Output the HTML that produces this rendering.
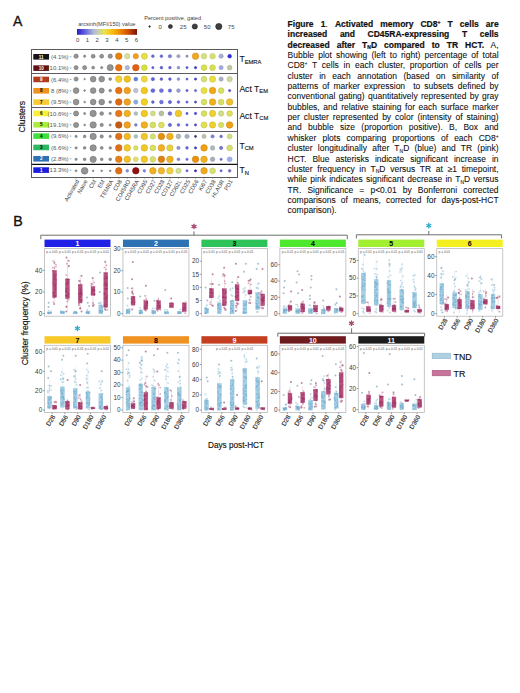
<!DOCTYPE html>
<html><head><meta charset="utf-8"><style>
html,body{margin:0;padding:0;background:#fff}
body{width:520px;height:693px;position:relative;overflow:hidden;font-family:"Liberation Sans", sans-serif}
.cap{position:absolute;left:287.6px;top:18.9px;width:211px;font-size:8.5px;line-height:10.36px;color:#111;-webkit-text-stroke:0.08px #111}
.cap .l{height:10.36px;white-space:nowrap;text-align:justify;text-align-last:justify}
.cap .l.last{text-align:left;text-align-last:left}
.cap b{-webkit-text-stroke:0.2px #111}
.cap sup{font-size:5px;vertical-align:0;position:relative;top:-3px}
.cap sub{font-size:5px;vertical-align:0;position:relative;top:1.5px}
</style></head><body>
<svg width="520" height="693" viewBox="0 0 520 693" style="position:absolute;left:0;top:0" font-family='"Liberation Sans", sans-serif'><rect x="31.5" y="49.5" width="206" height="128" fill="none" stroke="#5a5a5a" stroke-width="1"/><line x1="31.5" x2="237.5" y1="73.5" y2="73.5" stroke="#5e5a64" stroke-width="1"/><line x1="31.5" x2="237.5" y1="107.5" y2="107.5" stroke="#5e5a64" stroke-width="1"/><line x1="31.5" x2="237.5" y1="131.5" y2="131.5" stroke="#5e5a64" stroke-width="1"/><line x1="31.5" x2="237.5" y1="164.4" y2="164.4" stroke="#111" stroke-width="1.3"/><rect x="33.3" y="54.00" width="15.7" height="5.6" fill="#151515"/><text x="41.2" y="58.50" font-size="4.6" font-weight="bold" fill="#fff" text-anchor="middle">11</text><text x="68.6" y="58.90" font-size="6" fill="#555" text-anchor="end">(4.1%)</text><line x1="69.8" x2="71.3" y1="56.80" y2="56.80" stroke="#777" stroke-width="0.7"/><circle cx="76.10" cy="56.20" r="2.15" fill="#949494" stroke="#727272" stroke-width="0.6"/><circle cx="84.63" cy="56.20" r="1.15" fill="#949494" stroke="#727272" stroke-width="0.6"/><circle cx="93.16" cy="56.20" r="1.95" fill="#949494" stroke="#727272" stroke-width="0.6"/><circle cx="101.69" cy="56.20" r="1.95" fill="#949494" stroke="#727272" stroke-width="0.6"/><circle cx="110.22" cy="56.20" r="2.15" fill="#949494" stroke="#727272" stroke-width="0.6"/><circle cx="118.75" cy="56.20" r="3.27" fill="#e8820a" stroke="#c76f08" stroke-width="0.55"/><circle cx="127.28" cy="56.20" r="2.65" fill="#d8e0a0" stroke="#b9c089" stroke-width="0.55"/><circle cx="135.81" cy="56.20" r="2.65" fill="#f0a020" stroke="#ce891b" stroke-width="0.55"/><circle cx="144.34" cy="56.20" r="3.05" fill="#e8e040" stroke="#c7c037" stroke-width="0.55"/><circle cx="152.87" cy="56.20" r="1.35" fill="#6a6ae0" stroke="#5b5bc0" stroke-width="0.55"/><circle cx="161.40" cy="56.20" r="1.35" fill="#6a6ae0" stroke="#5b5bc0" stroke-width="0.55"/><circle cx="169.93" cy="56.20" r="1.65" fill="#8080e0" stroke="#6e6ec0" stroke-width="0.55"/><circle cx="178.46" cy="56.20" r="1.65" fill="#a0a8d0" stroke="#8990b2" stroke-width="0.55"/><circle cx="186.99" cy="56.20" r="1.15" fill="#9090c0" stroke="#7b7ba5" stroke-width="0.55"/><circle cx="195.52" cy="56.20" r="3.27" fill="#f0a820" stroke="#ce901b" stroke-width="0.55"/><circle cx="204.05" cy="56.20" r="2.75" fill="#d8e080" stroke="#b9c06e" stroke-width="0.55"/><circle cx="212.58" cy="56.20" r="2.75" fill="#d8e070" stroke="#b9c060" stroke-width="0.55"/><circle cx="221.11" cy="56.20" r="2.15" fill="#a8b0d0" stroke="#9097b2" stroke-width="0.55"/><circle cx="229.64" cy="56.20" r="1.85" fill="#3030e0" stroke="#2929c0" stroke-width="0.55"/><rect x="33.3" y="65.33" width="15.7" height="5.6" fill="#5e1414"/><text x="41.2" y="69.83" font-size="4.6" font-weight="bold" fill="#fff" text-anchor="middle">10</text><text x="68.6" y="70.23" font-size="6" fill="#555" text-anchor="end">(10.1%)</text><line x1="69.8" x2="71.3" y1="68.13" y2="68.13" stroke="#777" stroke-width="0.7"/><circle cx="76.10" cy="67.66" r="2.05" fill="#949494" stroke="#727272" stroke-width="0.6"/><circle cx="84.63" cy="67.66" r="2.05" fill="#949494" stroke="#727272" stroke-width="0.6"/><circle cx="93.16" cy="67.66" r="1.45" fill="#949494" stroke="#727272" stroke-width="0.6"/><circle cx="101.69" cy="67.66" r="1.15" fill="#949494" stroke="#727272" stroke-width="0.6"/><circle cx="110.22" cy="67.66" r="3.05" fill="#949494" stroke="#727272" stroke-width="0.6"/><circle cx="118.75" cy="67.66" r="3.27" fill="#e87010" stroke="#c7600d" stroke-width="0.55"/><circle cx="127.28" cy="67.66" r="2.25" fill="#b0b8d0" stroke="#979eb2" stroke-width="0.55"/><circle cx="135.81" cy="67.66" r="3.27" fill="#e06010" stroke="#c0520d" stroke-width="0.55"/><circle cx="144.34" cy="67.66" r="2.85" fill="#d8e040" stroke="#b9c037" stroke-width="0.55"/><circle cx="152.87" cy="67.66" r="1.15" fill="#6060e0" stroke="#5252c0" stroke-width="0.55"/><circle cx="161.40" cy="67.66" r="1.35" fill="#6060e0" stroke="#5252c0" stroke-width="0.55"/><circle cx="169.93" cy="67.66" r="1.35" fill="#6868e0" stroke="#5959c0" stroke-width="0.55"/><circle cx="178.46" cy="67.66" r="1.35" fill="#9098d0" stroke="#7b82b2" stroke-width="0.55"/><circle cx="186.99" cy="67.66" r="1.15" fill="#6060e0" stroke="#5252c0" stroke-width="0.55"/><circle cx="195.52" cy="67.66" r="1.15" fill="#3030e0" stroke="#2929c0" stroke-width="0.55"/><circle cx="204.05" cy="67.66" r="2.85" fill="#d8e050" stroke="#b9c044" stroke-width="0.55"/><circle cx="212.58" cy="67.66" r="2.85" fill="#d8e050" stroke="#b9c044" stroke-width="0.55"/><circle cx="221.11" cy="67.66" r="2.05" fill="#a0a8e0" stroke="#8990c0" stroke-width="0.55"/><circle cx="229.64" cy="67.66" r="2.35" fill="#c0c8a0" stroke="#a5ac89" stroke-width="0.55"/><rect x="33.3" y="76.66" width="15.7" height="5.6" fill="#b23c22"/><text x="41.2" y="81.16" font-size="4.6" font-weight="bold" fill="#fff" text-anchor="middle">9</text><text x="68.6" y="81.56" font-size="6" fill="#555" text-anchor="end">(6.4%)</text><line x1="69.8" x2="71.3" y1="79.46" y2="79.46" stroke="#777" stroke-width="0.7"/><circle cx="76.10" cy="79.12" r="2.05" fill="#949494" stroke="#727272" stroke-width="0.6"/><circle cx="84.63" cy="79.12" r="0.75" fill="#949494" stroke="#727272" stroke-width="0.6"/><circle cx="93.16" cy="79.12" r="2.85" fill="#949494" stroke="#727272" stroke-width="0.6"/><circle cx="101.69" cy="79.12" r="2.85" fill="#949494" stroke="#727272" stroke-width="0.6"/><circle cx="110.22" cy="79.12" r="1.35" fill="#949494" stroke="#727272" stroke-width="0.6"/><circle cx="118.75" cy="79.12" r="3.27" fill="#f0d030" stroke="#ceb229" stroke-width="0.55"/><circle cx="127.28" cy="79.12" r="3.27" fill="#f0c020" stroke="#cea51b" stroke-width="0.55"/><circle cx="135.81" cy="79.12" r="1.95" fill="#6080e0" stroke="#526ec0" stroke-width="0.55"/><circle cx="144.34" cy="79.12" r="3.05" fill="#f0d840" stroke="#ceb937" stroke-width="0.55"/><circle cx="152.87" cy="79.12" r="1.65" fill="#6060e0" stroke="#5252c0" stroke-width="0.55"/><circle cx="161.40" cy="79.12" r="1.35" fill="#6060e0" stroke="#5252c0" stroke-width="0.55"/><circle cx="169.93" cy="79.12" r="1.35" fill="#6060e0" stroke="#5252c0" stroke-width="0.55"/><circle cx="178.46" cy="79.12" r="1.35" fill="#9098d0" stroke="#7b82b2" stroke-width="0.55"/><circle cx="186.99" cy="79.12" r="1.05" fill="#6060e0" stroke="#5252c0" stroke-width="0.55"/><circle cx="195.52" cy="79.12" r="1.15" fill="#4040d0" stroke="#3737b2" stroke-width="0.55"/><circle cx="204.05" cy="79.12" r="2.85" fill="#d8e070" stroke="#b9c060" stroke-width="0.55"/><circle cx="212.58" cy="79.12" r="3.15" fill="#e8e040" stroke="#c7c037" stroke-width="0.55"/><circle cx="221.11" cy="79.12" r="2.15" fill="#a8b0c8" stroke="#9097ac" stroke-width="0.55"/><circle cx="229.64" cy="79.12" r="2.65" fill="#d0d8a0" stroke="#b2b989" stroke-width="0.55"/><rect x="33.3" y="87.99" width="15.7" height="5.6" fill="#f0921e"/><text x="41.2" y="92.49" font-size="4.6" font-weight="bold" fill="#000" text-anchor="middle">8</text><text x="68.6" y="92.89" font-size="6" fill="#555" text-anchor="end">8 (8%)</text><line x1="69.8" x2="71.3" y1="90.79" y2="90.79" stroke="#777" stroke-width="0.7"/><circle cx="76.10" cy="90.58" r="2.85" fill="#949494" stroke="#727272" stroke-width="0.6"/><circle cx="84.63" cy="90.58" r="0.85" fill="#949494" stroke="#727272" stroke-width="0.6"/><circle cx="93.16" cy="90.58" r="2.85" fill="#949494" stroke="#727272" stroke-width="0.6"/><circle cx="101.69" cy="90.58" r="2.55" fill="#949494" stroke="#727272" stroke-width="0.6"/><circle cx="110.22" cy="90.58" r="1.35" fill="#949494" stroke="#727272" stroke-width="0.6"/><circle cx="118.75" cy="90.58" r="3.27" fill="#e87010" stroke="#c7600d" stroke-width="0.55"/><circle cx="127.28" cy="90.58" r="3.27" fill="#f0a020" stroke="#ce891b" stroke-width="0.55"/><circle cx="135.81" cy="90.58" r="2.25" fill="#c0c0d8" stroke="#a5a5b9" stroke-width="0.55"/><circle cx="144.34" cy="90.58" r="3.27" fill="#f0c820" stroke="#ceac1b" stroke-width="0.55"/><circle cx="152.87" cy="90.58" r="1.95" fill="#6868e0" stroke="#5959c0" stroke-width="0.55"/><circle cx="161.40" cy="90.58" r="1.95" fill="#7070e0" stroke="#6060c0" stroke-width="0.55"/><circle cx="169.93" cy="90.58" r="1.65" fill="#6868e0" stroke="#5959c0" stroke-width="0.55"/><circle cx="178.46" cy="90.58" r="1.85" fill="#98a0d8" stroke="#8289b9" stroke-width="0.55"/><circle cx="186.99" cy="90.58" r="1.15" fill="#6060e0" stroke="#5252c0" stroke-width="0.55"/><circle cx="195.52" cy="90.58" r="1.15" fill="#6060e0" stroke="#5252c0" stroke-width="0.55"/><circle cx="204.05" cy="90.58" r="3.05" fill="#e8e040" stroke="#c7c037" stroke-width="0.55"/><circle cx="212.58" cy="90.58" r="3.27" fill="#f0a818" stroke="#ce9014" stroke-width="0.55"/><circle cx="221.11" cy="90.58" r="2.85" fill="#d8e060" stroke="#b9c052" stroke-width="0.55"/><circle cx="229.64" cy="90.58" r="1.15" fill="#5050d0" stroke="#4444b2" stroke-width="0.55"/><rect x="33.3" y="99.32" width="15.7" height="5.6" fill="#f8cc38"/><text x="41.2" y="103.82" font-size="4.6" font-weight="bold" fill="#000" text-anchor="middle">7</text><text x="68.6" y="104.22" font-size="6" fill="#555" text-anchor="end">(9.5%)</text><line x1="69.8" x2="71.3" y1="102.12" y2="102.12" stroke="#777" stroke-width="0.7"/><circle cx="76.10" cy="102.04" r="2.85" fill="#949494" stroke="#727272" stroke-width="0.6"/><circle cx="84.63" cy="102.04" r="0.85" fill="#949494" stroke="#727272" stroke-width="0.6"/><circle cx="93.16" cy="102.04" r="2.85" fill="#949494" stroke="#727272" stroke-width="0.6"/><circle cx="101.69" cy="102.04" r="2.85" fill="#949494" stroke="#727272" stroke-width="0.6"/><circle cx="110.22" cy="102.04" r="1.35" fill="#949494" stroke="#727272" stroke-width="0.6"/><circle cx="118.75" cy="102.04" r="3.27" fill="#e06810" stroke="#c0590d" stroke-width="0.55"/><circle cx="127.28" cy="102.04" r="3.27" fill="#f0a020" stroke="#ce891b" stroke-width="0.55"/><circle cx="135.81" cy="102.04" r="2.15" fill="#90a8e0" stroke="#7b90c0" stroke-width="0.55"/><circle cx="144.34" cy="102.04" r="3.27" fill="#f0d020" stroke="#ceb21b" stroke-width="0.55"/><circle cx="152.87" cy="102.04" r="1.35" fill="#6060e0" stroke="#5252c0" stroke-width="0.55"/><circle cx="161.40" cy="102.04" r="1.85" fill="#7070e0" stroke="#6060c0" stroke-width="0.55"/><circle cx="169.93" cy="102.04" r="1.65" fill="#6868e0" stroke="#5959c0" stroke-width="0.55"/><circle cx="178.46" cy="102.04" r="1.35" fill="#6868e0" stroke="#5959c0" stroke-width="0.55"/><circle cx="186.99" cy="102.04" r="1.15" fill="#6060e0" stroke="#5252c0" stroke-width="0.55"/><circle cx="195.52" cy="102.04" r="1.15" fill="#5050d0" stroke="#4444b2" stroke-width="0.55"/><circle cx="204.05" cy="102.04" r="2.85" fill="#d8e060" stroke="#b9c052" stroke-width="0.55"/><circle cx="212.58" cy="102.04" r="3.27" fill="#f0b020" stroke="#ce971b" stroke-width="0.55"/><circle cx="221.11" cy="102.04" r="2.85" fill="#d8e060" stroke="#b9c052" stroke-width="0.55"/><circle cx="229.64" cy="102.04" r="3.27" fill="#f0c030" stroke="#cea529" stroke-width="0.55"/><rect x="33.3" y="110.65" width="15.7" height="5.6" fill="#f6f03a"/><text x="41.2" y="115.15" font-size="4.6" font-weight="bold" fill="#000" text-anchor="middle">6</text><text x="68.6" y="115.55" font-size="6" fill="#555" text-anchor="end">(10.6%)</text><line x1="69.8" x2="71.3" y1="113.45" y2="113.45" stroke="#777" stroke-width="0.7"/><circle cx="76.10" cy="113.50" r="2.55" fill="#949494" stroke="#727272" stroke-width="0.6"/><circle cx="84.63" cy="113.50" r="1.05" fill="#949494" stroke="#727272" stroke-width="0.6"/><circle cx="93.16" cy="113.50" r="3.15" fill="#949494" stroke="#727272" stroke-width="0.6"/><circle cx="101.69" cy="113.50" r="1.85" fill="#949494" stroke="#727272" stroke-width="0.6"/><circle cx="110.22" cy="113.50" r="1.15" fill="#949494" stroke="#727272" stroke-width="0.6"/><circle cx="118.75" cy="113.50" r="3.27" fill="#e87818" stroke="#c76714" stroke-width="0.55"/><circle cx="127.28" cy="113.50" r="3.27" fill="#f0b020" stroke="#ce971b" stroke-width="0.55"/><circle cx="135.81" cy="113.50" r="1.85" fill="#b0c0c0" stroke="#97a5a5" stroke-width="0.55"/><circle cx="144.34" cy="113.50" r="3.27" fill="#f0c820" stroke="#ceac1b" stroke-width="0.55"/><circle cx="152.87" cy="113.50" r="2.45" fill="#d0e080" stroke="#b2c06e" stroke-width="0.55"/><circle cx="161.40" cy="113.50" r="2.45" fill="#b8c0a0" stroke="#9ea589" stroke-width="0.55"/><circle cx="169.93" cy="113.50" r="1.85" fill="#7070e0" stroke="#6060c0" stroke-width="0.55"/><circle cx="178.46" cy="113.50" r="3.27" fill="#f0c828" stroke="#ceac22" stroke-width="0.55"/><circle cx="186.99" cy="113.50" r="1.15" fill="#6060e0" stroke="#5252c0" stroke-width="0.55"/><circle cx="195.52" cy="113.50" r="1.15" fill="#4040d0" stroke="#3737b2" stroke-width="0.55"/><circle cx="204.05" cy="113.50" r="2.85" fill="#d8e060" stroke="#b9c052" stroke-width="0.55"/><circle cx="212.58" cy="113.50" r="3.15" fill="#f0d030" stroke="#ceb229" stroke-width="0.55"/><circle cx="221.11" cy="113.50" r="2.65" fill="#d0e080" stroke="#b2c06e" stroke-width="0.55"/><circle cx="229.64" cy="113.50" r="2.85" fill="#e0e060" stroke="#c0c052" stroke-width="0.55"/><rect x="33.3" y="121.98" width="15.7" height="5.6" fill="#a8ee3a"/><text x="41.2" y="126.48" font-size="4.6" font-weight="bold" fill="#000" text-anchor="middle">5</text><text x="68.6" y="126.88" font-size="6" fill="#555" text-anchor="end">(19.1%)</text><line x1="69.8" x2="71.3" y1="124.78" y2="124.78" stroke="#777" stroke-width="0.7"/><circle cx="76.10" cy="124.96" r="2.55" fill="#949494" stroke="#727272" stroke-width="0.6"/><circle cx="84.63" cy="124.96" r="0.85" fill="#949494" stroke="#727272" stroke-width="0.6"/><circle cx="93.16" cy="124.96" r="3.15" fill="#949494" stroke="#727272" stroke-width="0.6"/><circle cx="101.69" cy="124.96" r="1.65" fill="#949494" stroke="#727272" stroke-width="0.6"/><circle cx="110.22" cy="124.96" r="1.05" fill="#949494" stroke="#727272" stroke-width="0.6"/><circle cx="118.75" cy="124.96" r="3.27" fill="#c85a10" stroke="#ac4d0d" stroke-width="0.55"/><circle cx="127.28" cy="124.96" r="3.27" fill="#f0a020" stroke="#ce891b" stroke-width="0.55"/><circle cx="135.81" cy="124.96" r="1.35" fill="#8080e0" stroke="#6e6ec0" stroke-width="0.55"/><circle cx="144.34" cy="124.96" r="3.27" fill="#f0b020" stroke="#ce971b" stroke-width="0.55"/><circle cx="152.87" cy="124.96" r="2.85" fill="#d8e060" stroke="#b9c052" stroke-width="0.55"/><circle cx="161.40" cy="124.96" r="2.85" fill="#e0e060" stroke="#c0c052" stroke-width="0.55"/><circle cx="169.93" cy="124.96" r="1.65" fill="#6868e0" stroke="#5959c0" stroke-width="0.55"/><circle cx="178.46" cy="124.96" r="1.35" fill="#6868e0" stroke="#5959c0" stroke-width="0.55"/><circle cx="186.99" cy="124.96" r="1.15" fill="#6060e0" stroke="#5252c0" stroke-width="0.55"/><circle cx="195.52" cy="124.96" r="1.15" fill="#5050d0" stroke="#4444b2" stroke-width="0.55"/><circle cx="204.05" cy="124.96" r="3.05" fill="#e0e050" stroke="#c0c044" stroke-width="0.55"/><circle cx="212.58" cy="124.96" r="3.15" fill="#f0d030" stroke="#ceb229" stroke-width="0.55"/><circle cx="221.11" cy="124.96" r="2.65" fill="#d8e060" stroke="#b9c052" stroke-width="0.55"/><circle cx="229.64" cy="124.96" r="3.27" fill="#f0a010" stroke="#ce890d" stroke-width="0.55"/><rect x="33.3" y="133.31" width="15.7" height="5.6" fill="#3ee03a"/><text x="41.2" y="137.81" font-size="4.6" font-weight="bold" fill="#000" text-anchor="middle">4</text><text x="68.6" y="138.21" font-size="6" fill="#555" text-anchor="end">(9.6%)</text><line x1="69.8" x2="71.3" y1="136.11" y2="136.11" stroke="#777" stroke-width="0.7"/><circle cx="76.10" cy="136.42" r="1.15" fill="#949494" stroke="#727272" stroke-width="0.6"/><circle cx="84.63" cy="136.42" r="1.35" fill="#949494" stroke="#727272" stroke-width="0.6"/><circle cx="93.16" cy="136.42" r="3.15" fill="#949494" stroke="#727272" stroke-width="0.6"/><circle cx="101.69" cy="136.42" r="1.65" fill="#949494" stroke="#727272" stroke-width="0.6"/><circle cx="110.22" cy="136.42" r="1.15" fill="#949494" stroke="#727272" stroke-width="0.6"/><circle cx="118.75" cy="136.42" r="3.27" fill="#e07018" stroke="#c06014" stroke-width="0.55"/><circle cx="127.28" cy="136.42" r="3.27" fill="#f0b828" stroke="#ce9e22" stroke-width="0.55"/><circle cx="135.81" cy="136.42" r="1.85" fill="#b0c0c0" stroke="#97a5a5" stroke-width="0.55"/><circle cx="144.34" cy="136.42" r="3.27" fill="#f0c828" stroke="#ceac22" stroke-width="0.55"/><circle cx="152.87" cy="136.42" r="2.65" fill="#d8e070" stroke="#b9c060" stroke-width="0.55"/><circle cx="161.40" cy="136.42" r="3.27" fill="#e89010" stroke="#c77b0d" stroke-width="0.55"/><circle cx="169.93" cy="136.42" r="3.27" fill="#f0b020" stroke="#ce971b" stroke-width="0.55"/><circle cx="178.46" cy="136.42" r="2.35" fill="#b0b8b8" stroke="#979e9e" stroke-width="0.55"/><circle cx="186.99" cy="136.42" r="2.15" fill="#a8b0c8" stroke="#9097ac" stroke-width="0.55"/><circle cx="195.52" cy="136.42" r="1.05" fill="#303080" stroke="#29296e" stroke-width="0.55"/><circle cx="204.05" cy="136.42" r="2.05" fill="#c0c0b0" stroke="#a5a597" stroke-width="0.55"/><circle cx="212.58" cy="136.42" r="1.65" fill="#8080e0" stroke="#6e6ec0" stroke-width="0.55"/><circle cx="221.11" cy="136.42" r="1.35" fill="#7070e0" stroke="#6060c0" stroke-width="0.55"/><circle cx="229.64" cy="136.42" r="2.45" fill="#d0e080" stroke="#b2c06e" stroke-width="0.55"/><rect x="33.3" y="144.64" width="15.7" height="5.6" fill="#2eb85e"/><text x="41.2" y="149.14" font-size="4.6" font-weight="bold" fill="#000" text-anchor="middle">3</text><text x="68.6" y="149.54" font-size="6" fill="#555" text-anchor="end">(6.6%)</text><line x1="69.8" x2="71.3" y1="147.44" y2="147.44" stroke="#777" stroke-width="0.7"/><circle cx="76.10" cy="147.88" r="1.15" fill="#949494" stroke="#727272" stroke-width="0.6"/><circle cx="84.63" cy="147.88" r="1.35" fill="#949494" stroke="#727272" stroke-width="0.6"/><circle cx="93.16" cy="147.88" r="3.15" fill="#949494" stroke="#727272" stroke-width="0.6"/><circle cx="101.69" cy="147.88" r="1.45" fill="#949494" stroke="#727272" stroke-width="0.6"/><circle cx="110.22" cy="147.88" r="1.25" fill="#949494" stroke="#727272" stroke-width="0.6"/><circle cx="118.75" cy="147.88" r="3.27" fill="#e07018" stroke="#c06014" stroke-width="0.55"/><circle cx="127.28" cy="147.88" r="3.27" fill="#f0c828" stroke="#ceac22" stroke-width="0.55"/><circle cx="135.81" cy="147.88" r="2.25" fill="#d8e060" stroke="#b9c052" stroke-width="0.55"/><circle cx="144.34" cy="147.88" r="3.27" fill="#f0c828" stroke="#ceac22" stroke-width="0.55"/><circle cx="152.87" cy="147.88" r="2.85" fill="#d8e060" stroke="#b9c052" stroke-width="0.55"/><circle cx="161.40" cy="147.88" r="3.27" fill="#f0b020" stroke="#ce971b" stroke-width="0.55"/><circle cx="169.93" cy="147.88" r="3.15" fill="#e8d040" stroke="#c7b237" stroke-width="0.55"/><circle cx="178.46" cy="147.88" r="1.65" fill="#9090e0" stroke="#7b7bc0" stroke-width="0.55"/><circle cx="186.99" cy="147.88" r="1.35" fill="#6868e0" stroke="#5959c0" stroke-width="0.55"/><circle cx="195.52" cy="147.88" r="1.15" fill="#4040d0" stroke="#3737b2" stroke-width="0.55"/><circle cx="204.05" cy="147.88" r="3.27" fill="#f0a010" stroke="#ce890d" stroke-width="0.55"/><circle cx="212.58" cy="147.88" r="2.25" fill="#b0b8c0" stroke="#979ea5" stroke-width="0.55"/><circle cx="221.11" cy="147.88" r="1.65" fill="#7070e0" stroke="#6060c0" stroke-width="0.55"/><circle cx="229.64" cy="147.88" r="2.85" fill="#d8e070" stroke="#b9c060" stroke-width="0.55"/><rect x="33.3" y="155.97" width="15.7" height="5.6" fill="#2e72b4"/><text x="41.2" y="160.47" font-size="4.6" font-weight="bold" fill="#fff" text-anchor="middle">2</text><text x="68.6" y="160.87" font-size="6" fill="#555" text-anchor="end">(2.8%)</text><line x1="69.8" x2="71.3" y1="158.77" y2="158.77" stroke="#777" stroke-width="0.7"/><circle cx="76.10" cy="159.34" r="1.15" fill="#949494" stroke="#727272" stroke-width="0.6"/><circle cx="84.63" cy="159.34" r="1.35" fill="#949494" stroke="#727272" stroke-width="0.6"/><circle cx="93.16" cy="159.34" r="3.15" fill="#949494" stroke="#727272" stroke-width="0.6"/><circle cx="101.69" cy="159.34" r="1.35" fill="#949494" stroke="#727272" stroke-width="0.6"/><circle cx="110.22" cy="159.34" r="1.35" fill="#949494" stroke="#727272" stroke-width="0.6"/><circle cx="118.75" cy="159.34" r="3.27" fill="#e88018" stroke="#c76e14" stroke-width="0.55"/><circle cx="127.28" cy="159.34" r="3.27" fill="#f0c028" stroke="#cea522" stroke-width="0.55"/><circle cx="135.81" cy="159.34" r="2.45" fill="#e0e070" stroke="#c0c060" stroke-width="0.55"/><circle cx="144.34" cy="159.34" r="3.27" fill="#f0c828" stroke="#ceac22" stroke-width="0.55"/><circle cx="152.87" cy="159.34" r="2.85" fill="#d8e070" stroke="#b9c060" stroke-width="0.55"/><circle cx="161.40" cy="159.34" r="3.27" fill="#e08010" stroke="#c06e0d" stroke-width="0.55"/><circle cx="169.93" cy="159.34" r="3.27" fill="#f0b020" stroke="#ce971b" stroke-width="0.55"/><circle cx="178.46" cy="159.34" r="1.45" fill="#8888e0" stroke="#7474c0" stroke-width="0.55"/><circle cx="186.99" cy="159.34" r="1.15" fill="#6868e0" stroke="#5959c0" stroke-width="0.55"/><circle cx="195.52" cy="159.34" r="3.27" fill="#e89010" stroke="#c77b0d" stroke-width="0.55"/><circle cx="204.05" cy="159.34" r="3.27" fill="#f0b020" stroke="#ce971b" stroke-width="0.55"/><circle cx="212.58" cy="159.34" r="2.25" fill="#a8b0c0" stroke="#9097a5" stroke-width="0.55"/><circle cx="221.11" cy="159.34" r="1.15" fill="#6868e0" stroke="#5959c0" stroke-width="0.55"/><circle cx="229.64" cy="159.34" r="2.45" fill="#a0b0f0" stroke="#8997ce" stroke-width="0.55"/><rect x="33.3" y="167.30" width="15.7" height="5.6" fill="#1c1ce0"/><text x="41.2" y="171.80" font-size="4.6" font-weight="bold" fill="#fff" text-anchor="middle">1</text><text x="68.6" y="172.20" font-size="6" fill="#555" text-anchor="end">(13.3%)</text><line x1="69.8" x2="71.3" y1="170.10" y2="170.10" stroke="#777" stroke-width="0.7"/><circle cx="76.10" cy="170.80" r="0.95" fill="#949494" stroke="#727272" stroke-width="0.6"/><circle cx="84.63" cy="170.80" r="3.35" fill="#949494" stroke="#727272" stroke-width="0.6"/><circle cx="93.16" cy="170.80" r="0.85" fill="#949494" stroke="#727272" stroke-width="0.6"/><circle cx="101.69" cy="170.80" r="0.85" fill="#949494" stroke="#727272" stroke-width="0.6"/><circle cx="110.22" cy="170.80" r="0.85" fill="#949494" stroke="#727272" stroke-width="0.6"/><circle cx="118.75" cy="170.80" r="3.27" fill="#e07018" stroke="#c06014" stroke-width="0.55"/><circle cx="127.28" cy="170.80" r="1.35" fill="#8888e0" stroke="#7474c0" stroke-width="0.55"/><circle cx="135.81" cy="170.80" r="3.27" fill="#901010" stroke="#7b0d0d" stroke-width="0.55"/><circle cx="144.34" cy="170.80" r="1.35" fill="#8888e0" stroke="#7474c0" stroke-width="0.55"/><circle cx="152.87" cy="170.80" r="3.27" fill="#f0b020" stroke="#ce971b" stroke-width="0.55"/><circle cx="161.40" cy="170.80" r="3.27" fill="#f0b830" stroke="#ce9e29" stroke-width="0.55"/><circle cx="169.93" cy="170.80" r="3.27" fill="#f0d040" stroke="#ceb237" stroke-width="0.55"/><circle cx="178.46" cy="170.80" r="2.65" fill="#d0e090" stroke="#b2c07b" stroke-width="0.55"/><circle cx="186.99" cy="170.80" r="1.15" fill="#6868e0" stroke="#5959c0" stroke-width="0.55"/><circle cx="195.52" cy="170.80" r="1.15" fill="#3030d0" stroke="#2929b2" stroke-width="0.55"/><circle cx="204.05" cy="170.80" r="3.27" fill="#f0a820" stroke="#ce901b" stroke-width="0.55"/><circle cx="212.58" cy="170.80" r="2.85" fill="#d8e070" stroke="#b9c060" stroke-width="0.55"/><circle cx="221.11" cy="170.80" r="1.15" fill="#6868e0" stroke="#5959c0" stroke-width="0.55"/><circle cx="229.64" cy="170.80" r="1.35" fill="#7070d0" stroke="#6060b2" stroke-width="0.55"/><line x1="76.10" x2="76.10" y1="177" y2="178.6" stroke="#555" stroke-width="0.6"/><text transform="translate(79.40,181.3) rotate(-60)" font-size="5.8" fill="#333" text-anchor="end">Activated</text><line x1="84.63" x2="84.63" y1="177" y2="178.6" stroke="#555" stroke-width="0.6"/><text transform="translate(87.93,181.3) rotate(-60)" font-size="5.8" fill="#333" text-anchor="end">Naive</text><line x1="93.16" x2="93.16" y1="177" y2="178.6" stroke="#555" stroke-width="0.6"/><text transform="translate(96.46,181.3) rotate(-60)" font-size="5.8" fill="#333" text-anchor="end">CM</text><line x1="101.69" x2="101.69" y1="177" y2="178.6" stroke="#555" stroke-width="0.6"/><text transform="translate(104.99,181.3) rotate(-60)" font-size="5.8" fill="#333" text-anchor="end">EM</text><line x1="110.22" x2="110.22" y1="177" y2="178.6" stroke="#555" stroke-width="0.6"/><text transform="translate(113.52,181.3) rotate(-60)" font-size="5.8" fill="#333" text-anchor="end">TEMRA</text><line x1="118.75" x2="118.75" y1="177" y2="178.6" stroke="#555" stroke-width="0.6"/><text transform="translate(122.05,181.3) rotate(-60)" font-size="5.8" fill="#333" text-anchor="end">CD8</text><line x1="127.28" x2="127.28" y1="177" y2="178.6" stroke="#555" stroke-width="0.6"/><text transform="translate(130.58,181.3) rotate(-60)" font-size="5.8" fill="#333" text-anchor="end">CD45RO</text><line x1="135.81" x2="135.81" y1="177" y2="178.6" stroke="#555" stroke-width="0.6"/><text transform="translate(139.11,181.3) rotate(-60)" font-size="5.8" fill="#333" text-anchor="end">CD45RA</text><line x1="144.34" x2="144.34" y1="177" y2="178.6" stroke="#555" stroke-width="0.6"/><text transform="translate(147.64,181.3) rotate(-60)" font-size="5.8" fill="#333" text-anchor="end">CD95</text><line x1="152.87" x2="152.87" y1="177" y2="178.6" stroke="#555" stroke-width="0.6"/><text transform="translate(156.17,181.3) rotate(-60)" font-size="5.8" fill="#333" text-anchor="end">CD27</text><line x1="161.40" x2="161.40" y1="177" y2="178.6" stroke="#555" stroke-width="0.6"/><text transform="translate(164.70,181.3) rotate(-60)" font-size="5.8" fill="#333" text-anchor="end">CD28</text><line x1="169.93" x2="169.93" y1="177" y2="178.6" stroke="#555" stroke-width="0.6"/><text transform="translate(173.23,181.3) rotate(-60)" font-size="5.8" fill="#333" text-anchor="end">CD127</text><line x1="178.46" x2="178.46" y1="177" y2="178.6" stroke="#555" stroke-width="0.6"/><text transform="translate(181.76,181.3) rotate(-60)" font-size="5.8" fill="#333" text-anchor="end">CD62L</text><line x1="186.99" x2="186.99" y1="177" y2="178.6" stroke="#555" stroke-width="0.6"/><text transform="translate(190.29,181.3) rotate(-60)" font-size="5.8" fill="#333" text-anchor="end">CD25</text><line x1="195.52" x2="195.52" y1="177" y2="178.6" stroke="#555" stroke-width="0.6"/><text transform="translate(198.82,181.3) rotate(-60)" font-size="5.8" fill="#333" text-anchor="end">CD56</text><line x1="204.05" x2="204.05" y1="177" y2="178.6" stroke="#555" stroke-width="0.6"/><text transform="translate(207.35,181.3) rotate(-60)" font-size="5.8" fill="#333" text-anchor="end">Ki67</text><line x1="212.58" x2="212.58" y1="177" y2="178.6" stroke="#555" stroke-width="0.6"/><text transform="translate(215.88,181.3) rotate(-60)" font-size="5.8" fill="#333" text-anchor="end">CD38</text><line x1="221.11" x2="221.11" y1="177" y2="178.6" stroke="#555" stroke-width="0.6"/><text transform="translate(224.41,181.3) rotate(-60)" font-size="5.8" fill="#333" text-anchor="end">HLADR</text><line x1="229.64" x2="229.64" y1="177" y2="178.6" stroke="#555" stroke-width="0.6"/><text transform="translate(232.94,181.3) rotate(-60)" font-size="5.8" fill="#333" text-anchor="end">PD1</text><text x="239.4" y="62.3" font-size="8.6" fill="#111" stroke="#111" stroke-width="0.12">T<tspan font-size="5.8" dy="1.8">EMRA</tspan></text><text x="239.4" y="91.6" font-size="8.6" fill="#111" stroke="#111" stroke-width="0.12">Act T<tspan font-size="5.8" dy="1.8">EM</tspan></text><text x="239.4" y="118.6" font-size="8.6" fill="#111" stroke="#111" stroke-width="0.12">Act T<tspan font-size="5.8" dy="1.8">CM</tspan></text><text x="239.4" y="148.5" font-size="8.6" fill="#111" stroke="#111" stroke-width="0.12">T<tspan font-size="5.8" dy="1.8">CM</tspan></text><text x="239.4" y="173" font-size="8.6" fill="#111" stroke="#111" stroke-width="0.12">T<tspan font-size="5.8" dy="1.8">N</tspan></text><text transform="translate(24.9,116.7) rotate(-90)" font-size="8.6" fill="#111" stroke="#111" stroke-width="0.15" text-anchor="middle">Clusters</text><text x="13.0" y="25.6" font-size="14" fill="#111" stroke="#111" stroke-width="0.3">A</text><defs><linearGradient id="cb" x1="0" x2="1" y1="0" y2="0"><stop offset="0" stop-color="#2c1cc4"/><stop offset="0.12" stop-color="#5a5ae0"/><stop offset="0.28" stop-color="#b0bcd4"/><stop offset="0.36" stop-color="#c8d0a8"/><stop offset="0.46" stop-color="#ece24a"/><stop offset="0.58" stop-color="#f8c010"/><stop offset="0.70" stop-color="#f09000"/><stop offset="0.85" stop-color="#d05000"/><stop offset="1" stop-color="#7a1008"/></linearGradient></defs><rect x="77" y="29" width="60" height="5.8" fill="url(#cb)"/><text x="106.8" y="26.2" font-size="5.6" fill="#444" text-anchor="middle">arcsinh(MFI/150) value</text><text x="77.60" y="42.2" font-size="6" fill="#444" text-anchor="middle">0</text><text x="87.40" y="42.2" font-size="6" fill="#444" text-anchor="middle">1</text><text x="97.20" y="42.2" font-size="6" fill="#444" text-anchor="middle">2</text><text x="107.00" y="42.2" font-size="6" fill="#444" text-anchor="middle">3</text><text x="116.80" y="42.2" font-size="6" fill="#444" text-anchor="middle">4</text><text x="126.60" y="42.2" font-size="6" fill="#444" text-anchor="middle">5</text><text x="136.40" y="42.2" font-size="6" fill="#444" text-anchor="middle">6</text><text x="144.2" y="19.6" font-size="5.6" fill="#444">Percent positive, gated</text><circle cx="149.6" cy="26.5" r="0.8" fill="#404040" stroke="#1a1a1a" stroke-width="0.6"/><text x="160.2" y="28.6" font-size="6" fill="#444" text-anchor="middle">0</text><circle cx="170.4" cy="26.5" r="2.0" fill="#404040" stroke="#1a1a1a" stroke-width="0.6"/><text x="183.2" y="28.6" font-size="6" fill="#444" text-anchor="middle">25</text><circle cx="194.8" cy="26.5" r="2.6" fill="#404040" stroke="#1a1a1a" stroke-width="0.6"/><text x="207.2" y="28.6" font-size="6" fill="#444" text-anchor="middle">50</text><circle cx="218.8" cy="26.5" r="3.1" fill="#404040" stroke="#1a1a1a" stroke-width="0.6"/><text x="231.2" y="28.6" font-size="6" fill="#444" text-anchor="middle">75</text><text x="13.3" y="225.9" font-size="14.2" fill="#111" stroke="#111" stroke-width="0.35">B</text><rect x="44.5" y="239.6" width="66.0" height="7.4" fill="#2020e6"/><text x="77.50" y="246.40" font-size="7" font-weight="bold" fill="#fff" text-anchor="middle">1</text><rect x="44.5" y="248.6" width="66.0" height="67.60" fill="#fff" stroke="#b8b8b8" stroke-width="0.8"/><line x1="42.9" x2="44.5" y1="313.60" y2="313.60" stroke="#555" stroke-width="0.6"/><text x="42.20" y="315.80" font-size="6.4" fill="#3a3a3a" text-anchor="end">0</text><line x1="42.9" x2="44.5" y1="292.00" y2="292.00" stroke="#555" stroke-width="0.6"/><text x="42.20" y="294.20" font-size="6.4" fill="#3a3a3a" text-anchor="end">20</text><line x1="42.9" x2="44.5" y1="270.40" y2="270.40" stroke="#555" stroke-width="0.6"/><text x="42.20" y="272.60" font-size="6.4" fill="#3a3a3a" text-anchor="end">40</text><line x1="49.60" x2="49.60" y1="310.36" y2="313.60" stroke="#94c4dc" stroke-width="0.45" opacity="0.4"/><rect x="47.65" y="311.98" width="3.9" height="1.62" fill="#a6d0e4" stroke="#94c4dc" stroke-width="0.4"/><line x1="47.65" x2="51.55" y1="313.06" y2="313.06" stroke="#94c4dc" stroke-width="0.5"/><circle cx="48.3" cy="313.1" r="0.8" fill="#6eaace" opacity="0.5"/><circle cx="48.1" cy="312.5" r="0.8" fill="#6eaace" opacity="0.5"/><circle cx="49.1" cy="312.7" r="0.8" fill="#6eaace" opacity="0.5"/><circle cx="49.6" cy="313.5" r="0.8" fill="#6eaace" opacity="0.5"/><circle cx="49.4" cy="313.5" r="0.8" fill="#6eaace" opacity="0.5"/><circle cx="48.1" cy="313.5" r="0.8" fill="#6eaace" opacity="0.5"/><circle cx="50.8" cy="312.9" r="0.8" fill="#6eaace" opacity="0.5"/><circle cx="48.6" cy="313.4" r="0.8" fill="#6eaace" opacity="0.5"/><circle cx="51.2" cy="312.6" r="0.8" fill="#6eaace" opacity="0.5"/><circle cx="51.3" cy="311.3" r="0.85" fill="#88b8d2" opacity="0.55"/><circle cx="48.8" cy="310.6" r="0.85" fill="#88b8d2" opacity="0.55"/><circle cx="48.6" cy="302.8" r="1.0" fill="#8aa8bc" opacity="0.75"/><circle cx="48.5" cy="307.1" r="1.0" fill="#8aa8bc" opacity="0.75"/><line x1="54.60" x2="54.60" y1="259.60" y2="302.80" stroke="#a84070" stroke-width="0.45" opacity="0.4"/><rect x="52.65" y="270.40" width="3.9" height="27.00" fill="#bb5280" stroke="#a84070" stroke-width="0.4"/><line x1="52.65" x2="56.55" y1="284.44" y2="284.44" stroke="#a84070" stroke-width="0.5"/><circle cx="55.7" cy="289.1" r="0.8" fill="#983060" opacity="0.5"/><circle cx="54.9" cy="292.5" r="0.8" fill="#983060" opacity="0.5"/><circle cx="54.1" cy="280.1" r="0.8" fill="#983060" opacity="0.5"/><circle cx="53.0" cy="282.6" r="0.8" fill="#983060" opacity="0.5"/><circle cx="53.5" cy="295.8" r="0.8" fill="#983060" opacity="0.5"/><circle cx="54.3" cy="279.0" r="0.8" fill="#983060" opacity="0.5"/><circle cx="54.9" cy="288.9" r="0.8" fill="#983060" opacity="0.5"/><circle cx="53.9" cy="285.2" r="0.8" fill="#983060" opacity="0.5"/><circle cx="55.3" cy="276.0" r="0.8" fill="#983060" opacity="0.5"/><circle cx="54.9" cy="290.8" r="0.8" fill="#983060" opacity="0.5"/><circle cx="56.0" cy="283.2" r="0.8" fill="#983060" opacity="0.5"/><circle cx="53.8" cy="277.7" r="0.8" fill="#983060" opacity="0.5"/><circle cx="53.2" cy="270.9" r="0.8" fill="#983060" opacity="0.5"/><circle cx="55.5" cy="286.1" r="0.8" fill="#983060" opacity="0.5"/><circle cx="54.6" cy="293.3" r="0.8" fill="#983060" opacity="0.5"/><circle cx="55.2" cy="296.3" r="0.8" fill="#983060" opacity="0.5"/><circle cx="54.9" cy="276.8" r="0.8" fill="#983060" opacity="0.5"/><circle cx="53.9" cy="273.8" r="0.8" fill="#983060" opacity="0.5"/><circle cx="54.9" cy="278.6" r="0.8" fill="#983060" opacity="0.5"/><circle cx="54.4" cy="281.7" r="0.8" fill="#983060" opacity="0.5"/><circle cx="56.2" cy="274.7" r="0.8" fill="#983060" opacity="0.5"/><circle cx="55.2" cy="284.6" r="0.8" fill="#983060" opacity="0.5"/><circle cx="55.3" cy="295.8" r="0.8" fill="#983060" opacity="0.5"/><circle cx="56.4" cy="279.9" r="0.8" fill="#983060" opacity="0.5"/><circle cx="53.8" cy="275.2" r="0.8" fill="#983060" opacity="0.5"/><circle cx="55.2" cy="287.0" r="0.8" fill="#983060" opacity="0.5"/><circle cx="54.5" cy="296.8" r="0.8" fill="#983060" opacity="0.5"/><circle cx="53.2" cy="292.9" r="0.8" fill="#983060" opacity="0.5"/><circle cx="55.6" cy="295.8" r="0.8" fill="#983060" opacity="0.5"/><circle cx="53.7" cy="293.9" r="0.8" fill="#983060" opacity="0.5"/><circle cx="53.1" cy="261.0" r="0.85" fill="#b0607f" opacity="0.55"/><circle cx="56.0" cy="264.5" r="0.85" fill="#b0607f" opacity="0.55"/><circle cx="53.8" cy="298.1" r="0.85" fill="#b0607f" opacity="0.55"/><circle cx="56.0" cy="266.5" r="0.85" fill="#b0607f" opacity="0.55"/><circle cx="53.4" cy="302.0" r="0.85" fill="#b0607f" opacity="0.55"/><circle cx="54.5" cy="267.9" r="0.85" fill="#b0607f" opacity="0.55"/><circle cx="52.8" cy="267.6" r="0.85" fill="#b0607f" opacity="0.55"/><circle cx="54.4" cy="262.8" r="1.0" fill="#a06282" opacity="0.75"/><circle cx="54.2" cy="303.9" r="1.0" fill="#a06282" opacity="0.75"/><line x1="62.40" x2="62.40" y1="310.36" y2="313.60" stroke="#94c4dc" stroke-width="0.45" opacity="0.4"/><rect x="60.45" y="311.44" width="3.9" height="2.16" fill="#a6d0e4" stroke="#94c4dc" stroke-width="0.4"/><line x1="60.45" x2="64.35" y1="313.06" y2="313.06" stroke="#94c4dc" stroke-width="0.5"/><circle cx="64.0" cy="312.4" r="0.8" fill="#6eaace" opacity="0.5"/><circle cx="62.5" cy="312.1" r="0.8" fill="#6eaace" opacity="0.5"/><circle cx="63.0" cy="312.3" r="0.8" fill="#6eaace" opacity="0.5"/><circle cx="63.8" cy="313.5" r="0.8" fill="#6eaace" opacity="0.5"/><circle cx="63.7" cy="311.9" r="0.8" fill="#6eaace" opacity="0.5"/><circle cx="62.0" cy="311.9" r="0.8" fill="#6eaace" opacity="0.5"/><circle cx="61.0" cy="312.7" r="0.8" fill="#6eaace" opacity="0.5"/><circle cx="60.8" cy="312.2" r="0.8" fill="#6eaace" opacity="0.5"/><circle cx="61.4" cy="313.5" r="0.8" fill="#6eaace" opacity="0.5"/><circle cx="60.8" cy="311.1" r="0.85" fill="#88b8d2" opacity="0.55"/><circle cx="61.0" cy="311.3" r="0.85" fill="#88b8d2" opacity="0.55"/><line x1="67.40" x2="67.40" y1="259.60" y2="310.36" stroke="#a84070" stroke-width="0.45" opacity="0.4"/><rect x="65.45" y="279.04" width="3.9" height="19.44" fill="#bb5280" stroke="#a84070" stroke-width="0.4"/><line x1="65.45" x2="69.35" y1="289.84" y2="289.84" stroke="#a84070" stroke-width="0.5"/><circle cx="65.7" cy="291.4" r="0.8" fill="#983060" opacity="0.5"/><circle cx="67.8" cy="281.5" r="0.8" fill="#983060" opacity="0.5"/><circle cx="66.5" cy="295.6" r="0.8" fill="#983060" opacity="0.5"/><circle cx="66.9" cy="291.7" r="0.8" fill="#983060" opacity="0.5"/><circle cx="68.7" cy="296.1" r="0.8" fill="#983060" opacity="0.5"/><circle cx="67.3" cy="279.2" r="0.8" fill="#983060" opacity="0.5"/><circle cx="65.9" cy="289.1" r="0.8" fill="#983060" opacity="0.5"/><circle cx="66.8" cy="296.5" r="0.8" fill="#983060" opacity="0.5"/><circle cx="68.6" cy="293.3" r="0.8" fill="#983060" opacity="0.5"/><circle cx="65.7" cy="295.3" r="0.8" fill="#983060" opacity="0.5"/><circle cx="67.5" cy="280.0" r="0.8" fill="#983060" opacity="0.5"/><circle cx="67.6" cy="295.6" r="0.8" fill="#983060" opacity="0.5"/><circle cx="67.5" cy="298.0" r="0.8" fill="#983060" opacity="0.5"/><circle cx="68.7" cy="279.5" r="0.8" fill="#983060" opacity="0.5"/><circle cx="66.5" cy="284.9" r="0.8" fill="#983060" opacity="0.5"/><circle cx="66.2" cy="291.4" r="0.8" fill="#983060" opacity="0.5"/><circle cx="67.5" cy="283.5" r="0.8" fill="#983060" opacity="0.5"/><circle cx="66.8" cy="283.3" r="0.8" fill="#983060" opacity="0.5"/><circle cx="68.5" cy="294.1" r="0.8" fill="#983060" opacity="0.5"/><circle cx="68.7" cy="279.3" r="0.8" fill="#983060" opacity="0.5"/><circle cx="68.5" cy="282.8" r="0.8" fill="#983060" opacity="0.5"/><circle cx="66.4" cy="284.1" r="0.8" fill="#983060" opacity="0.5"/><circle cx="66.9" cy="288.4" r="0.8" fill="#983060" opacity="0.5"/><circle cx="66.6" cy="278.5" r="0.85" fill="#b0607f" opacity="0.55"/><circle cx="69.0" cy="265.6" r="0.85" fill="#b0607f" opacity="0.55"/><circle cx="69.2" cy="260.8" r="0.85" fill="#b0607f" opacity="0.55"/><circle cx="66.4" cy="306.0" r="0.85" fill="#b0607f" opacity="0.55"/><circle cx="66.3" cy="275.2" r="0.85" fill="#b0607f" opacity="0.55"/><circle cx="68.6" cy="299.7" r="0.85" fill="#b0607f" opacity="0.55"/><circle cx="68.5" cy="266.3" r="0.85" fill="#b0607f" opacity="0.55"/><circle cx="68.9" cy="266.2" r="0.85" fill="#b0607f" opacity="0.55"/><circle cx="67.3" cy="301.4" r="0.85" fill="#b0607f" opacity="0.55"/><circle cx="66.8" cy="263.7" r="0.85" fill="#b0607f" opacity="0.55"/><circle cx="67.0" cy="298.8" r="0.85" fill="#b0607f" opacity="0.55"/><circle cx="68.2" cy="260.6" r="0.85" fill="#b0607f" opacity="0.55"/><circle cx="66.5" cy="257.4" r="1.0" fill="#a06282" opacity="0.75"/><circle cx="66.4" cy="307.1" r="1.0" fill="#a06282" opacity="0.75"/><circle cx="66.4" cy="311.4" r="1.0" fill="#a06282" opacity="0.75"/><line x1="75.20" x2="75.20" y1="310.36" y2="313.60" stroke="#94c4dc" stroke-width="0.45" opacity="0.4"/><rect x="73.25" y="311.98" width="3.9" height="1.62" fill="#a6d0e4" stroke="#94c4dc" stroke-width="0.4"/><line x1="73.25" x2="77.15" y1="313.06" y2="313.06" stroke="#94c4dc" stroke-width="0.5"/><circle cx="76.3" cy="312.1" r="0.8" fill="#6eaace" opacity="0.5"/><circle cx="76.4" cy="313.4" r="0.8" fill="#6eaace" opacity="0.5"/><circle cx="75.8" cy="312.0" r="0.8" fill="#6eaace" opacity="0.5"/><circle cx="75.4" cy="313.0" r="0.8" fill="#6eaace" opacity="0.5"/><circle cx="73.5" cy="313.4" r="0.8" fill="#6eaace" opacity="0.5"/><circle cx="75.7" cy="312.0" r="0.8" fill="#6eaace" opacity="0.5"/><circle cx="76.8" cy="312.7" r="0.8" fill="#6eaace" opacity="0.5"/><circle cx="76.5" cy="312.9" r="0.8" fill="#6eaace" opacity="0.5"/><circle cx="74.2" cy="312.3" r="0.8" fill="#6eaace" opacity="0.5"/><circle cx="74.3" cy="311.5" r="0.85" fill="#88b8d2" opacity="0.55"/><circle cx="74.9" cy="311.6" r="0.85" fill="#88b8d2" opacity="0.55"/><line x1="80.20" x2="80.20" y1="275.80" y2="310.36" stroke="#a84070" stroke-width="0.45" opacity="0.4"/><rect x="78.25" y="284.44" width="3.9" height="18.36" fill="#bb5280" stroke="#a84070" stroke-width="0.4"/><line x1="78.25" x2="82.15" y1="294.16" y2="294.16" stroke="#a84070" stroke-width="0.5"/><circle cx="81.7" cy="300.4" r="0.8" fill="#983060" opacity="0.5"/><circle cx="80.0" cy="296.3" r="0.8" fill="#983060" opacity="0.5"/><circle cx="81.7" cy="292.1" r="0.8" fill="#983060" opacity="0.5"/><circle cx="81.7" cy="295.1" r="0.8" fill="#983060" opacity="0.5"/><circle cx="80.3" cy="293.6" r="0.8" fill="#983060" opacity="0.5"/><circle cx="78.5" cy="293.2" r="0.8" fill="#983060" opacity="0.5"/><circle cx="79.1" cy="294.7" r="0.8" fill="#983060" opacity="0.5"/><circle cx="81.3" cy="302.7" r="0.8" fill="#983060" opacity="0.5"/><circle cx="80.1" cy="299.6" r="0.8" fill="#983060" opacity="0.5"/><circle cx="80.4" cy="289.5" r="0.8" fill="#983060" opacity="0.5"/><circle cx="80.3" cy="296.8" r="0.8" fill="#983060" opacity="0.5"/><circle cx="81.2" cy="292.6" r="0.8" fill="#983060" opacity="0.5"/><circle cx="80.4" cy="300.9" r="0.8" fill="#983060" opacity="0.5"/><circle cx="79.4" cy="298.2" r="0.8" fill="#983060" opacity="0.5"/><circle cx="80.2" cy="288.6" r="0.8" fill="#983060" opacity="0.5"/><circle cx="81.1" cy="292.5" r="0.8" fill="#983060" opacity="0.5"/><circle cx="80.0" cy="286.0" r="0.8" fill="#983060" opacity="0.5"/><circle cx="80.2" cy="291.6" r="0.8" fill="#983060" opacity="0.5"/><circle cx="80.9" cy="293.4" r="0.8" fill="#983060" opacity="0.5"/><circle cx="80.3" cy="294.5" r="0.8" fill="#983060" opacity="0.5"/><circle cx="81.8" cy="294.0" r="0.8" fill="#983060" opacity="0.5"/><circle cx="81.6" cy="290.0" r="0.8" fill="#983060" opacity="0.5"/><circle cx="80.4" cy="308.4" r="0.85" fill="#b0607f" opacity="0.55"/><circle cx="78.9" cy="304.0" r="0.85" fill="#b0607f" opacity="0.55"/><circle cx="78.7" cy="280.6" r="0.85" fill="#b0607f" opacity="0.55"/><circle cx="80.8" cy="283.8" r="0.85" fill="#b0607f" opacity="0.55"/><circle cx="79.0" cy="303.6" r="0.85" fill="#b0607f" opacity="0.55"/><circle cx="78.9" cy="305.4" r="0.85" fill="#b0607f" opacity="0.55"/><circle cx="79.2" cy="303.0" r="0.85" fill="#b0607f" opacity="0.55"/><circle cx="81.5" cy="275.8" r="1.0" fill="#a06282" opacity="0.75"/><circle cx="79.9" cy="281.2" r="1.0" fill="#a06282" opacity="0.75"/><circle cx="80.2" cy="308.2" r="1.0" fill="#a06282" opacity="0.75"/><circle cx="81.6" cy="311.4" r="1.0" fill="#a06282" opacity="0.75"/><line x1="88.00" x2="88.00" y1="309.28" y2="313.60" stroke="#94c4dc" stroke-width="0.45" opacity="0.4"/><rect x="86.05" y="311.44" width="3.9" height="2.16" fill="#a6d0e4" stroke="#94c4dc" stroke-width="0.4"/><line x1="86.05" x2="89.95" y1="313.06" y2="313.06" stroke="#94c4dc" stroke-width="0.5"/><circle cx="86.8" cy="311.8" r="0.8" fill="#6eaace" opacity="0.5"/><circle cx="88.1" cy="312.7" r="0.8" fill="#6eaace" opacity="0.5"/><circle cx="86.9" cy="312.9" r="0.8" fill="#6eaace" opacity="0.5"/><circle cx="88.8" cy="312.9" r="0.8" fill="#6eaace" opacity="0.5"/><circle cx="88.2" cy="313.6" r="0.8" fill="#6eaace" opacity="0.5"/><circle cx="86.3" cy="312.6" r="0.8" fill="#6eaace" opacity="0.5"/><circle cx="88.4" cy="312.9" r="0.8" fill="#6eaace" opacity="0.5"/><circle cx="86.4" cy="312.5" r="0.8" fill="#6eaace" opacity="0.5"/><circle cx="89.0" cy="311.5" r="0.8" fill="#6eaace" opacity="0.5"/><circle cx="87.2" cy="311.2" r="0.85" fill="#88b8d2" opacity="0.55"/><circle cx="87.2" cy="309.8" r="0.85" fill="#88b8d2" opacity="0.55"/><circle cx="87.0" cy="297.4" r="1.0" fill="#8aa8bc" opacity="0.75"/><circle cx="87.8" cy="302.8" r="1.0" fill="#8aa8bc" opacity="0.75"/><circle cx="89.2" cy="306.0" r="1.0" fill="#8aa8bc" opacity="0.75"/><line x1="93.00" x2="93.00" y1="277.96" y2="306.04" stroke="#a84070" stroke-width="0.45" opacity="0.4"/><rect x="91.05" y="286.60" width="3.9" height="8.64" fill="#bb5280" stroke="#a84070" stroke-width="0.4"/><line x1="91.05" x2="94.95" y1="290.92" y2="290.92" stroke="#a84070" stroke-width="0.5"/><circle cx="92.1" cy="288.2" r="0.8" fill="#983060" opacity="0.5"/><circle cx="94.5" cy="293.9" r="0.8" fill="#983060" opacity="0.5"/><circle cx="93.7" cy="290.3" r="0.8" fill="#983060" opacity="0.5"/><circle cx="91.4" cy="294.5" r="0.8" fill="#983060" opacity="0.5"/><circle cx="92.7" cy="289.3" r="0.8" fill="#983060" opacity="0.5"/><circle cx="94.6" cy="294.6" r="0.8" fill="#983060" opacity="0.5"/><circle cx="94.1" cy="289.8" r="0.8" fill="#983060" opacity="0.5"/><circle cx="94.3" cy="294.5" r="0.8" fill="#983060" opacity="0.5"/><circle cx="94.3" cy="294.7" r="0.8" fill="#983060" opacity="0.5"/><circle cx="92.4" cy="291.3" r="0.8" fill="#983060" opacity="0.5"/><circle cx="94.5" cy="290.5" r="0.8" fill="#983060" opacity="0.5"/><circle cx="91.7" cy="292.9" r="0.8" fill="#983060" opacity="0.5"/><circle cx="92.1" cy="290.7" r="0.8" fill="#983060" opacity="0.5"/><circle cx="91.4" cy="285.2" r="0.85" fill="#b0607f" opacity="0.55"/><circle cx="92.3" cy="283.9" r="0.85" fill="#b0607f" opacity="0.55"/><circle cx="93.0" cy="302.9" r="0.85" fill="#b0607f" opacity="0.55"/><circle cx="91.3" cy="283.6" r="0.85" fill="#b0607f" opacity="0.55"/><circle cx="93.8" cy="286.5" r="0.85" fill="#b0607f" opacity="0.55"/><circle cx="92.9" cy="304.0" r="0.85" fill="#b0607f" opacity="0.55"/><circle cx="94.1" cy="304.9" r="0.85" fill="#b0607f" opacity="0.55"/><circle cx="94.2" cy="282.3" r="0.85" fill="#b0607f" opacity="0.55"/><circle cx="92.7" cy="278.0" r="1.0" fill="#a06282" opacity="0.75"/><circle cx="93.0" cy="306.0" r="1.0" fill="#a06282" opacity="0.75"/><line x1="100.80" x2="100.80" y1="300.64" y2="313.60" stroke="#94c4dc" stroke-width="0.45" opacity="0.4"/><rect x="98.85" y="304.96" width="3.9" height="8.64" fill="#a6d0e4" stroke="#94c4dc" stroke-width="0.4"/><line x1="98.85" x2="102.75" y1="310.36" y2="310.36" stroke="#94c4dc" stroke-width="0.5"/><circle cx="102.5" cy="307.7" r="0.8" fill="#6eaace" opacity="0.5"/><circle cx="102.0" cy="310.6" r="0.8" fill="#6eaace" opacity="0.5"/><circle cx="101.3" cy="307.5" r="0.8" fill="#6eaace" opacity="0.5"/><circle cx="100.3" cy="310.1" r="0.8" fill="#6eaace" opacity="0.5"/><circle cx="99.5" cy="313.1" r="0.8" fill="#6eaace" opacity="0.5"/><circle cx="101.7" cy="313.0" r="0.8" fill="#6eaace" opacity="0.5"/><circle cx="99.6" cy="311.4" r="0.8" fill="#6eaace" opacity="0.5"/><circle cx="102.0" cy="312.9" r="0.8" fill="#6eaace" opacity="0.5"/><circle cx="101.4" cy="306.1" r="0.8" fill="#6eaace" opacity="0.5"/><circle cx="99.9" cy="311.2" r="0.8" fill="#6eaace" opacity="0.5"/><circle cx="100.7" cy="311.1" r="0.8" fill="#6eaace" opacity="0.5"/><circle cx="100.6" cy="312.2" r="0.8" fill="#6eaace" opacity="0.5"/><circle cx="102.5" cy="311.3" r="0.8" fill="#6eaace" opacity="0.5"/><circle cx="101.0" cy="305.2" r="0.8" fill="#6eaace" opacity="0.5"/><circle cx="102.5" cy="311.5" r="0.8" fill="#6eaace" opacity="0.5"/><circle cx="99.0" cy="303.4" r="0.85" fill="#88b8d2" opacity="0.55"/><circle cx="100.8" cy="302.9" r="0.85" fill="#88b8d2" opacity="0.55"/><circle cx="99.0" cy="302.8" r="0.85" fill="#88b8d2" opacity="0.55"/><circle cx="100.1" cy="272.6" r="1.0" fill="#8aa8bc" opacity="0.75"/><circle cx="99.7" cy="292.0" r="1.0" fill="#8aa8bc" opacity="0.75"/><line x1="105.80" x2="105.80" y1="261.76" y2="310.36" stroke="#a84070" stroke-width="0.45" opacity="0.4"/><rect x="103.85" y="272.56" width="3.9" height="34.56" fill="#bb5280" stroke="#a84070" stroke-width="0.4"/><line x1="103.85" x2="107.75" y1="288.76" y2="288.76" stroke="#a84070" stroke-width="0.5"/><circle cx="104.2" cy="293.3" r="0.8" fill="#983060" opacity="0.5"/><circle cx="105.1" cy="306.3" r="0.8" fill="#983060" opacity="0.5"/><circle cx="106.1" cy="299.1" r="0.8" fill="#983060" opacity="0.5"/><circle cx="106.7" cy="288.8" r="0.8" fill="#983060" opacity="0.5"/><circle cx="106.6" cy="284.4" r="0.8" fill="#983060" opacity="0.5"/><circle cx="105.4" cy="276.7" r="0.8" fill="#983060" opacity="0.5"/><circle cx="107.5" cy="295.8" r="0.8" fill="#983060" opacity="0.5"/><circle cx="106.6" cy="302.0" r="0.8" fill="#983060" opacity="0.5"/><circle cx="104.2" cy="284.9" r="0.8" fill="#983060" opacity="0.5"/><circle cx="107.2" cy="278.3" r="0.8" fill="#983060" opacity="0.5"/><circle cx="106.6" cy="285.4" r="0.8" fill="#983060" opacity="0.5"/><circle cx="104.5" cy="279.0" r="0.8" fill="#983060" opacity="0.5"/><circle cx="105.8" cy="289.0" r="0.8" fill="#983060" opacity="0.5"/><circle cx="106.9" cy="278.3" r="0.8" fill="#983060" opacity="0.5"/><circle cx="106.1" cy="278.6" r="0.8" fill="#983060" opacity="0.5"/><circle cx="106.5" cy="276.3" r="0.8" fill="#983060" opacity="0.5"/><circle cx="104.8" cy="283.2" r="0.8" fill="#983060" opacity="0.5"/><circle cx="104.5" cy="306.0" r="0.8" fill="#983060" opacity="0.5"/><circle cx="104.4" cy="294.7" r="0.8" fill="#983060" opacity="0.5"/><circle cx="106.0" cy="278.2" r="0.8" fill="#983060" opacity="0.5"/><circle cx="106.3" cy="285.4" r="0.8" fill="#983060" opacity="0.5"/><circle cx="105.8" cy="283.6" r="0.8" fill="#983060" opacity="0.5"/><circle cx="106.9" cy="307.0" r="0.8" fill="#983060" opacity="0.5"/><circle cx="105.8" cy="281.3" r="0.8" fill="#983060" opacity="0.5"/><circle cx="106.4" cy="288.6" r="0.8" fill="#983060" opacity="0.5"/><circle cx="106.7" cy="304.8" r="0.8" fill="#983060" opacity="0.5"/><circle cx="104.3" cy="298.4" r="0.8" fill="#983060" opacity="0.5"/><circle cx="106.6" cy="297.9" r="0.8" fill="#983060" opacity="0.5"/><circle cx="106.7" cy="300.0" r="0.8" fill="#983060" opacity="0.5"/><circle cx="105.8" cy="273.4" r="0.8" fill="#983060" opacity="0.5"/><circle cx="105.7" cy="293.9" r="0.8" fill="#983060" opacity="0.5"/><circle cx="106.8" cy="283.5" r="0.8" fill="#983060" opacity="0.5"/><circle cx="106.3" cy="285.8" r="0.8" fill="#983060" opacity="0.5"/><circle cx="104.5" cy="304.4" r="0.8" fill="#983060" opacity="0.5"/><circle cx="106.7" cy="298.3" r="0.8" fill="#983060" opacity="0.5"/><circle cx="106.0" cy="296.6" r="0.8" fill="#983060" opacity="0.5"/><circle cx="104.2" cy="306.7" r="0.8" fill="#983060" opacity="0.5"/><circle cx="106.5" cy="265.3" r="0.85" fill="#b0607f" opacity="0.55"/><circle cx="105.9" cy="269.4" r="0.85" fill="#b0607f" opacity="0.55"/><circle cx="104.4" cy="267.5" r="0.85" fill="#b0607f" opacity="0.55"/><circle cx="107.5" cy="309.7" r="0.85" fill="#b0607f" opacity="0.55"/><circle cx="105.7" cy="310.3" r="0.85" fill="#b0607f" opacity="0.55"/><circle cx="105.6" cy="307.2" r="0.85" fill="#b0607f" opacity="0.55"/><circle cx="105.2" cy="261.8" r="1.0" fill="#a06282" opacity="0.75"/><circle cx="105.0" cy="309.3" r="1.0" fill="#a06282" opacity="0.75"/><text x="52.10" y="253.30" font-size="3.2" fill="#555" text-anchor="middle">p = 0.01</text><text x="64.90" y="253.30" font-size="3.2" fill="#555" text-anchor="middle">p = 0.01</text><text x="77.70" y="253.30" font-size="3.2" fill="#555" text-anchor="middle">p = 0.01</text><text x="90.50" y="253.30" font-size="3.2" fill="#555" text-anchor="middle">p = 0.01</text><text x="103.30" y="253.30" font-size="3.2" fill="#555" text-anchor="middle">p = 0.01</text><rect x="122.95" y="239.6" width="66.0" height="7.4" fill="#2e72b4"/><text x="155.95" y="246.40" font-size="7" font-weight="bold" fill="#fff" text-anchor="middle">2</text><rect x="122.95" y="248.6" width="66.0" height="67.60" fill="#fff" stroke="#b8b8b8" stroke-width="0.8"/><line x1="121.35000000000001" x2="122.95" y1="313.70" y2="313.70" stroke="#555" stroke-width="0.6"/><text x="120.65" y="315.90" font-size="6.4" fill="#3a3a3a" text-anchor="end">0</text><line x1="121.35000000000001" x2="122.95" y1="292.20" y2="292.20" stroke="#555" stroke-width="0.6"/><text x="120.65" y="294.40" font-size="6.4" fill="#3a3a3a" text-anchor="end">10</text><line x1="121.35000000000001" x2="122.95" y1="270.70" y2="270.70" stroke="#555" stroke-width="0.6"/><text x="120.65" y="272.90" font-size="6.4" fill="#3a3a3a" text-anchor="end">20</text><line x1="121.35000000000001" x2="122.95" y1="249.20" y2="249.20" stroke="#555" stroke-width="0.6"/><text x="120.65" y="251.40" font-size="6.4" fill="#3a3a3a" text-anchor="end">30</text><line x1="128.05" x2="128.05" y1="305.10" y2="313.70" stroke="#94c4dc" stroke-width="0.45" opacity="0.4"/><rect x="126.10" y="309.40" width="3.9" height="4.30" fill="#a6d0e4" stroke="#94c4dc" stroke-width="0.4"/><line x1="126.10" x2="130.00" y1="312.62" y2="312.62" stroke="#94c4dc" stroke-width="0.5"/><circle cx="127.0" cy="309.6" r="0.8" fill="#6eaace" opacity="0.5"/><circle cx="126.8" cy="311.2" r="0.8" fill="#6eaace" opacity="0.5"/><circle cx="129.7" cy="311.4" r="0.8" fill="#6eaace" opacity="0.5"/><circle cx="129.2" cy="313.1" r="0.8" fill="#6eaace" opacity="0.5"/><circle cx="129.4" cy="311.5" r="0.8" fill="#6eaace" opacity="0.5"/><circle cx="127.1" cy="310.7" r="0.8" fill="#6eaace" opacity="0.5"/><circle cx="128.0" cy="309.8" r="0.8" fill="#6eaace" opacity="0.5"/><circle cx="126.3" cy="313.6" r="0.8" fill="#6eaace" opacity="0.5"/><circle cx="127.9" cy="311.6" r="0.8" fill="#6eaace" opacity="0.5"/><circle cx="126.8" cy="312.4" r="0.8" fill="#6eaace" opacity="0.5"/><circle cx="127.4" cy="312.2" r="0.8" fill="#6eaace" opacity="0.5"/><circle cx="129.0" cy="309.4" r="0.85" fill="#88b8d2" opacity="0.55"/><circle cx="129.6" cy="308.9" r="0.85" fill="#88b8d2" opacity="0.55"/><circle cx="127.3" cy="305.5" r="0.85" fill="#88b8d2" opacity="0.55"/><circle cx="127.7" cy="287.9" r="1.0" fill="#8aa8bc" opacity="0.75"/><circle cx="127.8" cy="298.6" r="1.0" fill="#8aa8bc" opacity="0.75"/><line x1="133.05" x2="133.05" y1="287.90" y2="307.25" stroke="#a84070" stroke-width="0.45" opacity="0.4"/><rect x="131.10" y="296.50" width="3.9" height="8.60" fill="#bb5280" stroke="#a84070" stroke-width="0.4"/><line x1="131.10" x2="135.00" y1="300.80" y2="300.80" stroke="#a84070" stroke-width="0.5"/><circle cx="133.4" cy="296.5" r="0.8" fill="#983060" opacity="0.5"/><circle cx="132.8" cy="302.0" r="0.8" fill="#983060" opacity="0.5"/><circle cx="131.4" cy="302.7" r="0.8" fill="#983060" opacity="0.5"/><circle cx="134.3" cy="304.2" r="0.8" fill="#983060" opacity="0.5"/><circle cx="134.6" cy="302.6" r="0.8" fill="#983060" opacity="0.5"/><circle cx="132.2" cy="303.0" r="0.8" fill="#983060" opacity="0.5"/><circle cx="131.9" cy="300.7" r="0.8" fill="#983060" opacity="0.5"/><circle cx="134.7" cy="301.9" r="0.8" fill="#983060" opacity="0.5"/><circle cx="134.2" cy="297.5" r="0.8" fill="#983060" opacity="0.5"/><circle cx="134.5" cy="299.7" r="0.8" fill="#983060" opacity="0.5"/><circle cx="133.2" cy="297.0" r="0.8" fill="#983060" opacity="0.5"/><circle cx="131.4" cy="298.9" r="0.8" fill="#983060" opacity="0.5"/><circle cx="132.9" cy="298.8" r="0.8" fill="#983060" opacity="0.5"/><circle cx="132.3" cy="291.0" r="0.85" fill="#b0607f" opacity="0.55"/><circle cx="131.7" cy="288.5" r="0.85" fill="#b0607f" opacity="0.55"/><circle cx="132.3" cy="293.5" r="0.85" fill="#b0607f" opacity="0.55"/><circle cx="132.2" cy="288.1" r="0.85" fill="#b0607f" opacity="0.55"/><circle cx="133.3" cy="293.9" r="0.85" fill="#b0607f" opacity="0.55"/><circle cx="132.8" cy="262.1" r="1.0" fill="#a06282" opacity="0.75"/><circle cx="132.1" cy="279.3" r="1.0" fill="#a06282" opacity="0.75"/><circle cx="132.1" cy="292.2" r="1.0" fill="#a06282" opacity="0.75"/><circle cx="132.2" cy="309.4" r="1.0" fill="#a06282" opacity="0.75"/><line x1="140.85" x2="140.85" y1="307.25" y2="313.70" stroke="#94c4dc" stroke-width="0.45" opacity="0.4"/><rect x="138.90" y="310.47" width="3.9" height="3.23" fill="#a6d0e4" stroke="#94c4dc" stroke-width="0.4"/><line x1="138.90" x2="142.80" y1="312.62" y2="312.62" stroke="#94c4dc" stroke-width="0.5"/><circle cx="140.8" cy="310.8" r="0.8" fill="#6eaace" opacity="0.5"/><circle cx="142.3" cy="313.0" r="0.8" fill="#6eaace" opacity="0.5"/><circle cx="140.7" cy="310.5" r="0.8" fill="#6eaace" opacity="0.5"/><circle cx="139.7" cy="313.2" r="0.8" fill="#6eaace" opacity="0.5"/><circle cx="140.3" cy="313.4" r="0.8" fill="#6eaace" opacity="0.5"/><circle cx="139.9" cy="313.4" r="0.8" fill="#6eaace" opacity="0.5"/><circle cx="141.1" cy="312.9" r="0.8" fill="#6eaace" opacity="0.5"/><circle cx="141.7" cy="310.8" r="0.8" fill="#6eaace" opacity="0.5"/><circle cx="140.5" cy="312.4" r="0.8" fill="#6eaace" opacity="0.5"/><circle cx="140.4" cy="312.0" r="0.8" fill="#6eaace" opacity="0.5"/><circle cx="140.0" cy="310.3" r="0.85" fill="#88b8d2" opacity="0.55"/><circle cx="140.9" cy="310.1" r="0.85" fill="#88b8d2" opacity="0.55"/><circle cx="139.8" cy="307.7" r="0.85" fill="#88b8d2" opacity="0.55"/><circle cx="140.2" cy="296.5" r="1.0" fill="#8aa8bc" opacity="0.75"/><line x1="145.85" x2="145.85" y1="294.35" y2="311.55" stroke="#a84070" stroke-width="0.45" opacity="0.4"/><rect x="143.90" y="300.80" width="3.9" height="8.60" fill="#bb5280" stroke="#a84070" stroke-width="0.4"/><line x1="143.90" x2="147.80" y1="305.10" y2="305.10" stroke="#a84070" stroke-width="0.5"/><circle cx="145.5" cy="307.3" r="0.8" fill="#983060" opacity="0.5"/><circle cx="147.5" cy="305.6" r="0.8" fill="#983060" opacity="0.5"/><circle cx="147.2" cy="302.1" r="0.8" fill="#983060" opacity="0.5"/><circle cx="144.2" cy="309.2" r="0.8" fill="#983060" opacity="0.5"/><circle cx="147.3" cy="303.3" r="0.8" fill="#983060" opacity="0.5"/><circle cx="146.2" cy="305.3" r="0.8" fill="#983060" opacity="0.5"/><circle cx="145.5" cy="309.4" r="0.8" fill="#983060" opacity="0.5"/><circle cx="147.0" cy="301.4" r="0.8" fill="#983060" opacity="0.5"/><circle cx="147.6" cy="302.0" r="0.8" fill="#983060" opacity="0.5"/><circle cx="144.4" cy="307.3" r="0.8" fill="#983060" opacity="0.5"/><circle cx="145.9" cy="308.1" r="0.8" fill="#983060" opacity="0.5"/><circle cx="147.4" cy="303.5" r="0.8" fill="#983060" opacity="0.5"/><circle cx="146.4" cy="303.2" r="0.8" fill="#983060" opacity="0.5"/><circle cx="146.0" cy="310.6" r="0.85" fill="#b0607f" opacity="0.55"/><circle cx="144.9" cy="295.8" r="0.85" fill="#b0607f" opacity="0.55"/><circle cx="145.1" cy="310.2" r="0.85" fill="#b0607f" opacity="0.55"/><circle cx="146.3" cy="299.2" r="0.85" fill="#b0607f" opacity="0.55"/><circle cx="144.3" cy="300.1" r="0.85" fill="#b0607f" opacity="0.55"/><circle cx="145.9" cy="285.8" r="1.0" fill="#a06282" opacity="0.75"/><line x1="153.65" x2="153.65" y1="307.25" y2="313.70" stroke="#94c4dc" stroke-width="0.45" opacity="0.4"/><rect x="151.70" y="310.47" width="3.9" height="3.23" fill="#a6d0e4" stroke="#94c4dc" stroke-width="0.4"/><line x1="151.70" x2="155.60" y1="312.62" y2="312.62" stroke="#94c4dc" stroke-width="0.5"/><circle cx="153.2" cy="311.8" r="0.8" fill="#6eaace" opacity="0.5"/><circle cx="154.0" cy="313.0" r="0.8" fill="#6eaace" opacity="0.5"/><circle cx="152.9" cy="313.7" r="0.8" fill="#6eaace" opacity="0.5"/><circle cx="155.3" cy="312.2" r="0.8" fill="#6eaace" opacity="0.5"/><circle cx="155.0" cy="311.6" r="0.8" fill="#6eaace" opacity="0.5"/><circle cx="152.7" cy="312.2" r="0.8" fill="#6eaace" opacity="0.5"/><circle cx="155.3" cy="312.9" r="0.8" fill="#6eaace" opacity="0.5"/><circle cx="153.0" cy="311.4" r="0.8" fill="#6eaace" opacity="0.5"/><circle cx="153.6" cy="313.6" r="0.8" fill="#6eaace" opacity="0.5"/><circle cx="153.4" cy="311.5" r="0.8" fill="#6eaace" opacity="0.5"/><circle cx="155.2" cy="308.3" r="0.85" fill="#88b8d2" opacity="0.55"/><circle cx="153.1" cy="310.4" r="0.85" fill="#88b8d2" opacity="0.55"/><circle cx="152.6" cy="308.3" r="0.85" fill="#88b8d2" opacity="0.55"/><circle cx="154.5" cy="300.8" r="1.0" fill="#8aa8bc" opacity="0.75"/><line x1="158.65" x2="158.65" y1="296.50" y2="311.55" stroke="#a84070" stroke-width="0.45" opacity="0.4"/><rect x="156.70" y="300.80" width="3.9" height="8.60" fill="#bb5280" stroke="#a84070" stroke-width="0.4"/><line x1="156.70" x2="160.60" y1="305.10" y2="305.10" stroke="#a84070" stroke-width="0.5"/><circle cx="158.7" cy="303.0" r="0.8" fill="#983060" opacity="0.5"/><circle cx="160.3" cy="307.6" r="0.8" fill="#983060" opacity="0.5"/><circle cx="159.8" cy="306.7" r="0.8" fill="#983060" opacity="0.5"/><circle cx="157.6" cy="307.4" r="0.8" fill="#983060" opacity="0.5"/><circle cx="157.9" cy="302.9" r="0.8" fill="#983060" opacity="0.5"/><circle cx="158.6" cy="301.2" r="0.8" fill="#983060" opacity="0.5"/><circle cx="157.7" cy="307.8" r="0.8" fill="#983060" opacity="0.5"/><circle cx="159.2" cy="305.8" r="0.8" fill="#983060" opacity="0.5"/><circle cx="157.4" cy="301.2" r="0.8" fill="#983060" opacity="0.5"/><circle cx="157.6" cy="306.0" r="0.8" fill="#983060" opacity="0.5"/><circle cx="157.4" cy="301.0" r="0.8" fill="#983060" opacity="0.5"/><circle cx="157.1" cy="309.0" r="0.8" fill="#983060" opacity="0.5"/><circle cx="160.1" cy="306.0" r="0.8" fill="#983060" opacity="0.5"/><circle cx="160.4" cy="310.0" r="0.85" fill="#b0607f" opacity="0.55"/><circle cx="157.5" cy="310.8" r="0.85" fill="#b0607f" opacity="0.55"/><circle cx="157.0" cy="309.9" r="0.85" fill="#b0607f" opacity="0.55"/><circle cx="158.2" cy="299.2" r="0.85" fill="#b0607f" opacity="0.55"/><line x1="166.45" x2="166.45" y1="309.40" y2="313.70" stroke="#94c4dc" stroke-width="0.45" opacity="0.4"/><rect x="164.50" y="311.55" width="3.9" height="2.15" fill="#a6d0e4" stroke="#94c4dc" stroke-width="0.4"/><line x1="164.50" x2="168.40" y1="313.06" y2="313.06" stroke="#94c4dc" stroke-width="0.5"/><circle cx="165.3" cy="313.0" r="0.8" fill="#6eaace" opacity="0.5"/><circle cx="165.7" cy="313.7" r="0.8" fill="#6eaace" opacity="0.5"/><circle cx="168.1" cy="312.9" r="0.8" fill="#6eaace" opacity="0.5"/><circle cx="168.1" cy="313.4" r="0.8" fill="#6eaace" opacity="0.5"/><circle cx="165.9" cy="313.3" r="0.8" fill="#6eaace" opacity="0.5"/><circle cx="167.6" cy="311.9" r="0.8" fill="#6eaace" opacity="0.5"/><circle cx="164.8" cy="312.8" r="0.8" fill="#6eaace" opacity="0.5"/><circle cx="166.0" cy="312.7" r="0.8" fill="#6eaace" opacity="0.5"/><circle cx="165.3" cy="311.7" r="0.8" fill="#6eaace" opacity="0.5"/><circle cx="164.8" cy="309.6" r="0.85" fill="#88b8d2" opacity="0.55"/><circle cx="167.4" cy="309.8" r="0.85" fill="#88b8d2" opacity="0.55"/><circle cx="165.2" cy="290.1" r="1.0" fill="#8aa8bc" opacity="0.75"/><line x1="171.45" x2="171.45" y1="302.95" y2="307.25" stroke="#a84070" stroke-width="0.45" opacity="0.4"/><rect x="169.50" y="302.95" width="3.9" height="4.30" fill="#bb5280" stroke="#a84070" stroke-width="0.4"/><line x1="169.50" x2="173.40" y1="305.10" y2="305.10" stroke="#a84070" stroke-width="0.5"/><circle cx="169.9" cy="307.1" r="0.8" fill="#983060" opacity="0.5"/><circle cx="170.6" cy="303.3" r="0.8" fill="#983060" opacity="0.5"/><circle cx="172.9" cy="304.0" r="0.8" fill="#983060" opacity="0.5"/><circle cx="170.6" cy="305.8" r="0.8" fill="#983060" opacity="0.5"/><circle cx="171.9" cy="303.1" r="0.8" fill="#983060" opacity="0.5"/><circle cx="172.2" cy="306.1" r="0.8" fill="#983060" opacity="0.5"/><circle cx="170.6" cy="305.9" r="0.8" fill="#983060" opacity="0.5"/><circle cx="172.4" cy="307.2" r="0.8" fill="#983060" opacity="0.5"/><circle cx="171.9" cy="303.3" r="0.8" fill="#983060" opacity="0.5"/><circle cx="170.5" cy="307.2" r="0.85" fill="#b0607f" opacity="0.55"/><circle cx="173.1" cy="307.2" r="0.85" fill="#b0607f" opacity="0.55"/><circle cx="171.1" cy="298.6" r="1.0" fill="#a06282" opacity="0.75"/><line x1="179.25" x2="179.25" y1="309.40" y2="313.70" stroke="#94c4dc" stroke-width="0.45" opacity="0.4"/><rect x="177.30" y="311.55" width="3.9" height="2.15" fill="#a6d0e4" stroke="#94c4dc" stroke-width="0.4"/><line x1="177.30" x2="181.20" y1="313.06" y2="313.06" stroke="#94c4dc" stroke-width="0.5"/><circle cx="179.0" cy="313.2" r="0.8" fill="#6eaace" opacity="0.5"/><circle cx="180.8" cy="312.6" r="0.8" fill="#6eaace" opacity="0.5"/><circle cx="180.3" cy="313.3" r="0.8" fill="#6eaace" opacity="0.5"/><circle cx="180.4" cy="312.1" r="0.8" fill="#6eaace" opacity="0.5"/><circle cx="179.6" cy="312.0" r="0.8" fill="#6eaace" opacity="0.5"/><circle cx="178.6" cy="313.0" r="0.8" fill="#6eaace" opacity="0.5"/><circle cx="180.3" cy="312.9" r="0.8" fill="#6eaace" opacity="0.5"/><circle cx="178.2" cy="313.5" r="0.8" fill="#6eaace" opacity="0.5"/><circle cx="178.3" cy="312.1" r="0.8" fill="#6eaace" opacity="0.5"/><circle cx="179.4" cy="311.5" r="0.85" fill="#88b8d2" opacity="0.55"/><circle cx="180.6" cy="309.4" r="0.85" fill="#88b8d2" opacity="0.55"/><line x1="184.25" x2="184.25" y1="300.80" y2="313.70" stroke="#a84070" stroke-width="0.45" opacity="0.4"/><rect x="182.30" y="302.95" width="3.9" height="8.60" fill="#bb5280" stroke="#a84070" stroke-width="0.4"/><line x1="182.30" x2="186.20" y1="307.25" y2="307.25" stroke="#a84070" stroke-width="0.5"/><circle cx="183.4" cy="303.1" r="0.8" fill="#983060" opacity="0.5"/><circle cx="182.8" cy="310.8" r="0.8" fill="#983060" opacity="0.5"/><circle cx="185.0" cy="307.3" r="0.8" fill="#983060" opacity="0.5"/><circle cx="183.3" cy="307.7" r="0.8" fill="#983060" opacity="0.5"/><circle cx="184.7" cy="308.0" r="0.8" fill="#983060" opacity="0.5"/><circle cx="185.1" cy="305.8" r="0.8" fill="#983060" opacity="0.5"/><circle cx="184.8" cy="304.3" r="0.8" fill="#983060" opacity="0.5"/><circle cx="185.5" cy="310.5" r="0.8" fill="#983060" opacity="0.5"/><circle cx="184.5" cy="309.0" r="0.8" fill="#983060" opacity="0.5"/><circle cx="185.1" cy="308.3" r="0.8" fill="#983060" opacity="0.5"/><circle cx="183.3" cy="309.8" r="0.8" fill="#983060" opacity="0.5"/><circle cx="183.0" cy="309.4" r="0.8" fill="#983060" opacity="0.5"/><circle cx="184.5" cy="303.9" r="0.8" fill="#983060" opacity="0.5"/><circle cx="186.0" cy="302.1" r="0.85" fill="#b0607f" opacity="0.55"/><circle cx="185.4" cy="313.2" r="0.85" fill="#b0607f" opacity="0.55"/><circle cx="182.8" cy="311.6" r="0.85" fill="#b0607f" opacity="0.55"/><text x="130.55" y="253.30" font-size="3.2" fill="#555" text-anchor="middle">p = 0.01</text><text x="143.35" y="253.30" font-size="3.2" fill="#555" text-anchor="middle">p = 0.01</text><text x="156.15" y="253.30" font-size="3.2" fill="#555" text-anchor="middle">p = 0.01</text><text x="168.95" y="253.30" font-size="3.2" fill="#555" text-anchor="middle">p = 0.01</text><text x="181.75" y="253.30" font-size="3.2" fill="#555" text-anchor="middle">p = 0.01</text><rect x="201.4" y="239.6" width="66.0" height="7.4" fill="#2ec25a"/><text x="234.40" y="246.40" font-size="7" font-weight="bold" fill="#000" text-anchor="middle">3</text><rect x="201.4" y="248.6" width="66.0" height="67.60" fill="#fff" stroke="#b8b8b8" stroke-width="0.8"/><line x1="199.8" x2="201.4" y1="313.60" y2="313.60" stroke="#555" stroke-width="0.6"/><text x="199.10" y="315.80" font-size="6.4" fill="#3a3a3a" text-anchor="end">0</text><line x1="199.8" x2="201.4" y1="300.50" y2="300.50" stroke="#555" stroke-width="0.6"/><text x="199.10" y="302.70" font-size="6.4" fill="#3a3a3a" text-anchor="end">5</text><line x1="199.8" x2="201.4" y1="287.40" y2="287.40" stroke="#555" stroke-width="0.6"/><text x="199.10" y="289.60" font-size="6.4" fill="#3a3a3a" text-anchor="end">10</text><line x1="199.8" x2="201.4" y1="274.30" y2="274.30" stroke="#555" stroke-width="0.6"/><text x="199.10" y="276.50" font-size="6.4" fill="#3a3a3a" text-anchor="end">15</text><line x1="199.8" x2="201.4" y1="261.20" y2="261.20" stroke="#555" stroke-width="0.6"/><text x="199.10" y="263.40" font-size="6.4" fill="#3a3a3a" text-anchor="end">20</text><line x1="206.50" x2="206.50" y1="303.12" y2="313.60" stroke="#94c4dc" stroke-width="0.45" opacity="0.4"/><rect x="204.55" y="308.36" width="3.9" height="5.24" fill="#a6d0e4" stroke="#94c4dc" stroke-width="0.4"/><line x1="204.55" x2="208.45" y1="310.98" y2="310.98" stroke="#94c4dc" stroke-width="0.5"/><circle cx="207.6" cy="311.1" r="0.8" fill="#6eaace" opacity="0.5"/><circle cx="208.0" cy="309.2" r="0.8" fill="#6eaace" opacity="0.5"/><circle cx="205.8" cy="313.4" r="0.8" fill="#6eaace" opacity="0.5"/><circle cx="205.4" cy="313.0" r="0.8" fill="#6eaace" opacity="0.5"/><circle cx="206.8" cy="308.5" r="0.8" fill="#6eaace" opacity="0.5"/><circle cx="206.0" cy="308.7" r="0.8" fill="#6eaace" opacity="0.5"/><circle cx="206.3" cy="309.1" r="0.8" fill="#6eaace" opacity="0.5"/><circle cx="207.5" cy="312.2" r="0.8" fill="#6eaace" opacity="0.5"/><circle cx="205.1" cy="308.6" r="0.8" fill="#6eaace" opacity="0.5"/><circle cx="206.9" cy="310.5" r="0.8" fill="#6eaace" opacity="0.5"/><circle cx="206.0" cy="312.5" r="0.8" fill="#6eaace" opacity="0.5"/><circle cx="205.4" cy="312.9" r="0.8" fill="#6eaace" opacity="0.5"/><circle cx="207.0" cy="305.2" r="0.85" fill="#88b8d2" opacity="0.55"/><circle cx="205.9" cy="308.3" r="0.85" fill="#88b8d2" opacity="0.55"/><circle cx="205.8" cy="307.4" r="0.85" fill="#88b8d2" opacity="0.55"/><circle cx="205.7" cy="287.4" r="1.0" fill="#8aa8bc" opacity="0.75"/><circle cx="207.3" cy="300.5" r="1.0" fill="#8aa8bc" opacity="0.75"/><line x1="211.50" x2="211.50" y1="279.54" y2="305.74" stroke="#a84070" stroke-width="0.45" opacity="0.4"/><rect x="209.55" y="288.71" width="3.9" height="9.17" fill="#bb5280" stroke="#a84070" stroke-width="0.4"/><line x1="209.55" x2="213.45" y1="292.64" y2="292.64" stroke="#a84070" stroke-width="0.5"/><circle cx="209.9" cy="292.9" r="0.8" fill="#983060" opacity="0.5"/><circle cx="211.1" cy="297.0" r="0.8" fill="#983060" opacity="0.5"/><circle cx="212.0" cy="292.8" r="0.8" fill="#983060" opacity="0.5"/><circle cx="210.3" cy="297.0" r="0.8" fill="#983060" opacity="0.5"/><circle cx="211.2" cy="291.5" r="0.8" fill="#983060" opacity="0.5"/><circle cx="210.8" cy="295.3" r="0.8" fill="#983060" opacity="0.5"/><circle cx="210.8" cy="289.1" r="0.8" fill="#983060" opacity="0.5"/><circle cx="211.0" cy="292.7" r="0.8" fill="#983060" opacity="0.5"/><circle cx="212.8" cy="294.1" r="0.8" fill="#983060" opacity="0.5"/><circle cx="211.0" cy="288.7" r="0.8" fill="#983060" opacity="0.5"/><circle cx="212.3" cy="296.1" r="0.8" fill="#983060" opacity="0.5"/><circle cx="209.7" cy="296.0" r="0.8" fill="#983060" opacity="0.5"/><circle cx="211.2" cy="289.6" r="0.8" fill="#983060" opacity="0.5"/><circle cx="211.2" cy="290.4" r="0.8" fill="#983060" opacity="0.5"/><circle cx="210.3" cy="302.1" r="0.85" fill="#b0607f" opacity="0.55"/><circle cx="212.0" cy="283.7" r="0.85" fill="#b0607f" opacity="0.55"/><circle cx="211.9" cy="305.0" r="0.85" fill="#b0607f" opacity="0.55"/><circle cx="210.2" cy="284.1" r="0.85" fill="#b0607f" opacity="0.55"/><circle cx="213.0" cy="283.9" r="0.85" fill="#b0607f" opacity="0.55"/><circle cx="212.6" cy="284.2" r="0.85" fill="#b0607f" opacity="0.55"/><circle cx="210.2" cy="304.2" r="0.85" fill="#b0607f" opacity="0.55"/><circle cx="212.7" cy="274.3" r="1.0" fill="#a06282" opacity="0.75"/><circle cx="212.8" cy="305.7" r="1.0" fill="#a06282" opacity="0.75"/><line x1="219.30" x2="219.30" y1="292.64" y2="313.60" stroke="#94c4dc" stroke-width="0.45" opacity="0.4"/><rect x="217.35" y="303.12" width="3.9" height="10.48" fill="#a6d0e4" stroke="#94c4dc" stroke-width="0.4"/><line x1="217.35" x2="221.25" y1="309.67" y2="309.67" stroke="#94c4dc" stroke-width="0.5"/><circle cx="217.7" cy="308.5" r="0.8" fill="#6eaace" opacity="0.5"/><circle cx="218.9" cy="303.9" r="0.8" fill="#6eaace" opacity="0.5"/><circle cx="219.7" cy="304.1" r="0.8" fill="#6eaace" opacity="0.5"/><circle cx="218.1" cy="305.0" r="0.8" fill="#6eaace" opacity="0.5"/><circle cx="218.3" cy="305.4" r="0.8" fill="#6eaace" opacity="0.5"/><circle cx="220.5" cy="309.4" r="0.8" fill="#6eaace" opacity="0.5"/><circle cx="218.2" cy="304.9" r="0.8" fill="#6eaace" opacity="0.5"/><circle cx="218.9" cy="311.3" r="0.8" fill="#6eaace" opacity="0.5"/><circle cx="218.9" cy="308.2" r="0.8" fill="#6eaace" opacity="0.5"/><circle cx="218.4" cy="312.3" r="0.8" fill="#6eaace" opacity="0.5"/><circle cx="220.7" cy="306.0" r="0.8" fill="#6eaace" opacity="0.5"/><circle cx="219.5" cy="313.2" r="0.8" fill="#6eaace" opacity="0.5"/><circle cx="217.6" cy="305.7" r="0.8" fill="#6eaace" opacity="0.5"/><circle cx="217.9" cy="304.8" r="0.8" fill="#6eaace" opacity="0.5"/><circle cx="219.5" cy="307.3" r="0.8" fill="#6eaace" opacity="0.5"/><circle cx="218.6" cy="307.0" r="0.8" fill="#6eaace" opacity="0.5"/><circle cx="219.6" cy="309.2" r="0.8" fill="#6eaace" opacity="0.5"/><circle cx="219.1" cy="296.2" r="0.85" fill="#88b8d2" opacity="0.55"/><circle cx="219.7" cy="302.9" r="0.85" fill="#88b8d2" opacity="0.55"/><circle cx="220.2" cy="300.7" r="0.85" fill="#88b8d2" opacity="0.55"/><circle cx="218.1" cy="298.3" r="0.85" fill="#88b8d2" opacity="0.55"/><circle cx="218.0" cy="302.0" r="0.85" fill="#88b8d2" opacity="0.55"/><circle cx="219.1" cy="284.8" r="1.0" fill="#8aa8bc" opacity="0.75"/><line x1="224.30" x2="224.30" y1="274.30" y2="310.98" stroke="#a84070" stroke-width="0.45" opacity="0.4"/><rect x="222.35" y="288.71" width="3.9" height="17.03" fill="#bb5280" stroke="#a84070" stroke-width="0.4"/><line x1="222.35" x2="226.25" y1="297.88" y2="297.88" stroke="#a84070" stroke-width="0.5"/><circle cx="224.1" cy="304.2" r="0.8" fill="#983060" opacity="0.5"/><circle cx="222.6" cy="297.1" r="0.8" fill="#983060" opacity="0.5"/><circle cx="222.8" cy="294.9" r="0.8" fill="#983060" opacity="0.5"/><circle cx="225.3" cy="293.2" r="0.8" fill="#983060" opacity="0.5"/><circle cx="222.7" cy="297.0" r="0.8" fill="#983060" opacity="0.5"/><circle cx="223.9" cy="297.2" r="0.8" fill="#983060" opacity="0.5"/><circle cx="223.0" cy="289.5" r="0.8" fill="#983060" opacity="0.5"/><circle cx="226.1" cy="291.1" r="0.8" fill="#983060" opacity="0.5"/><circle cx="225.4" cy="293.3" r="0.8" fill="#983060" opacity="0.5"/><circle cx="226.0" cy="302.4" r="0.8" fill="#983060" opacity="0.5"/><circle cx="225.9" cy="297.4" r="0.8" fill="#983060" opacity="0.5"/><circle cx="223.1" cy="290.1" r="0.8" fill="#983060" opacity="0.5"/><circle cx="225.9" cy="292.3" r="0.8" fill="#983060" opacity="0.5"/><circle cx="223.8" cy="304.6" r="0.8" fill="#983060" opacity="0.5"/><circle cx="223.1" cy="292.9" r="0.8" fill="#983060" opacity="0.5"/><circle cx="223.5" cy="290.5" r="0.8" fill="#983060" opacity="0.5"/><circle cx="223.0" cy="291.8" r="0.8" fill="#983060" opacity="0.5"/><circle cx="225.8" cy="297.2" r="0.8" fill="#983060" opacity="0.5"/><circle cx="223.4" cy="302.2" r="0.8" fill="#983060" opacity="0.5"/><circle cx="223.6" cy="297.1" r="0.8" fill="#983060" opacity="0.5"/><circle cx="223.2" cy="305.1" r="0.8" fill="#983060" opacity="0.5"/><circle cx="224.9" cy="275.2" r="0.85" fill="#b0607f" opacity="0.55"/><circle cx="225.3" cy="310.1" r="0.85" fill="#b0607f" opacity="0.55"/><circle cx="224.8" cy="281.1" r="0.85" fill="#b0607f" opacity="0.55"/><circle cx="224.5" cy="276.1" r="0.85" fill="#b0607f" opacity="0.55"/><circle cx="222.9" cy="276.0" r="0.85" fill="#b0607f" opacity="0.55"/><circle cx="223.9" cy="307.7" r="0.85" fill="#b0607f" opacity="0.55"/><circle cx="226.1" cy="309.6" r="0.85" fill="#b0607f" opacity="0.55"/><circle cx="225.3" cy="283.5" r="0.85" fill="#b0607f" opacity="0.55"/><circle cx="224.1" cy="267.8" r="1.0" fill="#a06282" opacity="0.75"/><circle cx="223.4" cy="274.3" r="1.0" fill="#a06282" opacity="0.75"/><circle cx="225.0" cy="308.4" r="1.0" fill="#a06282" opacity="0.75"/><line x1="232.10" x2="232.10" y1="287.40" y2="313.60" stroke="#94c4dc" stroke-width="0.45" opacity="0.4"/><rect x="230.15" y="300.50" width="3.9" height="13.10" fill="#a6d0e4" stroke="#94c4dc" stroke-width="0.4"/><line x1="230.15" x2="234.05" y1="308.36" y2="308.36" stroke="#94c4dc" stroke-width="0.5"/><circle cx="233.3" cy="313.0" r="0.8" fill="#6eaace" opacity="0.5"/><circle cx="232.6" cy="310.3" r="0.8" fill="#6eaace" opacity="0.5"/><circle cx="232.4" cy="300.7" r="0.8" fill="#6eaace" opacity="0.5"/><circle cx="231.4" cy="304.9" r="0.8" fill="#6eaace" opacity="0.5"/><circle cx="230.4" cy="313.6" r="0.8" fill="#6eaace" opacity="0.5"/><circle cx="232.5" cy="311.6" r="0.8" fill="#6eaace" opacity="0.5"/><circle cx="232.1" cy="307.9" r="0.8" fill="#6eaace" opacity="0.5"/><circle cx="230.8" cy="301.9" r="0.8" fill="#6eaace" opacity="0.5"/><circle cx="232.7" cy="310.6" r="0.8" fill="#6eaace" opacity="0.5"/><circle cx="230.3" cy="313.3" r="0.8" fill="#6eaace" opacity="0.5"/><circle cx="230.7" cy="308.9" r="0.8" fill="#6eaace" opacity="0.5"/><circle cx="231.1" cy="308.9" r="0.8" fill="#6eaace" opacity="0.5"/><circle cx="232.4" cy="306.0" r="0.8" fill="#6eaace" opacity="0.5"/><circle cx="232.5" cy="310.9" r="0.8" fill="#6eaace" opacity="0.5"/><circle cx="230.8" cy="307.4" r="0.8" fill="#6eaace" opacity="0.5"/><circle cx="231.2" cy="301.3" r="0.8" fill="#6eaace" opacity="0.5"/><circle cx="230.6" cy="311.6" r="0.8" fill="#6eaace" opacity="0.5"/><circle cx="233.4" cy="305.2" r="0.8" fill="#6eaace" opacity="0.5"/><circle cx="231.7" cy="303.4" r="0.8" fill="#6eaace" opacity="0.5"/><circle cx="232.6" cy="300.3" r="0.85" fill="#88b8d2" opacity="0.55"/><circle cx="232.6" cy="295.9" r="0.85" fill="#88b8d2" opacity="0.55"/><circle cx="232.9" cy="288.2" r="0.85" fill="#88b8d2" opacity="0.55"/><circle cx="230.5" cy="288.7" r="0.85" fill="#88b8d2" opacity="0.55"/><circle cx="231.2" cy="295.2" r="0.85" fill="#88b8d2" opacity="0.55"/><circle cx="230.3" cy="290.3" r="0.85" fill="#88b8d2" opacity="0.55"/><circle cx="232.2" cy="282.2" r="1.0" fill="#8aa8bc" opacity="0.75"/><line x1="237.10" x2="237.10" y1="276.92" y2="310.98" stroke="#a84070" stroke-width="0.45" opacity="0.4"/><rect x="235.15" y="284.78" width="3.9" height="15.72" fill="#bb5280" stroke="#a84070" stroke-width="0.4"/><line x1="235.15" x2="239.05" y1="292.64" y2="292.64" stroke="#a84070" stroke-width="0.5"/><circle cx="235.8" cy="285.7" r="0.8" fill="#983060" opacity="0.5"/><circle cx="237.5" cy="297.4" r="0.8" fill="#983060" opacity="0.5"/><circle cx="237.6" cy="292.5" r="0.8" fill="#983060" opacity="0.5"/><circle cx="235.9" cy="287.7" r="0.8" fill="#983060" opacity="0.5"/><circle cx="236.4" cy="295.6" r="0.8" fill="#983060" opacity="0.5"/><circle cx="238.5" cy="299.7" r="0.8" fill="#983060" opacity="0.5"/><circle cx="237.9" cy="288.2" r="0.8" fill="#983060" opacity="0.5"/><circle cx="238.3" cy="300.4" r="0.8" fill="#983060" opacity="0.5"/><circle cx="237.0" cy="288.8" r="0.8" fill="#983060" opacity="0.5"/><circle cx="236.9" cy="288.8" r="0.8" fill="#983060" opacity="0.5"/><circle cx="235.7" cy="296.9" r="0.8" fill="#983060" opacity="0.5"/><circle cx="235.4" cy="296.8" r="0.8" fill="#983060" opacity="0.5"/><circle cx="238.0" cy="295.2" r="0.8" fill="#983060" opacity="0.5"/><circle cx="238.3" cy="289.6" r="0.8" fill="#983060" opacity="0.5"/><circle cx="236.3" cy="289.3" r="0.8" fill="#983060" opacity="0.5"/><circle cx="236.9" cy="291.8" r="0.8" fill="#983060" opacity="0.5"/><circle cx="237.2" cy="288.1" r="0.8" fill="#983060" opacity="0.5"/><circle cx="237.6" cy="296.3" r="0.8" fill="#983060" opacity="0.5"/><circle cx="236.1" cy="285.3" r="0.8" fill="#983060" opacity="0.5"/><circle cx="235.4" cy="286.7" r="0.8" fill="#983060" opacity="0.5"/><circle cx="238.0" cy="282.9" r="0.85" fill="#b0607f" opacity="0.55"/><circle cx="236.5" cy="303.2" r="0.85" fill="#b0607f" opacity="0.55"/><circle cx="236.2" cy="307.5" r="0.85" fill="#b0607f" opacity="0.55"/><circle cx="237.8" cy="304.4" r="0.85" fill="#b0607f" opacity="0.55"/><circle cx="237.0" cy="300.7" r="0.85" fill="#b0607f" opacity="0.55"/><circle cx="238.4" cy="303.7" r="0.85" fill="#b0607f" opacity="0.55"/><circle cx="237.4" cy="303.4" r="0.85" fill="#b0607f" opacity="0.55"/><circle cx="237.5" cy="283.1" r="0.85" fill="#b0607f" opacity="0.55"/><circle cx="235.9" cy="263.8" r="1.0" fill="#a06282" opacity="0.75"/><circle cx="238.3" cy="276.9" r="1.0" fill="#a06282" opacity="0.75"/><circle cx="236.1" cy="305.7" r="1.0" fill="#a06282" opacity="0.75"/><circle cx="235.8" cy="311.0" r="1.0" fill="#a06282" opacity="0.75"/><line x1="244.90" x2="244.90" y1="287.40" y2="313.60" stroke="#94c4dc" stroke-width="0.45" opacity="0.4"/><rect x="242.95" y="300.50" width="3.9" height="13.10" fill="#a6d0e4" stroke="#94c4dc" stroke-width="0.4"/><line x1="242.95" x2="246.85" y1="308.36" y2="308.36" stroke="#94c4dc" stroke-width="0.5"/><circle cx="246.4" cy="312.2" r="0.8" fill="#6eaace" opacity="0.5"/><circle cx="243.6" cy="309.1" r="0.8" fill="#6eaace" opacity="0.5"/><circle cx="243.2" cy="313.2" r="0.8" fill="#6eaace" opacity="0.5"/><circle cx="245.4" cy="304.5" r="0.8" fill="#6eaace" opacity="0.5"/><circle cx="245.8" cy="304.5" r="0.8" fill="#6eaace" opacity="0.5"/><circle cx="245.2" cy="312.7" r="0.8" fill="#6eaace" opacity="0.5"/><circle cx="246.0" cy="308.8" r="0.8" fill="#6eaace" opacity="0.5"/><circle cx="246.3" cy="302.9" r="0.8" fill="#6eaace" opacity="0.5"/><circle cx="246.2" cy="312.7" r="0.8" fill="#6eaace" opacity="0.5"/><circle cx="246.5" cy="301.6" r="0.8" fill="#6eaace" opacity="0.5"/><circle cx="243.8" cy="312.2" r="0.8" fill="#6eaace" opacity="0.5"/><circle cx="243.2" cy="312.1" r="0.8" fill="#6eaace" opacity="0.5"/><circle cx="246.0" cy="302.5" r="0.8" fill="#6eaace" opacity="0.5"/><circle cx="246.1" cy="305.3" r="0.8" fill="#6eaace" opacity="0.5"/><circle cx="244.1" cy="305.3" r="0.8" fill="#6eaace" opacity="0.5"/><circle cx="243.5" cy="312.3" r="0.8" fill="#6eaace" opacity="0.5"/><circle cx="243.8" cy="303.7" r="0.8" fill="#6eaace" opacity="0.5"/><circle cx="244.6" cy="309.4" r="0.8" fill="#6eaace" opacity="0.5"/><circle cx="244.0" cy="313.3" r="0.8" fill="#6eaace" opacity="0.5"/><circle cx="244.4" cy="291.1" r="0.85" fill="#88b8d2" opacity="0.55"/><circle cx="244.9" cy="287.9" r="0.85" fill="#88b8d2" opacity="0.55"/><circle cx="243.2" cy="292.4" r="0.85" fill="#88b8d2" opacity="0.55"/><circle cx="245.9" cy="294.8" r="0.85" fill="#88b8d2" opacity="0.55"/><circle cx="245.0" cy="291.3" r="0.85" fill="#88b8d2" opacity="0.55"/><circle cx="243.4" cy="289.2" r="0.85" fill="#88b8d2" opacity="0.55"/><circle cx="245.8" cy="263.8" r="1.0" fill="#8aa8bc" opacity="0.75"/><circle cx="244.0" cy="271.7" r="1.0" fill="#8aa8bc" opacity="0.75"/><line x1="249.90" x2="249.90" y1="279.54" y2="303.12" stroke="#a84070" stroke-width="0.45" opacity="0.4"/><rect x="247.95" y="290.02" width="3.9" height="3.93" fill="#bb5280" stroke="#a84070" stroke-width="0.4"/><line x1="247.95" x2="251.85" y1="292.64" y2="292.64" stroke="#a84070" stroke-width="0.5"/><circle cx="248.8" cy="293.9" r="0.8" fill="#983060" opacity="0.5"/><circle cx="251.6" cy="291.0" r="0.8" fill="#983060" opacity="0.5"/><circle cx="249.9" cy="293.9" r="0.8" fill="#983060" opacity="0.5"/><circle cx="251.0" cy="292.0" r="0.8" fill="#983060" opacity="0.5"/><circle cx="249.9" cy="293.2" r="0.8" fill="#983060" opacity="0.5"/><circle cx="251.1" cy="292.6" r="0.8" fill="#983060" opacity="0.5"/><circle cx="251.5" cy="292.9" r="0.8" fill="#983060" opacity="0.5"/><circle cx="248.9" cy="292.8" r="0.8" fill="#983060" opacity="0.5"/><circle cx="249.9" cy="291.2" r="0.8" fill="#983060" opacity="0.5"/><circle cx="248.4" cy="283.3" r="0.85" fill="#b0607f" opacity="0.55"/><circle cx="250.9" cy="296.7" r="0.85" fill="#b0607f" opacity="0.55"/><circle cx="249.5" cy="299.9" r="0.85" fill="#b0607f" opacity="0.55"/><circle cx="248.4" cy="280.7" r="0.85" fill="#b0607f" opacity="0.55"/><circle cx="248.8" cy="302.9" r="0.85" fill="#b0607f" opacity="0.55"/><circle cx="249.9" cy="280.6" r="0.85" fill="#b0607f" opacity="0.55"/><circle cx="248.9" cy="280.8" r="0.85" fill="#b0607f" opacity="0.55"/><circle cx="250.8" cy="284.4" r="0.85" fill="#b0607f" opacity="0.55"/><circle cx="250.6" cy="279.5" r="1.0" fill="#a06282" opacity="0.75"/><circle cx="250.3" cy="303.1" r="1.0" fill="#a06282" opacity="0.75"/><line x1="257.70" x2="257.70" y1="282.16" y2="313.60" stroke="#94c4dc" stroke-width="0.45" opacity="0.4"/><rect x="255.75" y="292.64" width="3.9" height="17.03" fill="#a6d0e4" stroke="#94c4dc" stroke-width="0.4"/><line x1="255.75" x2="259.65" y1="300.50" y2="300.50" stroke="#94c4dc" stroke-width="0.5"/><circle cx="257.1" cy="303.7" r="0.8" fill="#6eaace" opacity="0.5"/><circle cx="258.9" cy="307.0" r="0.8" fill="#6eaace" opacity="0.5"/><circle cx="258.6" cy="298.4" r="0.8" fill="#6eaace" opacity="0.5"/><circle cx="257.5" cy="306.8" r="0.8" fill="#6eaace" opacity="0.5"/><circle cx="258.0" cy="296.5" r="0.8" fill="#6eaace" opacity="0.5"/><circle cx="257.6" cy="307.5" r="0.8" fill="#6eaace" opacity="0.5"/><circle cx="256.8" cy="294.6" r="0.8" fill="#6eaace" opacity="0.5"/><circle cx="257.0" cy="306.4" r="0.8" fill="#6eaace" opacity="0.5"/><circle cx="258.9" cy="297.7" r="0.8" fill="#6eaace" opacity="0.5"/><circle cx="256.5" cy="307.0" r="0.8" fill="#6eaace" opacity="0.5"/><circle cx="257.1" cy="305.5" r="0.8" fill="#6eaace" opacity="0.5"/><circle cx="256.5" cy="300.8" r="0.8" fill="#6eaace" opacity="0.5"/><circle cx="256.6" cy="304.1" r="0.8" fill="#6eaace" opacity="0.5"/><circle cx="258.5" cy="293.1" r="0.8" fill="#6eaace" opacity="0.5"/><circle cx="259.4" cy="307.9" r="0.8" fill="#6eaace" opacity="0.5"/><circle cx="257.3" cy="307.9" r="0.8" fill="#6eaace" opacity="0.5"/><circle cx="258.8" cy="292.9" r="0.8" fill="#6eaace" opacity="0.5"/><circle cx="257.5" cy="297.2" r="0.8" fill="#6eaace" opacity="0.5"/><circle cx="258.2" cy="306.3" r="0.8" fill="#6eaace" opacity="0.5"/><circle cx="256.6" cy="307.9" r="0.8" fill="#6eaace" opacity="0.5"/><circle cx="256.0" cy="303.1" r="0.8" fill="#6eaace" opacity="0.5"/><circle cx="258.7" cy="302.9" r="0.8" fill="#6eaace" opacity="0.5"/><circle cx="257.7" cy="297.9" r="0.8" fill="#6eaace" opacity="0.5"/><circle cx="256.4" cy="287.8" r="0.85" fill="#88b8d2" opacity="0.55"/><circle cx="258.6" cy="288.4" r="0.85" fill="#88b8d2" opacity="0.55"/><circle cx="258.0" cy="311.9" r="0.85" fill="#88b8d2" opacity="0.55"/><circle cx="256.7" cy="311.9" r="0.85" fill="#88b8d2" opacity="0.55"/><circle cx="258.7" cy="283.4" r="0.85" fill="#88b8d2" opacity="0.55"/><circle cx="258.3" cy="283.7" r="0.85" fill="#88b8d2" opacity="0.55"/><circle cx="257.0" cy="287.9" r="0.85" fill="#88b8d2" opacity="0.55"/><circle cx="258.1" cy="263.8" r="1.0" fill="#8aa8bc" opacity="0.75"/><circle cx="256.6" cy="269.1" r="1.0" fill="#8aa8bc" opacity="0.75"/><line x1="262.70" x2="262.70" y1="290.02" y2="308.36" stroke="#a84070" stroke-width="0.45" opacity="0.4"/><rect x="260.75" y="293.95" width="3.9" height="11.79" fill="#bb5280" stroke="#a84070" stroke-width="0.4"/><line x1="260.75" x2="264.65" y1="300.50" y2="300.50" stroke="#a84070" stroke-width="0.5"/><circle cx="263.7" cy="300.8" r="0.8" fill="#983060" opacity="0.5"/><circle cx="263.2" cy="297.3" r="0.8" fill="#983060" opacity="0.5"/><circle cx="262.4" cy="302.8" r="0.8" fill="#983060" opacity="0.5"/><circle cx="263.1" cy="300.4" r="0.8" fill="#983060" opacity="0.5"/><circle cx="263.3" cy="300.9" r="0.8" fill="#983060" opacity="0.5"/><circle cx="261.6" cy="294.8" r="0.8" fill="#983060" opacity="0.5"/><circle cx="263.7" cy="298.0" r="0.8" fill="#983060" opacity="0.5"/><circle cx="262.7" cy="301.2" r="0.8" fill="#983060" opacity="0.5"/><circle cx="261.0" cy="294.2" r="0.8" fill="#983060" opacity="0.5"/><circle cx="261.5" cy="299.3" r="0.8" fill="#983060" opacity="0.5"/><circle cx="264.3" cy="296.5" r="0.8" fill="#983060" opacity="0.5"/><circle cx="261.3" cy="299.6" r="0.8" fill="#983060" opacity="0.5"/><circle cx="262.8" cy="299.0" r="0.8" fill="#983060" opacity="0.5"/><circle cx="262.7" cy="297.3" r="0.8" fill="#983060" opacity="0.5"/><circle cx="263.9" cy="298.2" r="0.8" fill="#983060" opacity="0.5"/><circle cx="262.4" cy="299.6" r="0.8" fill="#983060" opacity="0.5"/><circle cx="263.4" cy="307.8" r="0.85" fill="#b0607f" opacity="0.55"/><circle cx="261.3" cy="291.0" r="0.85" fill="#b0607f" opacity="0.55"/><circle cx="261.1" cy="307.4" r="0.85" fill="#b0607f" opacity="0.55"/><circle cx="260.9" cy="292.4" r="0.85" fill="#b0607f" opacity="0.55"/><circle cx="262.5" cy="269.1" r="1.0" fill="#a06282" opacity="0.75"/><circle cx="262.5" cy="308.4" r="1.0" fill="#a06282" opacity="0.75"/><text x="209.00" y="253.30" font-size="3.2" fill="#555" text-anchor="middle">p = 0.01</text><text x="221.80" y="253.30" font-size="3.2" fill="#555" text-anchor="middle">p = 0.01</text><text x="234.60" y="253.30" font-size="3.2" fill="#555" text-anchor="middle">p = 0.01</text><text x="247.40" y="253.30" font-size="3.2" fill="#555" text-anchor="middle">p = 0.01</text><rect x="279.85" y="239.6" width="66.0" height="7.4" fill="#4ee82e"/><text x="312.85" y="246.40" font-size="7" font-weight="bold" fill="#000" text-anchor="middle">4</text><rect x="279.85" y="248.6" width="66.0" height="67.60" fill="#fff" stroke="#b8b8b8" stroke-width="0.8"/><line x1="278.25" x2="279.85" y1="313.60" y2="313.60" stroke="#555" stroke-width="0.6"/><text x="277.55" y="315.80" font-size="6.4" fill="#3a3a3a" text-anchor="end">0</text><line x1="278.25" x2="279.85" y1="297.30" y2="297.30" stroke="#555" stroke-width="0.6"/><text x="277.55" y="299.50" font-size="6.4" fill="#3a3a3a" text-anchor="end">20</text><line x1="278.25" x2="279.85" y1="281.00" y2="281.00" stroke="#555" stroke-width="0.6"/><text x="277.55" y="283.20" font-size="6.4" fill="#3a3a3a" text-anchor="end">40</text><line x1="278.25" x2="279.85" y1="264.70" y2="264.70" stroke="#555" stroke-width="0.6"/><text x="277.55" y="266.90" font-size="6.4" fill="#3a3a3a" text-anchor="end">60</text><line x1="284.95" x2="284.95" y1="303.82" y2="313.60" stroke="#94c4dc" stroke-width="0.45" opacity="0.4"/><rect x="283.00" y="308.71" width="3.9" height="4.89" fill="#a6d0e4" stroke="#94c4dc" stroke-width="0.4"/><line x1="283.00" x2="286.90" y1="311.16" y2="311.16" stroke="#94c4dc" stroke-width="0.5"/><circle cx="284.4" cy="310.2" r="0.8" fill="#6eaace" opacity="0.5"/><circle cx="284.0" cy="312.3" r="0.8" fill="#6eaace" opacity="0.5"/><circle cx="286.5" cy="310.0" r="0.8" fill="#6eaace" opacity="0.5"/><circle cx="283.9" cy="311.0" r="0.8" fill="#6eaace" opacity="0.5"/><circle cx="284.6" cy="309.7" r="0.8" fill="#6eaace" opacity="0.5"/><circle cx="283.6" cy="312.6" r="0.8" fill="#6eaace" opacity="0.5"/><circle cx="286.1" cy="309.8" r="0.8" fill="#6eaace" opacity="0.5"/><circle cx="284.8" cy="310.5" r="0.8" fill="#6eaace" opacity="0.5"/><circle cx="284.0" cy="310.9" r="0.8" fill="#6eaace" opacity="0.5"/><circle cx="284.4" cy="308.9" r="0.8" fill="#6eaace" opacity="0.5"/><circle cx="286.1" cy="310.5" r="0.8" fill="#6eaace" opacity="0.5"/><circle cx="284.8" cy="309.6" r="0.8" fill="#6eaace" opacity="0.5"/><circle cx="283.6" cy="306.0" r="0.85" fill="#88b8d2" opacity="0.55"/><circle cx="286.2" cy="307.0" r="0.85" fill="#88b8d2" opacity="0.55"/><circle cx="284.1" cy="306.9" r="0.85" fill="#88b8d2" opacity="0.55"/><circle cx="284.7" cy="281.0" r="1.0" fill="#8aa8bc" opacity="0.75"/><circle cx="284.1" cy="287.5" r="1.0" fill="#8aa8bc" opacity="0.75"/><circle cx="283.6" cy="293.2" r="1.0" fill="#8aa8bc" opacity="0.75"/><line x1="289.95" x2="289.95" y1="301.38" y2="311.97" stroke="#a84070" stroke-width="0.45" opacity="0.4"/><rect x="288.00" y="305.45" width="3.9" height="4.89" fill="#bb5280" stroke="#a84070" stroke-width="0.4"/><line x1="288.00" x2="291.90" y1="307.90" y2="307.90" stroke="#a84070" stroke-width="0.5"/><circle cx="289.2" cy="306.8" r="0.8" fill="#983060" opacity="0.5"/><circle cx="289.2" cy="309.1" r="0.8" fill="#983060" opacity="0.5"/><circle cx="289.7" cy="308.0" r="0.8" fill="#983060" opacity="0.5"/><circle cx="290.5" cy="307.2" r="0.8" fill="#983060" opacity="0.5"/><circle cx="291.5" cy="308.6" r="0.8" fill="#983060" opacity="0.5"/><circle cx="288.4" cy="306.2" r="0.8" fill="#983060" opacity="0.5"/><circle cx="291.4" cy="306.3" r="0.8" fill="#983060" opacity="0.5"/><circle cx="288.7" cy="306.5" r="0.8" fill="#983060" opacity="0.5"/><circle cx="290.4" cy="306.3" r="0.8" fill="#983060" opacity="0.5"/><circle cx="288.2" cy="310.3" r="0.8" fill="#983060" opacity="0.5"/><circle cx="289.1" cy="310.9" r="0.85" fill="#b0607f" opacity="0.55"/><circle cx="289.0" cy="304.9" r="0.85" fill="#b0607f" opacity="0.55"/><circle cx="288.7" cy="311.4" r="0.85" fill="#b0607f" opacity="0.55"/><circle cx="291.1" cy="291.6" r="1.0" fill="#a06282" opacity="0.75"/><circle cx="290.8" cy="301.4" r="1.0" fill="#a06282" opacity="0.75"/><line x1="297.75" x2="297.75" y1="303.82" y2="313.60" stroke="#94c4dc" stroke-width="0.45" opacity="0.4"/><rect x="295.80" y="308.71" width="3.9" height="4.89" fill="#a6d0e4" stroke="#94c4dc" stroke-width="0.4"/><line x1="295.80" x2="299.70" y1="311.16" y2="311.16" stroke="#94c4dc" stroke-width="0.5"/><circle cx="299.2" cy="312.8" r="0.8" fill="#6eaace" opacity="0.5"/><circle cx="298.8" cy="310.6" r="0.8" fill="#6eaace" opacity="0.5"/><circle cx="299.2" cy="310.3" r="0.8" fill="#6eaace" opacity="0.5"/><circle cx="299.0" cy="309.7" r="0.8" fill="#6eaace" opacity="0.5"/><circle cx="298.4" cy="312.6" r="0.8" fill="#6eaace" opacity="0.5"/><circle cx="298.6" cy="311.0" r="0.8" fill="#6eaace" opacity="0.5"/><circle cx="299.1" cy="311.5" r="0.8" fill="#6eaace" opacity="0.5"/><circle cx="296.9" cy="310.9" r="0.8" fill="#6eaace" opacity="0.5"/><circle cx="296.5" cy="312.5" r="0.8" fill="#6eaace" opacity="0.5"/><circle cx="296.2" cy="311.2" r="0.8" fill="#6eaace" opacity="0.5"/><circle cx="296.5" cy="311.3" r="0.8" fill="#6eaace" opacity="0.5"/><circle cx="297.7" cy="311.2" r="0.8" fill="#6eaace" opacity="0.5"/><circle cx="296.0" cy="304.5" r="0.85" fill="#88b8d2" opacity="0.55"/><circle cx="298.0" cy="306.4" r="0.85" fill="#88b8d2" opacity="0.55"/><circle cx="297.3" cy="304.6" r="0.85" fill="#88b8d2" opacity="0.55"/><circle cx="297.5" cy="271.2" r="1.0" fill="#8aa8bc" opacity="0.75"/><circle cx="299.0" cy="274.5" r="1.0" fill="#8aa8bc" opacity="0.75"/><circle cx="296.6" cy="282.6" r="1.0" fill="#8aa8bc" opacity="0.75"/><circle cx="298.1" cy="293.2" r="1.0" fill="#8aa8bc" opacity="0.75"/><line x1="302.75" x2="302.75" y1="301.38" y2="313.60" stroke="#a84070" stroke-width="0.45" opacity="0.4"/><rect x="300.80" y="303.82" width="3.9" height="8.15" fill="#bb5280" stroke="#a84070" stroke-width="0.4"/><line x1="300.80" x2="304.70" y1="308.71" y2="308.71" stroke="#a84070" stroke-width="0.5"/><circle cx="301.1" cy="306.8" r="0.8" fill="#983060" opacity="0.5"/><circle cx="303.4" cy="307.0" r="0.8" fill="#983060" opacity="0.5"/><circle cx="302.1" cy="304.4" r="0.8" fill="#983060" opacity="0.5"/><circle cx="302.8" cy="304.0" r="0.8" fill="#983060" opacity="0.5"/><circle cx="304.2" cy="308.0" r="0.8" fill="#983060" opacity="0.5"/><circle cx="303.5" cy="311.7" r="0.8" fill="#983060" opacity="0.5"/><circle cx="302.2" cy="306.9" r="0.8" fill="#983060" opacity="0.5"/><circle cx="302.3" cy="304.9" r="0.8" fill="#983060" opacity="0.5"/><circle cx="302.8" cy="308.1" r="0.8" fill="#983060" opacity="0.5"/><circle cx="301.7" cy="305.7" r="0.8" fill="#983060" opacity="0.5"/><circle cx="302.5" cy="308.4" r="0.8" fill="#983060" opacity="0.5"/><circle cx="303.9" cy="307.5" r="0.8" fill="#983060" opacity="0.5"/><circle cx="303.9" cy="309.6" r="0.8" fill="#983060" opacity="0.5"/><circle cx="301.9" cy="302.6" r="0.85" fill="#b0607f" opacity="0.55"/><circle cx="303.3" cy="301.4" r="0.85" fill="#b0607f" opacity="0.55"/><circle cx="302.1" cy="313.1" r="0.85" fill="#b0607f" opacity="0.55"/><circle cx="302.2" cy="290.0" r="1.0" fill="#a06282" opacity="0.75"/><line x1="310.55" x2="310.55" y1="303.82" y2="313.60" stroke="#94c4dc" stroke-width="0.45" opacity="0.4"/><rect x="308.60" y="308.71" width="3.9" height="4.89" fill="#a6d0e4" stroke="#94c4dc" stroke-width="0.4"/><line x1="308.60" x2="312.50" y1="311.16" y2="311.16" stroke="#94c4dc" stroke-width="0.5"/><circle cx="311.0" cy="310.7" r="0.8" fill="#6eaace" opacity="0.5"/><circle cx="308.9" cy="309.8" r="0.8" fill="#6eaace" opacity="0.5"/><circle cx="311.9" cy="310.1" r="0.8" fill="#6eaace" opacity="0.5"/><circle cx="308.9" cy="310.9" r="0.8" fill="#6eaace" opacity="0.5"/><circle cx="308.8" cy="312.1" r="0.8" fill="#6eaace" opacity="0.5"/><circle cx="312.1" cy="312.7" r="0.8" fill="#6eaace" opacity="0.5"/><circle cx="311.1" cy="310.6" r="0.8" fill="#6eaace" opacity="0.5"/><circle cx="312.0" cy="309.7" r="0.8" fill="#6eaace" opacity="0.5"/><circle cx="311.0" cy="310.6" r="0.8" fill="#6eaace" opacity="0.5"/><circle cx="311.3" cy="310.5" r="0.8" fill="#6eaace" opacity="0.5"/><circle cx="311.2" cy="310.7" r="0.8" fill="#6eaace" opacity="0.5"/><circle cx="311.2" cy="312.6" r="0.8" fill="#6eaace" opacity="0.5"/><circle cx="309.1" cy="305.0" r="0.85" fill="#88b8d2" opacity="0.55"/><circle cx="311.5" cy="308.5" r="0.85" fill="#88b8d2" opacity="0.55"/><circle cx="310.1" cy="305.5" r="0.85" fill="#88b8d2" opacity="0.55"/><circle cx="311.5" cy="276.1" r="1.0" fill="#8aa8bc" opacity="0.75"/><circle cx="311.4" cy="279.4" r="1.0" fill="#8aa8bc" opacity="0.75"/><circle cx="310.7" cy="287.5" r="1.0" fill="#8aa8bc" opacity="0.75"/><circle cx="309.9" cy="295.7" r="1.0" fill="#8aa8bc" opacity="0.75"/><circle cx="310.0" cy="298.9" r="1.0" fill="#8aa8bc" opacity="0.75"/><line x1="315.55" x2="315.55" y1="302.19" y2="313.60" stroke="#a84070" stroke-width="0.45" opacity="0.4"/><rect x="313.60" y="305.45" width="3.9" height="6.52" fill="#bb5280" stroke="#a84070" stroke-width="0.4"/><line x1="313.60" x2="317.50" y1="309.53" y2="309.53" stroke="#a84070" stroke-width="0.5"/><circle cx="314.9" cy="309.2" r="0.8" fill="#983060" opacity="0.5"/><circle cx="316.1" cy="309.2" r="0.8" fill="#983060" opacity="0.5"/><circle cx="313.9" cy="305.9" r="0.8" fill="#983060" opacity="0.5"/><circle cx="313.9" cy="308.3" r="0.8" fill="#983060" opacity="0.5"/><circle cx="316.7" cy="311.2" r="0.8" fill="#983060" opacity="0.5"/><circle cx="317.1" cy="308.2" r="0.8" fill="#983060" opacity="0.5"/><circle cx="313.8" cy="309.1" r="0.8" fill="#983060" opacity="0.5"/><circle cx="315.9" cy="309.4" r="0.8" fill="#983060" opacity="0.5"/><circle cx="317.3" cy="305.9" r="0.8" fill="#983060" opacity="0.5"/><circle cx="315.2" cy="308.9" r="0.8" fill="#983060" opacity="0.5"/><circle cx="316.1" cy="311.3" r="0.8" fill="#983060" opacity="0.5"/><circle cx="313.8" cy="305.0" r="0.85" fill="#b0607f" opacity="0.55"/><circle cx="314.2" cy="303.2" r="0.85" fill="#b0607f" opacity="0.55"/><circle cx="316.9" cy="313.5" r="0.85" fill="#b0607f" opacity="0.55"/><circle cx="314.5" cy="302.2" r="1.0" fill="#a06282" opacity="0.75"/><line x1="323.35" x2="323.35" y1="305.45" y2="313.60" stroke="#94c4dc" stroke-width="0.45" opacity="0.4"/><rect x="321.40" y="309.53" width="3.9" height="4.07" fill="#a6d0e4" stroke="#94c4dc" stroke-width="0.4"/><line x1="321.40" x2="325.30" y1="311.16" y2="311.16" stroke="#94c4dc" stroke-width="0.5"/><circle cx="324.1" cy="313.5" r="0.8" fill="#6eaace" opacity="0.5"/><circle cx="324.2" cy="312.6" r="0.8" fill="#6eaace" opacity="0.5"/><circle cx="321.7" cy="312.8" r="0.8" fill="#6eaace" opacity="0.5"/><circle cx="324.1" cy="310.4" r="0.8" fill="#6eaace" opacity="0.5"/><circle cx="324.2" cy="310.1" r="0.8" fill="#6eaace" opacity="0.5"/><circle cx="323.8" cy="313.3" r="0.8" fill="#6eaace" opacity="0.5"/><circle cx="323.2" cy="310.7" r="0.8" fill="#6eaace" opacity="0.5"/><circle cx="322.5" cy="309.8" r="0.8" fill="#6eaace" opacity="0.5"/><circle cx="324.1" cy="309.7" r="0.8" fill="#6eaace" opacity="0.5"/><circle cx="321.6" cy="313.6" r="0.8" fill="#6eaace" opacity="0.5"/><circle cx="324.5" cy="310.9" r="0.8" fill="#6eaace" opacity="0.5"/><circle cx="324.2" cy="308.3" r="0.85" fill="#88b8d2" opacity="0.55"/><circle cx="323.3" cy="306.0" r="0.85" fill="#88b8d2" opacity="0.55"/><circle cx="323.6" cy="308.0" r="0.85" fill="#88b8d2" opacity="0.55"/><circle cx="323.2" cy="300.6" r="1.0" fill="#8aa8bc" opacity="0.75"/><line x1="328.35" x2="328.35" y1="305.45" y2="311.97" stroke="#a84070" stroke-width="0.45" opacity="0.4"/><rect x="326.40" y="306.27" width="3.9" height="4.07" fill="#bb5280" stroke="#a84070" stroke-width="0.4"/><line x1="326.40" x2="330.30" y1="307.90" y2="307.90" stroke="#a84070" stroke-width="0.5"/><circle cx="327.1" cy="307.6" r="0.8" fill="#983060" opacity="0.5"/><circle cx="327.9" cy="307.1" r="0.8" fill="#983060" opacity="0.5"/><circle cx="328.8" cy="307.7" r="0.8" fill="#983060" opacity="0.5"/><circle cx="327.9" cy="308.6" r="0.8" fill="#983060" opacity="0.5"/><circle cx="330.0" cy="307.1" r="0.8" fill="#983060" opacity="0.5"/><circle cx="328.6" cy="307.1" r="0.8" fill="#983060" opacity="0.5"/><circle cx="326.8" cy="309.1" r="0.8" fill="#983060" opacity="0.5"/><circle cx="329.1" cy="306.4" r="0.8" fill="#983060" opacity="0.5"/><circle cx="327.7" cy="307.0" r="0.8" fill="#983060" opacity="0.5"/><circle cx="329.5" cy="310.4" r="0.85" fill="#b0607f" opacity="0.55"/><circle cx="328.1" cy="311.5" r="0.85" fill="#b0607f" opacity="0.55"/><line x1="336.15" x2="336.15" y1="303.82" y2="313.60" stroke="#94c4dc" stroke-width="0.45" opacity="0.4"/><rect x="334.20" y="308.71" width="3.9" height="4.07" fill="#a6d0e4" stroke="#94c4dc" stroke-width="0.4"/><line x1="334.20" x2="338.10" y1="310.34" y2="310.34" stroke="#94c4dc" stroke-width="0.5"/><circle cx="335.7" cy="309.2" r="0.8" fill="#6eaace" opacity="0.5"/><circle cx="336.5" cy="310.0" r="0.8" fill="#6eaace" opacity="0.5"/><circle cx="337.3" cy="309.1" r="0.8" fill="#6eaace" opacity="0.5"/><circle cx="334.4" cy="311.6" r="0.8" fill="#6eaace" opacity="0.5"/><circle cx="335.9" cy="311.7" r="0.8" fill="#6eaace" opacity="0.5"/><circle cx="337.3" cy="310.4" r="0.8" fill="#6eaace" opacity="0.5"/><circle cx="334.5" cy="309.2" r="0.8" fill="#6eaace" opacity="0.5"/><circle cx="337.3" cy="309.4" r="0.8" fill="#6eaace" opacity="0.5"/><circle cx="336.4" cy="309.3" r="0.8" fill="#6eaace" opacity="0.5"/><circle cx="337.4" cy="311.7" r="0.8" fill="#6eaace" opacity="0.5"/><circle cx="336.8" cy="309.5" r="0.8" fill="#6eaace" opacity="0.5"/><circle cx="334.7" cy="313.3" r="0.85" fill="#88b8d2" opacity="0.55"/><circle cx="335.1" cy="304.8" r="0.85" fill="#88b8d2" opacity="0.55"/><circle cx="335.2" cy="304.2" r="0.85" fill="#88b8d2" opacity="0.55"/><circle cx="336.4" cy="289.2" r="1.0" fill="#8aa8bc" opacity="0.75"/><circle cx="336.6" cy="303.0" r="1.0" fill="#8aa8bc" opacity="0.75"/><line x1="341.15" x2="341.15" y1="306.27" y2="312.79" stroke="#a84070" stroke-width="0.45" opacity="0.4"/><rect x="339.20" y="307.90" width="3.9" height="3.26" fill="#bb5280" stroke="#a84070" stroke-width="0.4"/><line x1="339.20" x2="343.10" y1="309.53" y2="309.53" stroke="#a84070" stroke-width="0.5"/><circle cx="340.1" cy="309.6" r="0.8" fill="#983060" opacity="0.5"/><circle cx="342.1" cy="310.3" r="0.8" fill="#983060" opacity="0.5"/><circle cx="341.0" cy="308.6" r="0.8" fill="#983060" opacity="0.5"/><circle cx="342.3" cy="310.9" r="0.8" fill="#983060" opacity="0.5"/><circle cx="340.2" cy="308.6" r="0.8" fill="#983060" opacity="0.5"/><circle cx="342.6" cy="309.3" r="0.8" fill="#983060" opacity="0.5"/><circle cx="341.2" cy="308.3" r="0.8" fill="#983060" opacity="0.5"/><circle cx="341.5" cy="309.6" r="0.8" fill="#983060" opacity="0.5"/><circle cx="340.0" cy="307.6" r="0.85" fill="#b0607f" opacity="0.55"/><circle cx="341.4" cy="312.2" r="0.85" fill="#b0607f" opacity="0.55"/><circle cx="339.9" cy="307.1" r="0.85" fill="#b0607f" opacity="0.55"/><circle cx="339.9" cy="296.5" r="1.0" fill="#a06282" opacity="0.75"/><text x="287.45" y="253.30" font-size="3.2" fill="#555" text-anchor="middle">p = 0.01</text><text x="300.25" y="253.30" font-size="3.2" fill="#555" text-anchor="middle">p = 0.01</text><text x="313.05" y="253.30" font-size="3.2" fill="#555" text-anchor="middle">p = 0.01</text><text x="325.85" y="253.30" font-size="3.2" fill="#555" text-anchor="middle">p = 0.01</text><text x="338.65" y="253.30" font-size="3.2" fill="#555" text-anchor="middle">p = 0.01</text><rect x="358.3" y="239.6" width="66.0" height="7.4" fill="#a2ee30"/><text x="391.30" y="246.40" font-size="7" font-weight="bold" fill="#000" text-anchor="middle">5</text><rect x="358.3" y="248.6" width="66.0" height="67.60" fill="#fff" stroke="#b8b8b8" stroke-width="0.8"/><line x1="356.7" x2="358.3" y1="313.60" y2="313.60" stroke="#555" stroke-width="0.6"/><text x="356.00" y="315.80" font-size="6.4" fill="#3a3a3a" text-anchor="end">0</text><line x1="356.7" x2="358.3" y1="295.90" y2="295.90" stroke="#555" stroke-width="0.6"/><text x="356.00" y="298.10" font-size="6.4" fill="#3a3a3a" text-anchor="end">25</text><line x1="356.7" x2="358.3" y1="278.20" y2="278.20" stroke="#555" stroke-width="0.6"/><text x="356.00" y="280.40" font-size="6.4" fill="#3a3a3a" text-anchor="end">50</text><line x1="356.7" x2="358.3" y1="260.50" y2="260.50" stroke="#555" stroke-width="0.6"/><text x="356.00" y="262.70" font-size="6.4" fill="#3a3a3a" text-anchor="end">75</text><line x1="363.40" x2="363.40" y1="253.42" y2="313.60" stroke="#94c4dc" stroke-width="0.45" opacity="0.4"/><rect x="361.45" y="273.24" width="3.9" height="30.44" fill="#a6d0e4" stroke="#94c4dc" stroke-width="0.4"/><line x1="361.45" x2="365.35" y1="288.82" y2="288.82" stroke="#94c4dc" stroke-width="0.5"/><circle cx="362.9" cy="273.3" r="0.8" fill="#6eaace" opacity="0.5"/><circle cx="363.9" cy="300.5" r="0.8" fill="#6eaace" opacity="0.5"/><circle cx="362.2" cy="279.7" r="0.8" fill="#6eaace" opacity="0.5"/><circle cx="362.8" cy="285.5" r="0.8" fill="#6eaace" opacity="0.5"/><circle cx="361.7" cy="287.9" r="0.8" fill="#6eaace" opacity="0.5"/><circle cx="365.2" cy="302.7" r="0.8" fill="#6eaace" opacity="0.5"/><circle cx="363.4" cy="277.3" r="0.8" fill="#6eaace" opacity="0.5"/><circle cx="362.5" cy="286.4" r="0.8" fill="#6eaace" opacity="0.5"/><circle cx="363.1" cy="280.0" r="0.8" fill="#6eaace" opacity="0.5"/><circle cx="364.4" cy="274.9" r="0.8" fill="#6eaace" opacity="0.5"/><circle cx="365.1" cy="278.8" r="0.8" fill="#6eaace" opacity="0.5"/><circle cx="361.7" cy="296.0" r="0.8" fill="#6eaace" opacity="0.5"/><circle cx="362.3" cy="297.6" r="0.8" fill="#6eaace" opacity="0.5"/><circle cx="361.8" cy="301.1" r="0.8" fill="#6eaace" opacity="0.5"/><circle cx="364.7" cy="286.7" r="0.8" fill="#6eaace" opacity="0.5"/><circle cx="365.0" cy="289.7" r="0.8" fill="#6eaace" opacity="0.5"/><circle cx="361.8" cy="276.0" r="0.8" fill="#6eaace" opacity="0.5"/><circle cx="363.0" cy="285.5" r="0.8" fill="#6eaace" opacity="0.5"/><circle cx="365.1" cy="300.0" r="0.8" fill="#6eaace" opacity="0.5"/><circle cx="363.6" cy="295.9" r="0.8" fill="#6eaace" opacity="0.5"/><circle cx="365.0" cy="284.2" r="0.8" fill="#6eaace" opacity="0.5"/><circle cx="363.0" cy="283.3" r="0.8" fill="#6eaace" opacity="0.5"/><circle cx="362.2" cy="290.0" r="0.8" fill="#6eaace" opacity="0.5"/><circle cx="365.2" cy="274.3" r="0.8" fill="#6eaace" opacity="0.5"/><circle cx="361.7" cy="296.9" r="0.8" fill="#6eaace" opacity="0.5"/><circle cx="362.9" cy="295.9" r="0.8" fill="#6eaace" opacity="0.5"/><circle cx="364.9" cy="276.2" r="0.8" fill="#6eaace" opacity="0.5"/><circle cx="361.8" cy="278.2" r="0.8" fill="#6eaace" opacity="0.5"/><circle cx="364.2" cy="279.7" r="0.8" fill="#6eaace" opacity="0.5"/><circle cx="365.1" cy="284.0" r="0.8" fill="#6eaace" opacity="0.5"/><circle cx="362.1" cy="302.0" r="0.8" fill="#6eaace" opacity="0.5"/><circle cx="365.0" cy="280.7" r="0.8" fill="#6eaace" opacity="0.5"/><circle cx="362.7" cy="283.1" r="0.8" fill="#6eaace" opacity="0.5"/><circle cx="364.3" cy="285.7" r="0.8" fill="#6eaace" opacity="0.5"/><circle cx="362.8" cy="300.5" r="0.8" fill="#6eaace" opacity="0.5"/><circle cx="363.3" cy="270.8" r="0.85" fill="#88b8d2" opacity="0.55"/><circle cx="362.1" cy="268.5" r="0.85" fill="#88b8d2" opacity="0.55"/><circle cx="364.2" cy="313.5" r="0.85" fill="#88b8d2" opacity="0.55"/><circle cx="364.9" cy="272.5" r="0.85" fill="#88b8d2" opacity="0.55"/><circle cx="364.7" cy="254.7" r="0.85" fill="#88b8d2" opacity="0.55"/><circle cx="363.2" cy="312.2" r="0.85" fill="#88b8d2" opacity="0.55"/><circle cx="364.6" cy="254.8" r="0.85" fill="#88b8d2" opacity="0.55"/><circle cx="362.8" cy="264.3" r="0.85" fill="#88b8d2" opacity="0.55"/><circle cx="363.9" cy="308.9" r="0.85" fill="#88b8d2" opacity="0.55"/><circle cx="361.8" cy="268.8" r="0.85" fill="#88b8d2" opacity="0.55"/><circle cx="362.1" cy="308.1" r="0.85" fill="#88b8d2" opacity="0.55"/><circle cx="363.1" cy="311.0" r="0.85" fill="#88b8d2" opacity="0.55"/><line x1="368.40" x2="368.40" y1="301.56" y2="313.60" stroke="#a84070" stroke-width="0.45" opacity="0.4"/><rect x="366.45" y="306.52" width="3.9" height="4.96" fill="#bb5280" stroke="#a84070" stroke-width="0.4"/><line x1="366.45" x2="370.35" y1="309.35" y2="309.35" stroke="#a84070" stroke-width="0.5"/><circle cx="367.6" cy="310.7" r="0.8" fill="#983060" opacity="0.5"/><circle cx="367.8" cy="307.3" r="0.8" fill="#983060" opacity="0.5"/><circle cx="368.4" cy="310.6" r="0.8" fill="#983060" opacity="0.5"/><circle cx="369.9" cy="309.9" r="0.8" fill="#983060" opacity="0.5"/><circle cx="370.1" cy="310.9" r="0.8" fill="#983060" opacity="0.5"/><circle cx="369.8" cy="311.2" r="0.8" fill="#983060" opacity="0.5"/><circle cx="367.4" cy="308.2" r="0.8" fill="#983060" opacity="0.5"/><circle cx="367.6" cy="309.1" r="0.8" fill="#983060" opacity="0.5"/><circle cx="367.3" cy="310.2" r="0.8" fill="#983060" opacity="0.5"/><circle cx="370.2" cy="309.7" r="0.8" fill="#983060" opacity="0.5"/><circle cx="367.0" cy="311.6" r="0.85" fill="#b0607f" opacity="0.55"/><circle cx="366.8" cy="302.1" r="0.85" fill="#b0607f" opacity="0.55"/><circle cx="370.1" cy="313.0" r="0.85" fill="#b0607f" opacity="0.55"/><circle cx="367.8" cy="302.5" r="0.85" fill="#b0607f" opacity="0.55"/><line x1="376.20" x2="376.20" y1="259.08" y2="313.60" stroke="#94c4dc" stroke-width="0.45" opacity="0.4"/><rect x="374.25" y="279.62" width="3.9" height="25.49" fill="#a6d0e4" stroke="#94c4dc" stroke-width="0.4"/><line x1="374.25" x2="378.15" y1="293.78" y2="293.78" stroke="#94c4dc" stroke-width="0.5"/><circle cx="374.4" cy="301.5" r="0.8" fill="#6eaace" opacity="0.5"/><circle cx="376.3" cy="283.9" r="0.8" fill="#6eaace" opacity="0.5"/><circle cx="376.0" cy="300.4" r="0.8" fill="#6eaace" opacity="0.5"/><circle cx="375.2" cy="281.9" r="0.8" fill="#6eaace" opacity="0.5"/><circle cx="374.9" cy="290.5" r="0.8" fill="#6eaace" opacity="0.5"/><circle cx="377.2" cy="300.5" r="0.8" fill="#6eaace" opacity="0.5"/><circle cx="375.1" cy="287.0" r="0.8" fill="#6eaace" opacity="0.5"/><circle cx="374.7" cy="303.1" r="0.8" fill="#6eaace" opacity="0.5"/><circle cx="376.2" cy="289.6" r="0.8" fill="#6eaace" opacity="0.5"/><circle cx="375.1" cy="298.1" r="0.8" fill="#6eaace" opacity="0.5"/><circle cx="376.9" cy="289.5" r="0.8" fill="#6eaace" opacity="0.5"/><circle cx="376.5" cy="284.4" r="0.8" fill="#6eaace" opacity="0.5"/><circle cx="374.6" cy="299.9" r="0.8" fill="#6eaace" opacity="0.5"/><circle cx="375.9" cy="286.4" r="0.8" fill="#6eaace" opacity="0.5"/><circle cx="374.6" cy="286.7" r="0.8" fill="#6eaace" opacity="0.5"/><circle cx="375.6" cy="284.4" r="0.8" fill="#6eaace" opacity="0.5"/><circle cx="377.5" cy="283.6" r="0.8" fill="#6eaace" opacity="0.5"/><circle cx="374.5" cy="292.5" r="0.8" fill="#6eaace" opacity="0.5"/><circle cx="376.1" cy="281.9" r="0.8" fill="#6eaace" opacity="0.5"/><circle cx="375.4" cy="282.9" r="0.8" fill="#6eaace" opacity="0.5"/><circle cx="377.4" cy="300.4" r="0.8" fill="#6eaace" opacity="0.5"/><circle cx="375.0" cy="295.7" r="0.8" fill="#6eaace" opacity="0.5"/><circle cx="376.5" cy="295.6" r="0.8" fill="#6eaace" opacity="0.5"/><circle cx="376.3" cy="305.0" r="0.8" fill="#6eaace" opacity="0.5"/><circle cx="376.3" cy="293.7" r="0.8" fill="#6eaace" opacity="0.5"/><circle cx="377.0" cy="302.0" r="0.8" fill="#6eaace" opacity="0.5"/><circle cx="377.5" cy="284.3" r="0.8" fill="#6eaace" opacity="0.5"/><circle cx="377.0" cy="296.9" r="0.8" fill="#6eaace" opacity="0.5"/><circle cx="377.1" cy="295.4" r="0.8" fill="#6eaace" opacity="0.5"/><circle cx="377.5" cy="303.5" r="0.8" fill="#6eaace" opacity="0.5"/><circle cx="376.2" cy="309.4" r="0.85" fill="#88b8d2" opacity="0.55"/><circle cx="374.5" cy="268.6" r="0.85" fill="#88b8d2" opacity="0.55"/><circle cx="375.1" cy="311.7" r="0.85" fill="#88b8d2" opacity="0.55"/><circle cx="377.3" cy="274.5" r="0.85" fill="#88b8d2" opacity="0.55"/><circle cx="376.9" cy="277.6" r="0.85" fill="#88b8d2" opacity="0.55"/><circle cx="376.6" cy="279.3" r="0.85" fill="#88b8d2" opacity="0.55"/><circle cx="376.9" cy="268.9" r="0.85" fill="#88b8d2" opacity="0.55"/><circle cx="377.0" cy="261.8" r="0.85" fill="#88b8d2" opacity="0.55"/><circle cx="376.2" cy="277.1" r="0.85" fill="#88b8d2" opacity="0.55"/><circle cx="374.8" cy="273.9" r="0.85" fill="#88b8d2" opacity="0.55"/><circle cx="376.5" cy="276.8" r="0.85" fill="#88b8d2" opacity="0.55"/><circle cx="376.5" cy="312.3" r="0.85" fill="#88b8d2" opacity="0.55"/><line x1="381.20" x2="381.20" y1="296.61" y2="313.60" stroke="#a84070" stroke-width="0.45" opacity="0.4"/><rect x="379.25" y="305.10" width="3.9" height="6.37" fill="#bb5280" stroke="#a84070" stroke-width="0.4"/><line x1="379.25" x2="383.15" y1="307.94" y2="307.94" stroke="#a84070" stroke-width="0.5"/><circle cx="380.0" cy="306.7" r="0.8" fill="#983060" opacity="0.5"/><circle cx="382.8" cy="306.2" r="0.8" fill="#983060" opacity="0.5"/><circle cx="380.9" cy="309.0" r="0.8" fill="#983060" opacity="0.5"/><circle cx="381.3" cy="306.1" r="0.8" fill="#983060" opacity="0.5"/><circle cx="382.8" cy="309.0" r="0.8" fill="#983060" opacity="0.5"/><circle cx="380.6" cy="306.5" r="0.8" fill="#983060" opacity="0.5"/><circle cx="380.6" cy="309.9" r="0.8" fill="#983060" opacity="0.5"/><circle cx="382.9" cy="308.7" r="0.8" fill="#983060" opacity="0.5"/><circle cx="382.7" cy="306.4" r="0.8" fill="#983060" opacity="0.5"/><circle cx="382.5" cy="306.3" r="0.8" fill="#983060" opacity="0.5"/><circle cx="381.3" cy="311.1" r="0.8" fill="#983060" opacity="0.5"/><circle cx="380.3" cy="311.6" r="0.85" fill="#b0607f" opacity="0.55"/><circle cx="380.7" cy="299.7" r="0.85" fill="#b0607f" opacity="0.55"/><circle cx="381.0" cy="304.5" r="0.85" fill="#b0607f" opacity="0.55"/><circle cx="379.9" cy="304.9" r="0.85" fill="#b0607f" opacity="0.55"/><circle cx="382.8" cy="312.0" r="0.85" fill="#b0607f" opacity="0.55"/><circle cx="381.6" cy="299.4" r="1.0" fill="#a06282" opacity="0.75"/><line x1="389.00" x2="389.00" y1="259.08" y2="313.60" stroke="#94c4dc" stroke-width="0.45" opacity="0.4"/><rect x="387.05" y="280.32" width="3.9" height="26.20" fill="#a6d0e4" stroke="#94c4dc" stroke-width="0.4"/><line x1="387.05" x2="390.95" y1="295.19" y2="295.19" stroke="#94c4dc" stroke-width="0.5"/><circle cx="390.4" cy="285.3" r="0.8" fill="#6eaace" opacity="0.5"/><circle cx="387.3" cy="283.3" r="0.8" fill="#6eaace" opacity="0.5"/><circle cx="388.2" cy="289.7" r="0.8" fill="#6eaace" opacity="0.5"/><circle cx="388.2" cy="288.7" r="0.8" fill="#6eaace" opacity="0.5"/><circle cx="390.5" cy="292.3" r="0.8" fill="#6eaace" opacity="0.5"/><circle cx="388.1" cy="290.2" r="0.8" fill="#6eaace" opacity="0.5"/><circle cx="388.8" cy="292.9" r="0.8" fill="#6eaace" opacity="0.5"/><circle cx="388.2" cy="281.6" r="0.8" fill="#6eaace" opacity="0.5"/><circle cx="389.5" cy="298.5" r="0.8" fill="#6eaace" opacity="0.5"/><circle cx="389.3" cy="303.4" r="0.8" fill="#6eaace" opacity="0.5"/><circle cx="389.0" cy="281.5" r="0.8" fill="#6eaace" opacity="0.5"/><circle cx="388.9" cy="299.5" r="0.8" fill="#6eaace" opacity="0.5"/><circle cx="387.7" cy="292.5" r="0.8" fill="#6eaace" opacity="0.5"/><circle cx="387.7" cy="303.3" r="0.8" fill="#6eaace" opacity="0.5"/><circle cx="388.7" cy="298.8" r="0.8" fill="#6eaace" opacity="0.5"/><circle cx="388.1" cy="299.0" r="0.8" fill="#6eaace" opacity="0.5"/><circle cx="389.2" cy="304.2" r="0.8" fill="#6eaace" opacity="0.5"/><circle cx="389.4" cy="284.5" r="0.8" fill="#6eaace" opacity="0.5"/><circle cx="389.5" cy="291.6" r="0.8" fill="#6eaace" opacity="0.5"/><circle cx="389.8" cy="301.2" r="0.8" fill="#6eaace" opacity="0.5"/><circle cx="389.2" cy="294.4" r="0.8" fill="#6eaace" opacity="0.5"/><circle cx="388.9" cy="290.5" r="0.8" fill="#6eaace" opacity="0.5"/><circle cx="388.1" cy="298.4" r="0.8" fill="#6eaace" opacity="0.5"/><circle cx="389.0" cy="300.7" r="0.8" fill="#6eaace" opacity="0.5"/><circle cx="389.3" cy="296.5" r="0.8" fill="#6eaace" opacity="0.5"/><circle cx="388.5" cy="306.2" r="0.8" fill="#6eaace" opacity="0.5"/><circle cx="388.1" cy="283.9" r="0.8" fill="#6eaace" opacity="0.5"/><circle cx="389.0" cy="291.9" r="0.8" fill="#6eaace" opacity="0.5"/><circle cx="390.8" cy="299.1" r="0.8" fill="#6eaace" opacity="0.5"/><circle cx="390.0" cy="298.8" r="0.8" fill="#6eaace" opacity="0.5"/><circle cx="387.4" cy="302.4" r="0.8" fill="#6eaace" opacity="0.5"/><circle cx="387.4" cy="310.5" r="0.85" fill="#88b8d2" opacity="0.55"/><circle cx="389.8" cy="271.0" r="0.85" fill="#88b8d2" opacity="0.55"/><circle cx="390.7" cy="275.5" r="0.85" fill="#88b8d2" opacity="0.55"/><circle cx="388.4" cy="277.0" r="0.85" fill="#88b8d2" opacity="0.55"/><circle cx="389.4" cy="266.0" r="0.85" fill="#88b8d2" opacity="0.55"/><circle cx="389.1" cy="307.8" r="0.85" fill="#88b8d2" opacity="0.55"/><circle cx="389.9" cy="264.5" r="0.85" fill="#88b8d2" opacity="0.55"/><circle cx="389.8" cy="263.7" r="0.85" fill="#88b8d2" opacity="0.55"/><circle cx="390.3" cy="312.7" r="0.85" fill="#88b8d2" opacity="0.55"/><circle cx="389.3" cy="264.1" r="0.85" fill="#88b8d2" opacity="0.55"/><circle cx="389.3" cy="259.9" r="0.85" fill="#88b8d2" opacity="0.55"/><line x1="394.00" x2="394.00" y1="298.02" y2="313.60" stroke="#a84070" stroke-width="0.45" opacity="0.4"/><rect x="392.05" y="305.10" width="3.9" height="6.37" fill="#bb5280" stroke="#a84070" stroke-width="0.4"/><line x1="392.05" x2="395.95" y1="307.94" y2="307.94" stroke="#a84070" stroke-width="0.5"/><circle cx="395.0" cy="308.8" r="0.8" fill="#983060" opacity="0.5"/><circle cx="394.4" cy="305.9" r="0.8" fill="#983060" opacity="0.5"/><circle cx="393.8" cy="309.1" r="0.8" fill="#983060" opacity="0.5"/><circle cx="394.8" cy="308.6" r="0.8" fill="#983060" opacity="0.5"/><circle cx="393.6" cy="309.6" r="0.8" fill="#983060" opacity="0.5"/><circle cx="393.6" cy="307.9" r="0.8" fill="#983060" opacity="0.5"/><circle cx="395.0" cy="309.4" r="0.8" fill="#983060" opacity="0.5"/><circle cx="394.0" cy="306.1" r="0.8" fill="#983060" opacity="0.5"/><circle cx="392.9" cy="308.6" r="0.8" fill="#983060" opacity="0.5"/><circle cx="392.7" cy="309.5" r="0.8" fill="#983060" opacity="0.5"/><circle cx="394.3" cy="307.8" r="0.8" fill="#983060" opacity="0.5"/><circle cx="393.4" cy="298.6" r="0.85" fill="#b0607f" opacity="0.55"/><circle cx="395.7" cy="311.8" r="0.85" fill="#b0607f" opacity="0.55"/><circle cx="395.5" cy="302.1" r="0.85" fill="#b0607f" opacity="0.55"/><circle cx="394.2" cy="304.8" r="0.85" fill="#b0607f" opacity="0.55"/><circle cx="395.0" cy="298.6" r="0.85" fill="#b0607f" opacity="0.55"/><line x1="401.80" x2="401.80" y1="264.04" y2="313.60" stroke="#94c4dc" stroke-width="0.45" opacity="0.4"/><rect x="399.85" y="289.53" width="3.9" height="20.53" fill="#a6d0e4" stroke="#94c4dc" stroke-width="0.4"/><line x1="399.85" x2="403.75" y1="300.86" y2="300.86" stroke="#94c4dc" stroke-width="0.5"/><circle cx="403.6" cy="299.0" r="0.8" fill="#6eaace" opacity="0.5"/><circle cx="401.9" cy="299.4" r="0.8" fill="#6eaace" opacity="0.5"/><circle cx="401.4" cy="296.0" r="0.8" fill="#6eaace" opacity="0.5"/><circle cx="402.1" cy="302.7" r="0.8" fill="#6eaace" opacity="0.5"/><circle cx="403.4" cy="302.9" r="0.8" fill="#6eaace" opacity="0.5"/><circle cx="401.9" cy="296.2" r="0.8" fill="#6eaace" opacity="0.5"/><circle cx="401.3" cy="308.0" r="0.8" fill="#6eaace" opacity="0.5"/><circle cx="402.0" cy="301.8" r="0.8" fill="#6eaace" opacity="0.5"/><circle cx="403.2" cy="298.3" r="0.8" fill="#6eaace" opacity="0.5"/><circle cx="401.8" cy="290.3" r="0.8" fill="#6eaace" opacity="0.5"/><circle cx="402.2" cy="301.0" r="0.8" fill="#6eaace" opacity="0.5"/><circle cx="401.2" cy="289.6" r="0.8" fill="#6eaace" opacity="0.5"/><circle cx="402.9" cy="299.2" r="0.8" fill="#6eaace" opacity="0.5"/><circle cx="401.1" cy="306.6" r="0.8" fill="#6eaace" opacity="0.5"/><circle cx="403.0" cy="290.0" r="0.8" fill="#6eaace" opacity="0.5"/><circle cx="400.4" cy="299.5" r="0.8" fill="#6eaace" opacity="0.5"/><circle cx="402.5" cy="291.7" r="0.8" fill="#6eaace" opacity="0.5"/><circle cx="403.6" cy="293.2" r="0.8" fill="#6eaace" opacity="0.5"/><circle cx="401.5" cy="291.8" r="0.8" fill="#6eaace" opacity="0.5"/><circle cx="401.0" cy="306.8" r="0.8" fill="#6eaace" opacity="0.5"/><circle cx="401.8" cy="299.6" r="0.8" fill="#6eaace" opacity="0.5"/><circle cx="400.7" cy="306.2" r="0.8" fill="#6eaace" opacity="0.5"/><circle cx="402.2" cy="297.1" r="0.8" fill="#6eaace" opacity="0.5"/><circle cx="403.6" cy="302.8" r="0.8" fill="#6eaace" opacity="0.5"/><circle cx="400.2" cy="297.0" r="0.8" fill="#6eaace" opacity="0.5"/><circle cx="402.8" cy="301.6" r="0.8" fill="#6eaace" opacity="0.5"/><circle cx="400.0" cy="271.9" r="0.85" fill="#88b8d2" opacity="0.55"/><circle cx="402.1" cy="268.1" r="0.85" fill="#88b8d2" opacity="0.55"/><circle cx="401.8" cy="284.5" r="0.85" fill="#88b8d2" opacity="0.55"/><circle cx="402.3" cy="282.7" r="0.85" fill="#88b8d2" opacity="0.55"/><circle cx="402.1" cy="264.1" r="0.85" fill="#88b8d2" opacity="0.55"/><circle cx="400.6" cy="286.4" r="0.85" fill="#88b8d2" opacity="0.55"/><circle cx="400.4" cy="286.8" r="0.85" fill="#88b8d2" opacity="0.55"/><circle cx="403.0" cy="276.2" r="0.85" fill="#88b8d2" opacity="0.55"/><circle cx="400.2" cy="269.0" r="0.85" fill="#88b8d2" opacity="0.55"/><circle cx="401.2" cy="269.9" r="0.85" fill="#88b8d2" opacity="0.55"/><circle cx="400.6" cy="280.5" r="0.85" fill="#88b8d2" opacity="0.55"/><circle cx="403.3" cy="287.0" r="0.85" fill="#88b8d2" opacity="0.55"/><line x1="406.80" x2="406.80" y1="307.23" y2="313.60" stroke="#a84070" stroke-width="0.45" opacity="0.4"/><rect x="404.85" y="310.06" width="3.9" height="2.12" fill="#bb5280" stroke="#a84070" stroke-width="0.4"/><line x1="404.85" x2="408.75" y1="311.48" y2="311.48" stroke="#a84070" stroke-width="0.5"/><circle cx="406.3" cy="310.9" r="0.8" fill="#983060" opacity="0.5"/><circle cx="406.4" cy="311.2" r="0.8" fill="#983060" opacity="0.5"/><circle cx="408.2" cy="312.1" r="0.8" fill="#983060" opacity="0.5"/><circle cx="408.5" cy="310.9" r="0.8" fill="#983060" opacity="0.5"/><circle cx="407.2" cy="311.3" r="0.8" fill="#983060" opacity="0.5"/><circle cx="405.2" cy="311.7" r="0.8" fill="#983060" opacity="0.5"/><circle cx="408.1" cy="310.2" r="0.8" fill="#983060" opacity="0.5"/><circle cx="407.9" cy="307.5" r="0.85" fill="#b0607f" opacity="0.55"/><circle cx="408.5" cy="308.4" r="0.85" fill="#b0607f" opacity="0.55"/><circle cx="405.9" cy="307.4" r="0.85" fill="#b0607f" opacity="0.55"/><line x1="414.60" x2="414.60" y1="273.24" y2="313.60" stroke="#94c4dc" stroke-width="0.45" opacity="0.4"/><rect x="412.65" y="292.36" width="3.9" height="15.58" fill="#a6d0e4" stroke="#94c4dc" stroke-width="0.4"/><line x1="412.65" x2="416.55" y1="300.86" y2="300.86" stroke="#94c4dc" stroke-width="0.5"/><circle cx="415.4" cy="301.9" r="0.8" fill="#6eaace" opacity="0.5"/><circle cx="413.9" cy="304.5" r="0.8" fill="#6eaace" opacity="0.5"/><circle cx="414.5" cy="294.3" r="0.8" fill="#6eaace" opacity="0.5"/><circle cx="413.7" cy="295.6" r="0.8" fill="#6eaace" opacity="0.5"/><circle cx="414.1" cy="305.2" r="0.8" fill="#6eaace" opacity="0.5"/><circle cx="416.3" cy="305.0" r="0.8" fill="#6eaace" opacity="0.5"/><circle cx="414.8" cy="303.4" r="0.8" fill="#6eaace" opacity="0.5"/><circle cx="414.7" cy="306.1" r="0.8" fill="#6eaace" opacity="0.5"/><circle cx="414.3" cy="301.9" r="0.8" fill="#6eaace" opacity="0.5"/><circle cx="413.2" cy="306.9" r="0.8" fill="#6eaace" opacity="0.5"/><circle cx="414.1" cy="295.1" r="0.8" fill="#6eaace" opacity="0.5"/><circle cx="413.5" cy="304.1" r="0.8" fill="#6eaace" opacity="0.5"/><circle cx="413.7" cy="303.5" r="0.8" fill="#6eaace" opacity="0.5"/><circle cx="415.2" cy="307.4" r="0.8" fill="#6eaace" opacity="0.5"/><circle cx="413.4" cy="302.6" r="0.8" fill="#6eaace" opacity="0.5"/><circle cx="413.1" cy="296.9" r="0.8" fill="#6eaace" opacity="0.5"/><circle cx="415.8" cy="303.7" r="0.8" fill="#6eaace" opacity="0.5"/><circle cx="414.4" cy="305.9" r="0.8" fill="#6eaace" opacity="0.5"/><circle cx="415.7" cy="294.9" r="0.8" fill="#6eaace" opacity="0.5"/><circle cx="414.1" cy="305.5" r="0.8" fill="#6eaace" opacity="0.5"/><circle cx="414.2" cy="296.7" r="0.8" fill="#6eaace" opacity="0.5"/><circle cx="413.5" cy="293.0" r="0.8" fill="#6eaace" opacity="0.5"/><circle cx="413.6" cy="310.7" r="0.85" fill="#88b8d2" opacity="0.55"/><circle cx="415.3" cy="289.9" r="0.85" fill="#88b8d2" opacity="0.55"/><circle cx="414.9" cy="275.2" r="0.85" fill="#88b8d2" opacity="0.55"/><circle cx="415.0" cy="287.7" r="0.85" fill="#88b8d2" opacity="0.55"/><circle cx="413.2" cy="275.7" r="0.85" fill="#88b8d2" opacity="0.55"/><circle cx="413.8" cy="282.0" r="0.85" fill="#88b8d2" opacity="0.55"/><circle cx="415.2" cy="311.4" r="0.85" fill="#88b8d2" opacity="0.55"/><circle cx="414.2" cy="286.4" r="0.85" fill="#88b8d2" opacity="0.55"/><circle cx="415.9" cy="289.0" r="0.85" fill="#88b8d2" opacity="0.55"/><circle cx="413.2" cy="279.7" r="0.85" fill="#88b8d2" opacity="0.55"/><line x1="419.60" x2="419.60" y1="303.69" y2="313.60" stroke="#a84070" stroke-width="0.45" opacity="0.4"/><rect x="417.65" y="309.35" width="3.9" height="2.83" fill="#bb5280" stroke="#a84070" stroke-width="0.4"/><line x1="417.65" x2="421.55" y1="310.77" y2="310.77" stroke="#a84070" stroke-width="0.5"/><circle cx="419.1" cy="310.6" r="0.8" fill="#983060" opacity="0.5"/><circle cx="418.9" cy="310.8" r="0.8" fill="#983060" opacity="0.5"/><circle cx="418.9" cy="312.0" r="0.8" fill="#983060" opacity="0.5"/><circle cx="418.3" cy="311.5" r="0.8" fill="#983060" opacity="0.5"/><circle cx="418.8" cy="310.2" r="0.8" fill="#983060" opacity="0.5"/><circle cx="421.1" cy="311.0" r="0.8" fill="#983060" opacity="0.5"/><circle cx="421.0" cy="310.0" r="0.8" fill="#983060" opacity="0.5"/><circle cx="418.3" cy="309.7" r="0.8" fill="#983060" opacity="0.5"/><circle cx="420.2" cy="309.2" r="0.85" fill="#b0607f" opacity="0.55"/><circle cx="419.3" cy="307.4" r="0.85" fill="#b0607f" opacity="0.55"/><circle cx="418.7" cy="305.4" r="0.85" fill="#b0607f" opacity="0.55"/><circle cx="420.1" cy="313.1" r="0.85" fill="#b0607f" opacity="0.55"/><text x="365.90" y="253.30" font-size="3.2" fill="#555" text-anchor="middle">p = 0.01</text><text x="378.70" y="253.30" font-size="3.2" fill="#555" text-anchor="middle">p = 0.01</text><text x="391.50" y="253.30" font-size="3.2" fill="#555" text-anchor="middle">p = 0.01</text><text x="404.30" y="253.30" font-size="3.2" fill="#555" text-anchor="middle">p = 0.01</text><text x="417.10" y="253.30" font-size="3.2" fill="#555" text-anchor="middle">p = 0.01</text><rect x="436.75" y="239.6" width="66.0" height="7.4" fill="#f4f020"/><text x="469.75" y="246.40" font-size="7" font-weight="bold" fill="#000" text-anchor="middle">6</text><rect x="436.75" y="248.6" width="66.0" height="67.60" fill="#fff" stroke="#b8b8b8" stroke-width="0.8"/><line x1="435.15" x2="436.75" y1="313.60" y2="313.60" stroke="#555" stroke-width="0.6"/><text x="434.45" y="315.80" font-size="6.4" fill="#3a3a3a" text-anchor="end">0</text><line x1="435.15" x2="436.75" y1="294.60" y2="294.60" stroke="#555" stroke-width="0.6"/><text x="434.45" y="296.80" font-size="6.4" fill="#3a3a3a" text-anchor="end">20</text><line x1="435.15" x2="436.75" y1="275.60" y2="275.60" stroke="#555" stroke-width="0.6"/><text x="434.45" y="277.80" font-size="6.4" fill="#3a3a3a" text-anchor="end">40</text><line x1="435.15" x2="436.75" y1="256.60" y2="256.60" stroke="#555" stroke-width="0.6"/><text x="434.45" y="258.80" font-size="6.4" fill="#3a3a3a" text-anchor="end">60</text><line x1="441.85" x2="441.85" y1="266.10" y2="313.60" stroke="#94c4dc" stroke-width="0.45" opacity="0.4"/><rect x="439.90" y="283.20" width="3.9" height="20.90" fill="#a6d0e4" stroke="#94c4dc" stroke-width="0.4"/><line x1="439.90" x2="443.80" y1="294.60" y2="294.60" stroke="#94c4dc" stroke-width="0.5"/><circle cx="440.5" cy="300.3" r="0.8" fill="#6eaace" opacity="0.5"/><circle cx="442.7" cy="285.0" r="0.8" fill="#6eaace" opacity="0.5"/><circle cx="440.2" cy="289.2" r="0.8" fill="#6eaace" opacity="0.5"/><circle cx="440.6" cy="303.3" r="0.8" fill="#6eaace" opacity="0.5"/><circle cx="441.1" cy="300.0" r="0.8" fill="#6eaace" opacity="0.5"/><circle cx="440.2" cy="296.1" r="0.8" fill="#6eaace" opacity="0.5"/><circle cx="442.3" cy="297.6" r="0.8" fill="#6eaace" opacity="0.5"/><circle cx="443.1" cy="300.3" r="0.8" fill="#6eaace" opacity="0.5"/><circle cx="442.6" cy="292.2" r="0.8" fill="#6eaace" opacity="0.5"/><circle cx="441.6" cy="298.8" r="0.8" fill="#6eaace" opacity="0.5"/><circle cx="441.3" cy="289.8" r="0.8" fill="#6eaace" opacity="0.5"/><circle cx="443.1" cy="304.1" r="0.8" fill="#6eaace" opacity="0.5"/><circle cx="441.1" cy="287.9" r="0.8" fill="#6eaace" opacity="0.5"/><circle cx="443.1" cy="303.2" r="0.8" fill="#6eaace" opacity="0.5"/><circle cx="440.2" cy="291.4" r="0.8" fill="#6eaace" opacity="0.5"/><circle cx="440.5" cy="299.0" r="0.8" fill="#6eaace" opacity="0.5"/><circle cx="440.8" cy="287.6" r="0.8" fill="#6eaace" opacity="0.5"/><circle cx="442.7" cy="285.0" r="0.8" fill="#6eaace" opacity="0.5"/><circle cx="442.6" cy="302.3" r="0.8" fill="#6eaace" opacity="0.5"/><circle cx="442.7" cy="295.9" r="0.8" fill="#6eaace" opacity="0.5"/><circle cx="441.1" cy="286.8" r="0.8" fill="#6eaace" opacity="0.5"/><circle cx="443.5" cy="302.2" r="0.8" fill="#6eaace" opacity="0.5"/><circle cx="443.4" cy="295.2" r="0.8" fill="#6eaace" opacity="0.5"/><circle cx="442.7" cy="289.6" r="0.8" fill="#6eaace" opacity="0.5"/><circle cx="442.3" cy="286.8" r="0.8" fill="#6eaace" opacity="0.5"/><circle cx="440.2" cy="294.6" r="0.8" fill="#6eaace" opacity="0.5"/><circle cx="441.9" cy="309.5" r="0.85" fill="#88b8d2" opacity="0.55"/><circle cx="442.8" cy="312.4" r="0.85" fill="#88b8d2" opacity="0.55"/><circle cx="443.0" cy="271.2" r="0.85" fill="#88b8d2" opacity="0.55"/><circle cx="443.5" cy="273.9" r="0.85" fill="#88b8d2" opacity="0.55"/><circle cx="440.9" cy="273.9" r="0.85" fill="#88b8d2" opacity="0.55"/><circle cx="441.5" cy="277.1" r="0.85" fill="#88b8d2" opacity="0.55"/><circle cx="440.5" cy="277.9" r="0.85" fill="#88b8d2" opacity="0.55"/><circle cx="440.9" cy="307.2" r="0.85" fill="#88b8d2" opacity="0.55"/><circle cx="441.7" cy="274.4" r="0.85" fill="#88b8d2" opacity="0.55"/><circle cx="441.1" cy="310.3" r="0.85" fill="#88b8d2" opacity="0.55"/><circle cx="442.1" cy="312.3" r="0.85" fill="#88b8d2" opacity="0.55"/><circle cx="441.4" cy="268.0" r="1.0" fill="#8aa8bc" opacity="0.75"/><line x1="446.85" x2="446.85" y1="294.60" y2="313.60" stroke="#a84070" stroke-width="0.45" opacity="0.4"/><rect x="444.90" y="304.10" width="3.9" height="5.70" fill="#bb5280" stroke="#a84070" stroke-width="0.4"/><line x1="444.90" x2="448.80" y1="306.95" y2="306.95" stroke="#a84070" stroke-width="0.5"/><circle cx="447.0" cy="305.2" r="0.8" fill="#983060" opacity="0.5"/><circle cx="445.7" cy="305.5" r="0.8" fill="#983060" opacity="0.5"/><circle cx="447.2" cy="306.0" r="0.8" fill="#983060" opacity="0.5"/><circle cx="447.8" cy="307.2" r="0.8" fill="#983060" opacity="0.5"/><circle cx="445.5" cy="305.1" r="0.8" fill="#983060" opacity="0.5"/><circle cx="446.3" cy="308.2" r="0.8" fill="#983060" opacity="0.5"/><circle cx="445.3" cy="308.6" r="0.8" fill="#983060" opacity="0.5"/><circle cx="445.8" cy="308.2" r="0.8" fill="#983060" opacity="0.5"/><circle cx="446.7" cy="305.8" r="0.8" fill="#983060" opacity="0.5"/><circle cx="446.2" cy="309.2" r="0.8" fill="#983060" opacity="0.5"/><circle cx="446.4" cy="307.1" r="0.8" fill="#983060" opacity="0.5"/><circle cx="445.1" cy="303.4" r="0.85" fill="#b0607f" opacity="0.55"/><circle cx="445.4" cy="310.7" r="0.85" fill="#b0607f" opacity="0.55"/><circle cx="447.1" cy="309.9" r="0.85" fill="#b0607f" opacity="0.55"/><circle cx="446.6" cy="299.5" r="0.85" fill="#b0607f" opacity="0.55"/><circle cx="445.1" cy="298.9" r="0.85" fill="#b0607f" opacity="0.55"/><circle cx="447.3" cy="311.2" r="0.85" fill="#b0607f" opacity="0.55"/><circle cx="448.1" cy="297.5" r="1.0" fill="#a06282" opacity="0.75"/><line x1="454.65" x2="454.65" y1="270.85" y2="313.60" stroke="#94c4dc" stroke-width="0.45" opacity="0.4"/><rect x="452.70" y="292.70" width="3.9" height="15.20" fill="#a6d0e4" stroke="#94c4dc" stroke-width="0.4"/><line x1="452.70" x2="456.60" y1="300.30" y2="300.30" stroke="#94c4dc" stroke-width="0.5"/><circle cx="453.8" cy="298.0" r="0.8" fill="#6eaace" opacity="0.5"/><circle cx="453.3" cy="304.2" r="0.8" fill="#6eaace" opacity="0.5"/><circle cx="455.6" cy="307.5" r="0.8" fill="#6eaace" opacity="0.5"/><circle cx="453.9" cy="295.1" r="0.8" fill="#6eaace" opacity="0.5"/><circle cx="455.1" cy="305.1" r="0.8" fill="#6eaace" opacity="0.5"/><circle cx="456.2" cy="295.0" r="0.8" fill="#6eaace" opacity="0.5"/><circle cx="455.7" cy="305.3" r="0.8" fill="#6eaace" opacity="0.5"/><circle cx="455.5" cy="295.3" r="0.8" fill="#6eaace" opacity="0.5"/><circle cx="453.5" cy="302.9" r="0.8" fill="#6eaace" opacity="0.5"/><circle cx="454.0" cy="295.4" r="0.8" fill="#6eaace" opacity="0.5"/><circle cx="454.8" cy="302.3" r="0.8" fill="#6eaace" opacity="0.5"/><circle cx="455.8" cy="302.3" r="0.8" fill="#6eaace" opacity="0.5"/><circle cx="453.0" cy="304.3" r="0.8" fill="#6eaace" opacity="0.5"/><circle cx="455.1" cy="299.3" r="0.8" fill="#6eaace" opacity="0.5"/><circle cx="455.4" cy="295.4" r="0.8" fill="#6eaace" opacity="0.5"/><circle cx="456.3" cy="294.1" r="0.8" fill="#6eaace" opacity="0.5"/><circle cx="454.6" cy="300.4" r="0.8" fill="#6eaace" opacity="0.5"/><circle cx="453.9" cy="305.5" r="0.8" fill="#6eaace" opacity="0.5"/><circle cx="453.1" cy="299.1" r="0.8" fill="#6eaace" opacity="0.5"/><circle cx="453.4" cy="297.4" r="0.8" fill="#6eaace" opacity="0.5"/><circle cx="456.3" cy="301.2" r="0.8" fill="#6eaace" opacity="0.5"/><circle cx="454.4" cy="291.8" r="0.85" fill="#88b8d2" opacity="0.55"/><circle cx="452.9" cy="276.9" r="0.85" fill="#88b8d2" opacity="0.55"/><circle cx="455.7" cy="308.7" r="0.85" fill="#88b8d2" opacity="0.55"/><circle cx="455.2" cy="286.5" r="0.85" fill="#88b8d2" opacity="0.55"/><circle cx="454.1" cy="283.5" r="0.85" fill="#88b8d2" opacity="0.55"/><circle cx="455.8" cy="278.1" r="0.85" fill="#88b8d2" opacity="0.55"/><circle cx="453.9" cy="312.7" r="0.85" fill="#88b8d2" opacity="0.55"/><circle cx="454.1" cy="280.4" r="0.85" fill="#88b8d2" opacity="0.55"/><circle cx="454.0" cy="290.8" r="0.85" fill="#88b8d2" opacity="0.55"/><circle cx="456.1" cy="271.5" r="0.85" fill="#88b8d2" opacity="0.55"/><circle cx="456.3" cy="308.0" r="0.85" fill="#88b8d2" opacity="0.55"/><circle cx="455.0" cy="279.4" r="1.0" fill="#8aa8bc" opacity="0.75"/><line x1="459.65" x2="459.65" y1="287.95" y2="313.60" stroke="#a84070" stroke-width="0.45" opacity="0.4"/><rect x="457.70" y="299.35" width="3.9" height="9.50" fill="#bb5280" stroke="#a84070" stroke-width="0.4"/><line x1="457.70" x2="461.60" y1="304.10" y2="304.10" stroke="#a84070" stroke-width="0.5"/><circle cx="458.1" cy="301.1" r="0.8" fill="#983060" opacity="0.5"/><circle cx="460.0" cy="302.4" r="0.8" fill="#983060" opacity="0.5"/><circle cx="459.9" cy="306.0" r="0.8" fill="#983060" opacity="0.5"/><circle cx="459.6" cy="299.8" r="0.8" fill="#983060" opacity="0.5"/><circle cx="458.9" cy="302.7" r="0.8" fill="#983060" opacity="0.5"/><circle cx="461.0" cy="305.6" r="0.8" fill="#983060" opacity="0.5"/><circle cx="458.5" cy="308.6" r="0.8" fill="#983060" opacity="0.5"/><circle cx="459.5" cy="302.4" r="0.8" fill="#983060" opacity="0.5"/><circle cx="460.2" cy="308.0" r="0.8" fill="#983060" opacity="0.5"/><circle cx="459.9" cy="305.3" r="0.8" fill="#983060" opacity="0.5"/><circle cx="459.8" cy="304.9" r="0.8" fill="#983060" opacity="0.5"/><circle cx="459.3" cy="303.5" r="0.8" fill="#983060" opacity="0.5"/><circle cx="458.5" cy="307.8" r="0.8" fill="#983060" opacity="0.5"/><circle cx="459.8" cy="300.4" r="0.8" fill="#983060" opacity="0.5"/><circle cx="458.8" cy="289.5" r="0.85" fill="#b0607f" opacity="0.55"/><circle cx="458.8" cy="293.3" r="0.85" fill="#b0607f" opacity="0.55"/><circle cx="458.7" cy="293.0" r="0.85" fill="#b0607f" opacity="0.55"/><circle cx="459.7" cy="298.1" r="0.85" fill="#b0607f" opacity="0.55"/><circle cx="459.3" cy="298.4" r="0.85" fill="#b0607f" opacity="0.55"/><circle cx="461.0" cy="294.3" r="0.85" fill="#b0607f" opacity="0.55"/><circle cx="460.6" cy="291.2" r="0.85" fill="#b0607f" opacity="0.55"/><circle cx="458.6" cy="292.7" r="1.0" fill="#a06282" opacity="0.75"/><line x1="467.45" x2="467.45" y1="271.80" y2="313.60" stroke="#94c4dc" stroke-width="0.45" opacity="0.4"/><rect x="465.50" y="291.75" width="3.9" height="17.10" fill="#a6d0e4" stroke="#94c4dc" stroke-width="0.4"/><line x1="465.50" x2="469.40" y1="301.25" y2="301.25" stroke="#94c4dc" stroke-width="0.5"/><circle cx="468.2" cy="291.9" r="0.8" fill="#6eaace" opacity="0.5"/><circle cx="468.6" cy="307.1" r="0.8" fill="#6eaace" opacity="0.5"/><circle cx="466.3" cy="302.1" r="0.8" fill="#6eaace" opacity="0.5"/><circle cx="467.7" cy="292.4" r="0.8" fill="#6eaace" opacity="0.5"/><circle cx="466.1" cy="295.6" r="0.8" fill="#6eaace" opacity="0.5"/><circle cx="465.9" cy="295.6" r="0.8" fill="#6eaace" opacity="0.5"/><circle cx="467.0" cy="304.8" r="0.8" fill="#6eaace" opacity="0.5"/><circle cx="467.8" cy="308.6" r="0.8" fill="#6eaace" opacity="0.5"/><circle cx="466.7" cy="305.2" r="0.8" fill="#6eaace" opacity="0.5"/><circle cx="467.2" cy="296.8" r="0.8" fill="#6eaace" opacity="0.5"/><circle cx="467.9" cy="293.7" r="0.8" fill="#6eaace" opacity="0.5"/><circle cx="467.7" cy="293.9" r="0.8" fill="#6eaace" opacity="0.5"/><circle cx="468.8" cy="293.2" r="0.8" fill="#6eaace" opacity="0.5"/><circle cx="468.3" cy="306.0" r="0.8" fill="#6eaace" opacity="0.5"/><circle cx="468.4" cy="303.0" r="0.8" fill="#6eaace" opacity="0.5"/><circle cx="468.6" cy="297.2" r="0.8" fill="#6eaace" opacity="0.5"/><circle cx="467.0" cy="306.8" r="0.8" fill="#6eaace" opacity="0.5"/><circle cx="469.1" cy="296.2" r="0.8" fill="#6eaace" opacity="0.5"/><circle cx="465.8" cy="296.5" r="0.8" fill="#6eaace" opacity="0.5"/><circle cx="466.0" cy="298.5" r="0.8" fill="#6eaace" opacity="0.5"/><circle cx="468.5" cy="299.5" r="0.8" fill="#6eaace" opacity="0.5"/><circle cx="469.0" cy="306.9" r="0.8" fill="#6eaace" opacity="0.5"/><circle cx="466.6" cy="297.3" r="0.8" fill="#6eaace" opacity="0.5"/><circle cx="468.7" cy="282.8" r="0.85" fill="#88b8d2" opacity="0.55"/><circle cx="465.7" cy="289.5" r="0.85" fill="#88b8d2" opacity="0.55"/><circle cx="466.3" cy="275.8" r="0.85" fill="#88b8d2" opacity="0.55"/><circle cx="468.1" cy="286.0" r="0.85" fill="#88b8d2" opacity="0.55"/><circle cx="468.8" cy="288.9" r="0.85" fill="#88b8d2" opacity="0.55"/><circle cx="468.6" cy="278.0" r="0.85" fill="#88b8d2" opacity="0.55"/><circle cx="466.9" cy="313.5" r="0.85" fill="#88b8d2" opacity="0.55"/><circle cx="468.8" cy="281.7" r="0.85" fill="#88b8d2" opacity="0.55"/><circle cx="466.3" cy="291.0" r="0.85" fill="#88b8d2" opacity="0.55"/><circle cx="467.1" cy="310.4" r="0.85" fill="#88b8d2" opacity="0.55"/><circle cx="467.4" cy="285.1" r="1.0" fill="#8aa8bc" opacity="0.75"/><line x1="472.45" x2="472.45" y1="288.90" y2="313.60" stroke="#a84070" stroke-width="0.45" opacity="0.4"/><rect x="470.50" y="300.30" width="3.9" height="8.55" fill="#bb5280" stroke="#a84070" stroke-width="0.4"/><line x1="470.50" x2="474.40" y1="305.05" y2="305.05" stroke="#a84070" stroke-width="0.5"/><circle cx="473.7" cy="307.5" r="0.8" fill="#983060" opacity="0.5"/><circle cx="473.8" cy="305.5" r="0.8" fill="#983060" opacity="0.5"/><circle cx="470.9" cy="303.6" r="0.8" fill="#983060" opacity="0.5"/><circle cx="471.4" cy="306.0" r="0.8" fill="#983060" opacity="0.5"/><circle cx="472.8" cy="301.2" r="0.8" fill="#983060" opacity="0.5"/><circle cx="471.3" cy="308.5" r="0.8" fill="#983060" opacity="0.5"/><circle cx="472.3" cy="305.8" r="0.8" fill="#983060" opacity="0.5"/><circle cx="472.0" cy="303.9" r="0.8" fill="#983060" opacity="0.5"/><circle cx="470.7" cy="305.8" r="0.8" fill="#983060" opacity="0.5"/><circle cx="471.9" cy="303.9" r="0.8" fill="#983060" opacity="0.5"/><circle cx="472.3" cy="308.7" r="0.8" fill="#983060" opacity="0.5"/><circle cx="470.8" cy="300.4" r="0.8" fill="#983060" opacity="0.5"/><circle cx="473.1" cy="307.6" r="0.8" fill="#983060" opacity="0.5"/><circle cx="472.5" cy="297.2" r="0.85" fill="#b0607f" opacity="0.55"/><circle cx="472.6" cy="293.8" r="0.85" fill="#b0607f" opacity="0.55"/><circle cx="470.8" cy="308.9" r="0.85" fill="#b0607f" opacity="0.55"/><circle cx="473.8" cy="291.5" r="0.85" fill="#b0607f" opacity="0.55"/><circle cx="472.9" cy="310.6" r="0.85" fill="#b0607f" opacity="0.55"/><circle cx="473.5" cy="297.1" r="0.85" fill="#b0607f" opacity="0.55"/><circle cx="473.1" cy="309.1" r="0.85" fill="#b0607f" opacity="0.55"/><circle cx="471.9" cy="278.5" r="1.0" fill="#a06282" opacity="0.75"/><line x1="480.25" x2="480.25" y1="275.60" y2="313.60" stroke="#94c4dc" stroke-width="0.45" opacity="0.4"/><rect x="478.30" y="294.60" width="3.9" height="15.20" fill="#a6d0e4" stroke="#94c4dc" stroke-width="0.4"/><line x1="478.30" x2="482.20" y1="302.20" y2="302.20" stroke="#94c4dc" stroke-width="0.5"/><circle cx="481.1" cy="298.2" r="0.8" fill="#6eaace" opacity="0.5"/><circle cx="480.7" cy="302.1" r="0.8" fill="#6eaace" opacity="0.5"/><circle cx="480.4" cy="304.5" r="0.8" fill="#6eaace" opacity="0.5"/><circle cx="478.7" cy="303.6" r="0.8" fill="#6eaace" opacity="0.5"/><circle cx="479.6" cy="304.7" r="0.8" fill="#6eaace" opacity="0.5"/><circle cx="480.2" cy="294.8" r="0.8" fill="#6eaace" opacity="0.5"/><circle cx="479.3" cy="304.2" r="0.8" fill="#6eaace" opacity="0.5"/><circle cx="479.7" cy="306.2" r="0.8" fill="#6eaace" opacity="0.5"/><circle cx="478.5" cy="307.7" r="0.8" fill="#6eaace" opacity="0.5"/><circle cx="480.1" cy="296.6" r="0.8" fill="#6eaace" opacity="0.5"/><circle cx="480.5" cy="303.0" r="0.8" fill="#6eaace" opacity="0.5"/><circle cx="479.1" cy="305.2" r="0.8" fill="#6eaace" opacity="0.5"/><circle cx="479.5" cy="308.8" r="0.8" fill="#6eaace" opacity="0.5"/><circle cx="481.1" cy="305.1" r="0.8" fill="#6eaace" opacity="0.5"/><circle cx="481.8" cy="301.4" r="0.8" fill="#6eaace" opacity="0.5"/><circle cx="481.8" cy="304.6" r="0.8" fill="#6eaace" opacity="0.5"/><circle cx="478.7" cy="300.9" r="0.8" fill="#6eaace" opacity="0.5"/><circle cx="480.5" cy="307.1" r="0.8" fill="#6eaace" opacity="0.5"/><circle cx="479.7" cy="294.8" r="0.8" fill="#6eaace" opacity="0.5"/><circle cx="480.0" cy="298.0" r="0.8" fill="#6eaace" opacity="0.5"/><circle cx="478.7" cy="296.6" r="0.8" fill="#6eaace" opacity="0.5"/><circle cx="479.4" cy="277.5" r="0.85" fill="#88b8d2" opacity="0.55"/><circle cx="479.0" cy="294.2" r="0.85" fill="#88b8d2" opacity="0.55"/><circle cx="479.2" cy="281.2" r="0.85" fill="#88b8d2" opacity="0.55"/><circle cx="480.6" cy="290.8" r="0.85" fill="#88b8d2" opacity="0.55"/><circle cx="479.2" cy="311.1" r="0.85" fill="#88b8d2" opacity="0.55"/><circle cx="480.6" cy="276.3" r="0.85" fill="#88b8d2" opacity="0.55"/><circle cx="481.6" cy="279.2" r="0.85" fill="#88b8d2" opacity="0.55"/><circle cx="479.1" cy="292.0" r="0.85" fill="#88b8d2" opacity="0.55"/><circle cx="480.8" cy="278.0" r="0.85" fill="#88b8d2" opacity="0.55"/><circle cx="481.4" cy="283.2" r="1.0" fill="#8aa8bc" opacity="0.75"/><line x1="485.25" x2="485.25" y1="288.90" y2="309.80" stroke="#a84070" stroke-width="0.45" opacity="0.4"/><rect x="483.30" y="299.35" width="3.9" height="4.75" fill="#bb5280" stroke="#a84070" stroke-width="0.4"/><line x1="483.30" x2="487.20" y1="302.20" y2="302.20" stroke="#a84070" stroke-width="0.5"/><circle cx="484.6" cy="303.1" r="0.8" fill="#983060" opacity="0.5"/><circle cx="485.8" cy="300.5" r="0.8" fill="#983060" opacity="0.5"/><circle cx="485.9" cy="302.2" r="0.8" fill="#983060" opacity="0.5"/><circle cx="483.7" cy="302.5" r="0.8" fill="#983060" opacity="0.5"/><circle cx="483.6" cy="302.1" r="0.8" fill="#983060" opacity="0.5"/><circle cx="484.7" cy="301.1" r="0.8" fill="#983060" opacity="0.5"/><circle cx="485.6" cy="301.8" r="0.8" fill="#983060" opacity="0.5"/><circle cx="485.1" cy="302.9" r="0.8" fill="#983060" opacity="0.5"/><circle cx="486.8" cy="304.0" r="0.8" fill="#983060" opacity="0.5"/><circle cx="487.0" cy="301.4" r="0.8" fill="#983060" opacity="0.5"/><circle cx="486.1" cy="292.9" r="0.85" fill="#b0607f" opacity="0.55"/><circle cx="484.0" cy="298.4" r="0.85" fill="#b0607f" opacity="0.55"/><circle cx="483.8" cy="291.3" r="0.85" fill="#b0607f" opacity="0.55"/><circle cx="485.4" cy="307.4" r="0.85" fill="#b0607f" opacity="0.55"/><circle cx="485.8" cy="293.6" r="0.85" fill="#b0607f" opacity="0.55"/><circle cx="486.1" cy="295.9" r="0.85" fill="#b0607f" opacity="0.55"/><circle cx="486.2" cy="291.9" r="0.85" fill="#b0607f" opacity="0.55"/><line x1="493.05" x2="493.05" y1="277.50" y2="313.60" stroke="#94c4dc" stroke-width="0.45" opacity="0.4"/><rect x="491.10" y="294.60" width="3.9" height="14.25" fill="#a6d0e4" stroke="#94c4dc" stroke-width="0.4"/><line x1="491.10" x2="495.00" y1="302.20" y2="302.20" stroke="#94c4dc" stroke-width="0.5"/><circle cx="492.4" cy="297.8" r="0.8" fill="#6eaace" opacity="0.5"/><circle cx="494.8" cy="297.8" r="0.8" fill="#6eaace" opacity="0.5"/><circle cx="492.3" cy="302.4" r="0.8" fill="#6eaace" opacity="0.5"/><circle cx="494.6" cy="301.4" r="0.8" fill="#6eaace" opacity="0.5"/><circle cx="491.3" cy="307.0" r="0.8" fill="#6eaace" opacity="0.5"/><circle cx="493.6" cy="302.1" r="0.8" fill="#6eaace" opacity="0.5"/><circle cx="492.6" cy="297.8" r="0.8" fill="#6eaace" opacity="0.5"/><circle cx="492.1" cy="294.7" r="0.8" fill="#6eaace" opacity="0.5"/><circle cx="491.6" cy="298.1" r="0.8" fill="#6eaace" opacity="0.5"/><circle cx="491.7" cy="308.5" r="0.8" fill="#6eaace" opacity="0.5"/><circle cx="493.1" cy="308.0" r="0.8" fill="#6eaace" opacity="0.5"/><circle cx="491.9" cy="300.9" r="0.8" fill="#6eaace" opacity="0.5"/><circle cx="492.6" cy="295.5" r="0.8" fill="#6eaace" opacity="0.5"/><circle cx="491.9" cy="306.7" r="0.8" fill="#6eaace" opacity="0.5"/><circle cx="494.6" cy="298.3" r="0.8" fill="#6eaace" opacity="0.5"/><circle cx="491.4" cy="306.5" r="0.8" fill="#6eaace" opacity="0.5"/><circle cx="492.1" cy="297.8" r="0.8" fill="#6eaace" opacity="0.5"/><circle cx="493.0" cy="294.9" r="0.8" fill="#6eaace" opacity="0.5"/><circle cx="492.5" cy="299.8" r="0.8" fill="#6eaace" opacity="0.5"/><circle cx="492.9" cy="297.4" r="0.8" fill="#6eaace" opacity="0.5"/><circle cx="491.6" cy="279.2" r="0.85" fill="#88b8d2" opacity="0.55"/><circle cx="493.6" cy="293.5" r="0.85" fill="#88b8d2" opacity="0.55"/><circle cx="491.5" cy="279.8" r="0.85" fill="#88b8d2" opacity="0.55"/><circle cx="494.6" cy="287.6" r="0.85" fill="#88b8d2" opacity="0.55"/><circle cx="492.1" cy="310.6" r="0.85" fill="#88b8d2" opacity="0.55"/><circle cx="492.8" cy="290.1" r="0.85" fill="#88b8d2" opacity="0.55"/><circle cx="494.0" cy="291.1" r="0.85" fill="#88b8d2" opacity="0.55"/><circle cx="494.8" cy="289.5" r="0.85" fill="#88b8d2" opacity="0.55"/><circle cx="491.8" cy="284.9" r="0.85" fill="#88b8d2" opacity="0.55"/><circle cx="494.1" cy="285.1" r="1.0" fill="#8aa8bc" opacity="0.75"/><line x1="498.05" x2="498.05" y1="294.60" y2="311.70" stroke="#a84070" stroke-width="0.45" opacity="0.4"/><rect x="496.10" y="306.00" width="3.9" height="2.85" fill="#bb5280" stroke="#a84070" stroke-width="0.4"/><line x1="496.10" x2="500.00" y1="307.90" y2="307.90" stroke="#a84070" stroke-width="0.5"/><circle cx="497.2" cy="306.4" r="0.8" fill="#983060" opacity="0.5"/><circle cx="499.2" cy="306.7" r="0.8" fill="#983060" opacity="0.5"/><circle cx="497.4" cy="308.0" r="0.8" fill="#983060" opacity="0.5"/><circle cx="499.5" cy="307.5" r="0.8" fill="#983060" opacity="0.5"/><circle cx="498.7" cy="308.4" r="0.8" fill="#983060" opacity="0.5"/><circle cx="497.9" cy="307.1" r="0.8" fill="#983060" opacity="0.5"/><circle cx="499.4" cy="307.2" r="0.8" fill="#983060" opacity="0.5"/><circle cx="499.4" cy="308.3" r="0.8" fill="#983060" opacity="0.5"/><circle cx="499.4" cy="297.1" r="0.85" fill="#b0607f" opacity="0.55"/><circle cx="499.8" cy="296.2" r="0.85" fill="#b0607f" opacity="0.55"/><circle cx="496.7" cy="305.7" r="0.85" fill="#b0607f" opacity="0.55"/><circle cx="499.5" cy="311.7" r="0.85" fill="#b0607f" opacity="0.55"/><circle cx="496.6" cy="297.6" r="0.85" fill="#b0607f" opacity="0.55"/><circle cx="496.6" cy="298.2" r="0.85" fill="#b0607f" opacity="0.55"/><circle cx="497.6" cy="297.5" r="1.0" fill="#a06282" opacity="0.75"/><text x="444.35" y="253.30" font-size="3.2" fill="#555" text-anchor="middle">p = 0.01</text><line x1="444.35" x2="444.35" y1="316.2" y2="317.59999999999997" stroke="#555" stroke-width="0.6"/><text transform="translate(447.65,320.20) rotate(-60)" font-size="6.3" fill="#333" stroke="#333" stroke-width="0.18" text-anchor="end">D28</text><line x1="457.15" x2="457.15" y1="316.2" y2="317.59999999999997" stroke="#555" stroke-width="0.6"/><text transform="translate(460.45,320.20) rotate(-60)" font-size="6.3" fill="#333" stroke="#333" stroke-width="0.18" text-anchor="end">D56</text><line x1="469.95" x2="469.95" y1="316.2" y2="317.59999999999997" stroke="#555" stroke-width="0.6"/><text transform="translate(473.25,320.20) rotate(-60)" font-size="6.3" fill="#333" stroke="#333" stroke-width="0.18" text-anchor="end">D90</text><line x1="482.75" x2="482.75" y1="316.2" y2="317.59999999999997" stroke="#555" stroke-width="0.6"/><text transform="translate(486.05,320.20) rotate(-60)" font-size="6.3" fill="#333" stroke="#333" stroke-width="0.18" text-anchor="end">D180</text><line x1="495.55" x2="495.55" y1="316.2" y2="317.59999999999997" stroke="#555" stroke-width="0.6"/><text transform="translate(498.85,320.20) rotate(-60)" font-size="6.3" fill="#333" stroke="#333" stroke-width="0.18" text-anchor="end">D360</text><rect x="44.5" y="336.2" width="66.0" height="7.4" fill="#f8c828"/><text x="77.50" y="343.00" font-size="7" font-weight="bold" fill="#000" text-anchor="middle">7</text><rect x="44.5" y="345.3" width="66.0" height="67.30" fill="#fff" stroke="#b8b8b8" stroke-width="0.8"/><line x1="42.9" x2="44.5" y1="410.10" y2="410.10" stroke="#555" stroke-width="0.6"/><text x="42.20" y="412.30" font-size="6.4" fill="#3a3a3a" text-anchor="end">0</text><line x1="42.9" x2="44.5" y1="390.70" y2="390.70" stroke="#555" stroke-width="0.6"/><text x="42.20" y="392.90" font-size="6.4" fill="#3a3a3a" text-anchor="end">20</text><line x1="42.9" x2="44.5" y1="371.30" y2="371.30" stroke="#555" stroke-width="0.6"/><text x="42.20" y="373.50" font-size="6.4" fill="#3a3a3a" text-anchor="end">40</text><line x1="42.9" x2="44.5" y1="351.90" y2="351.90" stroke="#555" stroke-width="0.6"/><text x="42.20" y="354.10" font-size="6.4" fill="#3a3a3a" text-anchor="end">60</text><line x1="49.60" x2="49.60" y1="381.00" y2="410.10" stroke="#94c4dc" stroke-width="0.45" opacity="0.4"/><rect x="47.65" y="396.52" width="3.9" height="11.64" fill="#a6d0e4" stroke="#94c4dc" stroke-width="0.4"/><line x1="47.65" x2="51.55" y1="402.34" y2="402.34" stroke="#94c4dc" stroke-width="0.5"/><circle cx="50.4" cy="397.5" r="0.8" fill="#6eaace" opacity="0.5"/><circle cx="51.3" cy="397.9" r="0.8" fill="#6eaace" opacity="0.5"/><circle cx="48.6" cy="407.8" r="0.8" fill="#6eaace" opacity="0.5"/><circle cx="50.3" cy="398.9" r="0.8" fill="#6eaace" opacity="0.5"/><circle cx="49.6" cy="407.7" r="0.8" fill="#6eaace" opacity="0.5"/><circle cx="49.3" cy="405.5" r="0.8" fill="#6eaace" opacity="0.5"/><circle cx="47.9" cy="406.9" r="0.8" fill="#6eaace" opacity="0.5"/><circle cx="48.9" cy="396.6" r="0.8" fill="#6eaace" opacity="0.5"/><circle cx="48.2" cy="397.9" r="0.8" fill="#6eaace" opacity="0.5"/><circle cx="48.3" cy="402.5" r="0.8" fill="#6eaace" opacity="0.5"/><circle cx="48.4" cy="403.2" r="0.8" fill="#6eaace" opacity="0.5"/><circle cx="48.3" cy="400.2" r="0.8" fill="#6eaace" opacity="0.5"/><circle cx="49.6" cy="399.6" r="0.8" fill="#6eaace" opacity="0.5"/><circle cx="49.1" cy="406.9" r="0.8" fill="#6eaace" opacity="0.5"/><circle cx="51.1" cy="402.4" r="0.8" fill="#6eaace" opacity="0.5"/><circle cx="48.6" cy="404.1" r="0.8" fill="#6eaace" opacity="0.5"/><circle cx="51.0" cy="396.9" r="0.8" fill="#6eaace" opacity="0.5"/><circle cx="48.8" cy="399.6" r="0.8" fill="#6eaace" opacity="0.5"/><circle cx="48.0" cy="392.4" r="0.85" fill="#88b8d2" opacity="0.55"/><circle cx="49.3" cy="388.6" r="0.85" fill="#88b8d2" opacity="0.55"/><circle cx="47.8" cy="390.9" r="0.85" fill="#88b8d2" opacity="0.55"/><circle cx="49.8" cy="386.4" r="0.85" fill="#88b8d2" opacity="0.55"/><circle cx="51.3" cy="385.8" r="0.85" fill="#88b8d2" opacity="0.55"/><circle cx="49.2" cy="385.4" r="0.85" fill="#88b8d2" opacity="0.55"/><circle cx="51.3" cy="390.0" r="0.85" fill="#88b8d2" opacity="0.55"/><circle cx="49.3" cy="390.5" r="0.85" fill="#88b8d2" opacity="0.55"/><circle cx="48.6" cy="366.5" r="1.0" fill="#8aa8bc" opacity="0.75"/><circle cx="51.0" cy="371.3" r="1.0" fill="#8aa8bc" opacity="0.75"/><circle cx="48.2" cy="378.1" r="1.0" fill="#8aa8bc" opacity="0.75"/><line x1="54.60" x2="54.60" y1="400.40" y2="410.10" stroke="#a84070" stroke-width="0.45" opacity="0.4"/><rect x="52.65" y="405.25" width="3.9" height="3.88" fill="#bb5280" stroke="#a84070" stroke-width="0.4"/><line x1="52.65" x2="56.55" y1="407.19" y2="407.19" stroke="#a84070" stroke-width="0.5"/><circle cx="56.1" cy="406.8" r="0.8" fill="#983060" opacity="0.5"/><circle cx="55.0" cy="408.1" r="0.8" fill="#983060" opacity="0.5"/><circle cx="53.7" cy="407.7" r="0.8" fill="#983060" opacity="0.5"/><circle cx="53.2" cy="408.4" r="0.8" fill="#983060" opacity="0.5"/><circle cx="55.6" cy="405.9" r="0.8" fill="#983060" opacity="0.5"/><circle cx="53.0" cy="405.6" r="0.8" fill="#983060" opacity="0.5"/><circle cx="54.0" cy="406.4" r="0.8" fill="#983060" opacity="0.5"/><circle cx="54.8" cy="406.6" r="0.8" fill="#983060" opacity="0.5"/><circle cx="56.3" cy="407.9" r="0.8" fill="#983060" opacity="0.5"/><circle cx="55.9" cy="401.6" r="0.85" fill="#b0607f" opacity="0.55"/><circle cx="56.4" cy="402.4" r="0.85" fill="#b0607f" opacity="0.55"/><circle cx="55.5" cy="402.2" r="0.85" fill="#b0607f" opacity="0.55"/><circle cx="54.2" cy="401.8" r="0.85" fill="#b0607f" opacity="0.55"/><line x1="62.40" x2="62.40" y1="366.45" y2="410.10" stroke="#94c4dc" stroke-width="0.45" opacity="0.4"/><rect x="60.45" y="386.82" width="3.9" height="20.37" fill="#a6d0e4" stroke="#94c4dc" stroke-width="0.4"/><line x1="60.45" x2="64.35" y1="398.46" y2="398.46" stroke="#94c4dc" stroke-width="0.5"/><circle cx="62.8" cy="396.5" r="0.8" fill="#6eaace" opacity="0.5"/><circle cx="61.8" cy="393.4" r="0.8" fill="#6eaace" opacity="0.5"/><circle cx="62.6" cy="394.4" r="0.8" fill="#6eaace" opacity="0.5"/><circle cx="62.8" cy="402.6" r="0.8" fill="#6eaace" opacity="0.5"/><circle cx="63.9" cy="401.8" r="0.8" fill="#6eaace" opacity="0.5"/><circle cx="63.2" cy="397.5" r="0.8" fill="#6eaace" opacity="0.5"/><circle cx="62.3" cy="396.6" r="0.8" fill="#6eaace" opacity="0.5"/><circle cx="61.1" cy="402.7" r="0.8" fill="#6eaace" opacity="0.5"/><circle cx="62.5" cy="388.3" r="0.8" fill="#6eaace" opacity="0.5"/><circle cx="62.5" cy="396.5" r="0.8" fill="#6eaace" opacity="0.5"/><circle cx="61.5" cy="390.6" r="0.8" fill="#6eaace" opacity="0.5"/><circle cx="63.6" cy="403.7" r="0.8" fill="#6eaace" opacity="0.5"/><circle cx="62.9" cy="397.8" r="0.8" fill="#6eaace" opacity="0.5"/><circle cx="63.8" cy="390.3" r="0.8" fill="#6eaace" opacity="0.5"/><circle cx="60.8" cy="389.5" r="0.8" fill="#6eaace" opacity="0.5"/><circle cx="63.6" cy="399.4" r="0.8" fill="#6eaace" opacity="0.5"/><circle cx="61.0" cy="390.5" r="0.8" fill="#6eaace" opacity="0.5"/><circle cx="61.5" cy="404.1" r="0.8" fill="#6eaace" opacity="0.5"/><circle cx="61.9" cy="405.1" r="0.8" fill="#6eaace" opacity="0.5"/><circle cx="62.5" cy="390.8" r="0.8" fill="#6eaace" opacity="0.5"/><circle cx="60.9" cy="398.0" r="0.8" fill="#6eaace" opacity="0.5"/><circle cx="64.2" cy="399.1" r="0.8" fill="#6eaace" opacity="0.5"/><circle cx="62.2" cy="393.0" r="0.8" fill="#6eaace" opacity="0.5"/><circle cx="63.5" cy="397.4" r="0.8" fill="#6eaace" opacity="0.5"/><circle cx="61.1" cy="391.7" r="0.8" fill="#6eaace" opacity="0.5"/><circle cx="61.9" cy="393.3" r="0.8" fill="#6eaace" opacity="0.5"/><circle cx="61.9" cy="382.0" r="0.85" fill="#88b8d2" opacity="0.55"/><circle cx="60.7" cy="379.1" r="0.85" fill="#88b8d2" opacity="0.55"/><circle cx="60.8" cy="375.2" r="0.85" fill="#88b8d2" opacity="0.55"/><circle cx="61.6" cy="372.2" r="0.85" fill="#88b8d2" opacity="0.55"/><circle cx="63.6" cy="381.9" r="0.85" fill="#88b8d2" opacity="0.55"/><circle cx="63.7" cy="373.9" r="0.85" fill="#88b8d2" opacity="0.55"/><circle cx="63.5" cy="378.2" r="0.85" fill="#88b8d2" opacity="0.55"/><circle cx="60.8" cy="379.3" r="0.85" fill="#88b8d2" opacity="0.55"/><circle cx="63.2" cy="379.3" r="0.85" fill="#88b8d2" opacity="0.55"/><circle cx="62.9" cy="378.5" r="0.85" fill="#88b8d2" opacity="0.55"/><circle cx="63.3" cy="355.8" r="1.0" fill="#8aa8bc" opacity="0.75"/><circle cx="62.0" cy="359.7" r="1.0" fill="#8aa8bc" opacity="0.75"/><line x1="67.40" x2="67.40" y1="399.43" y2="410.10" stroke="#a84070" stroke-width="0.45" opacity="0.4"/><rect x="65.45" y="401.37" width="3.9" height="7.76" fill="#bb5280" stroke="#a84070" stroke-width="0.4"/><line x1="65.45" x2="69.35" y1="405.25" y2="405.25" stroke="#a84070" stroke-width="0.5"/><circle cx="67.7" cy="406.1" r="0.8" fill="#983060" opacity="0.5"/><circle cx="66.3" cy="402.0" r="0.8" fill="#983060" opacity="0.5"/><circle cx="68.2" cy="401.6" r="0.8" fill="#983060" opacity="0.5"/><circle cx="68.0" cy="406.2" r="0.8" fill="#983060" opacity="0.5"/><circle cx="65.9" cy="406.6" r="0.8" fill="#983060" opacity="0.5"/><circle cx="67.0" cy="403.3" r="0.8" fill="#983060" opacity="0.5"/><circle cx="67.4" cy="405.0" r="0.8" fill="#983060" opacity="0.5"/><circle cx="68.3" cy="402.1" r="0.8" fill="#983060" opacity="0.5"/><circle cx="67.7" cy="408.9" r="0.8" fill="#983060" opacity="0.5"/><circle cx="67.3" cy="405.5" r="0.8" fill="#983060" opacity="0.5"/><circle cx="67.1" cy="402.6" r="0.8" fill="#983060" opacity="0.5"/><circle cx="68.8" cy="405.5" r="0.8" fill="#983060" opacity="0.5"/><circle cx="67.4" cy="400.4" r="0.85" fill="#b0607f" opacity="0.55"/><circle cx="68.3" cy="409.4" r="0.85" fill="#b0607f" opacity="0.55"/><circle cx="68.0" cy="401.3" r="0.85" fill="#b0607f" opacity="0.55"/><circle cx="67.6" cy="380.0" r="1.0" fill="#a06282" opacity="0.75"/><line x1="75.20" x2="75.20" y1="366.45" y2="410.10" stroke="#94c4dc" stroke-width="0.45" opacity="0.4"/><rect x="73.25" y="388.76" width="3.9" height="19.40" fill="#a6d0e4" stroke="#94c4dc" stroke-width="0.4"/><line x1="73.25" x2="77.15" y1="398.46" y2="398.46" stroke="#94c4dc" stroke-width="0.5"/><circle cx="76.2" cy="393.2" r="0.8" fill="#6eaace" opacity="0.5"/><circle cx="74.2" cy="405.9" r="0.8" fill="#6eaace" opacity="0.5"/><circle cx="76.3" cy="406.7" r="0.8" fill="#6eaace" opacity="0.5"/><circle cx="73.7" cy="406.2" r="0.8" fill="#6eaace" opacity="0.5"/><circle cx="75.4" cy="393.5" r="0.8" fill="#6eaace" opacity="0.5"/><circle cx="75.9" cy="407.1" r="0.8" fill="#6eaace" opacity="0.5"/><circle cx="75.1" cy="394.4" r="0.8" fill="#6eaace" opacity="0.5"/><circle cx="75.9" cy="407.1" r="0.8" fill="#6eaace" opacity="0.5"/><circle cx="75.5" cy="400.1" r="0.8" fill="#6eaace" opacity="0.5"/><circle cx="76.3" cy="388.8" r="0.8" fill="#6eaace" opacity="0.5"/><circle cx="73.9" cy="391.2" r="0.8" fill="#6eaace" opacity="0.5"/><circle cx="75.3" cy="401.7" r="0.8" fill="#6eaace" opacity="0.5"/><circle cx="77.0" cy="408.0" r="0.8" fill="#6eaace" opacity="0.5"/><circle cx="74.3" cy="402.8" r="0.8" fill="#6eaace" opacity="0.5"/><circle cx="74.3" cy="402.1" r="0.8" fill="#6eaace" opacity="0.5"/><circle cx="75.4" cy="391.5" r="0.8" fill="#6eaace" opacity="0.5"/><circle cx="74.9" cy="398.2" r="0.8" fill="#6eaace" opacity="0.5"/><circle cx="74.5" cy="407.2" r="0.8" fill="#6eaace" opacity="0.5"/><circle cx="76.3" cy="391.3" r="0.8" fill="#6eaace" opacity="0.5"/><circle cx="74.3" cy="391.5" r="0.8" fill="#6eaace" opacity="0.5"/><circle cx="73.6" cy="404.2" r="0.8" fill="#6eaace" opacity="0.5"/><circle cx="74.7" cy="397.7" r="0.8" fill="#6eaace" opacity="0.5"/><circle cx="75.2" cy="399.2" r="0.8" fill="#6eaace" opacity="0.5"/><circle cx="74.7" cy="396.8" r="0.8" fill="#6eaace" opacity="0.5"/><circle cx="74.1" cy="392.6" r="0.8" fill="#6eaace" opacity="0.5"/><circle cx="73.6" cy="376.4" r="0.85" fill="#88b8d2" opacity="0.55"/><circle cx="74.9" cy="376.9" r="0.85" fill="#88b8d2" opacity="0.55"/><circle cx="74.4" cy="381.5" r="0.85" fill="#88b8d2" opacity="0.55"/><circle cx="76.0" cy="382.3" r="0.85" fill="#88b8d2" opacity="0.55"/><circle cx="75.0" cy="375.6" r="0.85" fill="#88b8d2" opacity="0.55"/><circle cx="76.6" cy="409.2" r="0.85" fill="#88b8d2" opacity="0.55"/><circle cx="75.7" cy="379.1" r="0.85" fill="#88b8d2" opacity="0.55"/><circle cx="73.7" cy="369.5" r="0.85" fill="#88b8d2" opacity="0.55"/><circle cx="76.7" cy="384.7" r="0.85" fill="#88b8d2" opacity="0.55"/><circle cx="75.2" cy="370.9" r="0.85" fill="#88b8d2" opacity="0.55"/><circle cx="75.7" cy="355.8" r="1.0" fill="#8aa8bc" opacity="0.75"/><circle cx="75.7" cy="371.3" r="1.0" fill="#8aa8bc" opacity="0.75"/><line x1="80.20" x2="80.20" y1="394.58" y2="410.10" stroke="#a84070" stroke-width="0.45" opacity="0.4"/><rect x="78.25" y="402.34" width="3.9" height="6.79" fill="#bb5280" stroke="#a84070" stroke-width="0.4"/><line x1="78.25" x2="82.15" y1="406.22" y2="406.22" stroke="#a84070" stroke-width="0.5"/><circle cx="79.2" cy="407.1" r="0.8" fill="#983060" opacity="0.5"/><circle cx="78.9" cy="403.4" r="0.8" fill="#983060" opacity="0.5"/><circle cx="79.1" cy="402.9" r="0.8" fill="#983060" opacity="0.5"/><circle cx="78.7" cy="408.4" r="0.8" fill="#983060" opacity="0.5"/><circle cx="81.8" cy="403.8" r="0.8" fill="#983060" opacity="0.5"/><circle cx="80.8" cy="406.3" r="0.8" fill="#983060" opacity="0.5"/><circle cx="81.7" cy="407.4" r="0.8" fill="#983060" opacity="0.5"/><circle cx="79.0" cy="404.5" r="0.8" fill="#983060" opacity="0.5"/><circle cx="80.9" cy="408.7" r="0.8" fill="#983060" opacity="0.5"/><circle cx="81.4" cy="408.8" r="0.8" fill="#983060" opacity="0.5"/><circle cx="79.2" cy="407.1" r="0.8" fill="#983060" opacity="0.5"/><circle cx="79.5" cy="405.2" r="0.8" fill="#983060" opacity="0.5"/><circle cx="81.7" cy="401.1" r="0.85" fill="#b0607f" opacity="0.55"/><circle cx="78.9" cy="395.8" r="0.85" fill="#b0607f" opacity="0.55"/><circle cx="79.8" cy="394.7" r="0.85" fill="#b0607f" opacity="0.55"/><circle cx="80.7" cy="399.4" r="0.85" fill="#b0607f" opacity="0.55"/><circle cx="78.7" cy="398.1" r="0.85" fill="#b0607f" opacity="0.55"/><circle cx="80.1" cy="384.9" r="1.0" fill="#a06282" opacity="0.75"/><line x1="88.00" x2="88.00" y1="366.45" y2="410.10" stroke="#94c4dc" stroke-width="0.45" opacity="0.4"/><rect x="86.05" y="391.67" width="3.9" height="16.49" fill="#a6d0e4" stroke="#94c4dc" stroke-width="0.4"/><line x1="86.05" x2="89.95" y1="400.40" y2="400.40" stroke="#94c4dc" stroke-width="0.5"/><circle cx="87.7" cy="396.2" r="0.8" fill="#6eaace" opacity="0.5"/><circle cx="86.6" cy="397.0" r="0.8" fill="#6eaace" opacity="0.5"/><circle cx="86.6" cy="394.5" r="0.8" fill="#6eaace" opacity="0.5"/><circle cx="89.8" cy="392.9" r="0.8" fill="#6eaace" opacity="0.5"/><circle cx="88.1" cy="392.7" r="0.8" fill="#6eaace" opacity="0.5"/><circle cx="87.5" cy="403.4" r="0.8" fill="#6eaace" opacity="0.5"/><circle cx="88.0" cy="395.8" r="0.8" fill="#6eaace" opacity="0.5"/><circle cx="86.5" cy="392.8" r="0.8" fill="#6eaace" opacity="0.5"/><circle cx="89.3" cy="400.2" r="0.8" fill="#6eaace" opacity="0.5"/><circle cx="88.1" cy="398.3" r="0.8" fill="#6eaace" opacity="0.5"/><circle cx="86.7" cy="406.7" r="0.8" fill="#6eaace" opacity="0.5"/><circle cx="89.4" cy="403.7" r="0.8" fill="#6eaace" opacity="0.5"/><circle cx="87.0" cy="394.2" r="0.8" fill="#6eaace" opacity="0.5"/><circle cx="86.3" cy="392.9" r="0.8" fill="#6eaace" opacity="0.5"/><circle cx="89.7" cy="398.3" r="0.8" fill="#6eaace" opacity="0.5"/><circle cx="89.6" cy="402.5" r="0.8" fill="#6eaace" opacity="0.5"/><circle cx="86.4" cy="397.3" r="0.8" fill="#6eaace" opacity="0.5"/><circle cx="87.8" cy="402.7" r="0.8" fill="#6eaace" opacity="0.5"/><circle cx="88.9" cy="404.1" r="0.8" fill="#6eaace" opacity="0.5"/><circle cx="89.0" cy="405.2" r="0.8" fill="#6eaace" opacity="0.5"/><circle cx="86.4" cy="403.2" r="0.8" fill="#6eaace" opacity="0.5"/><circle cx="86.5" cy="398.9" r="0.8" fill="#6eaace" opacity="0.5"/><circle cx="88.3" cy="371.8" r="0.85" fill="#88b8d2" opacity="0.55"/><circle cx="88.0" cy="390.8" r="0.85" fill="#88b8d2" opacity="0.55"/><circle cx="86.7" cy="375.4" r="0.85" fill="#88b8d2" opacity="0.55"/><circle cx="87.5" cy="382.8" r="0.85" fill="#88b8d2" opacity="0.55"/><circle cx="86.8" cy="387.5" r="0.85" fill="#88b8d2" opacity="0.55"/><circle cx="89.2" cy="409.5" r="0.85" fill="#88b8d2" opacity="0.55"/><circle cx="86.7" cy="379.6" r="0.85" fill="#88b8d2" opacity="0.55"/><circle cx="86.6" cy="369.5" r="0.85" fill="#88b8d2" opacity="0.55"/><circle cx="86.6" cy="378.2" r="0.85" fill="#88b8d2" opacity="0.55"/><circle cx="88.1" cy="387.5" r="0.85" fill="#88b8d2" opacity="0.55"/><circle cx="86.9" cy="382.4" r="0.85" fill="#88b8d2" opacity="0.55"/><circle cx="87.7" cy="353.8" r="1.0" fill="#8aa8bc" opacity="0.75"/><circle cx="87.2" cy="363.5" r="1.0" fill="#8aa8bc" opacity="0.75"/><line x1="93.00" x2="93.00" y1="406.22" y2="409.13" stroke="#a84070" stroke-width="0.45" opacity="0.4"/><rect x="91.05" y="407.68" width="3.9" height="1.20" fill="#bb5280" stroke="#a84070" stroke-width="0.4"/><line x1="91.05" x2="94.95" y1="408.16" y2="408.16" stroke="#a84070" stroke-width="0.5"/><circle cx="92.1" cy="408.1" r="0.8" fill="#983060" opacity="0.5"/><circle cx="93.0" cy="407.7" r="0.8" fill="#983060" opacity="0.5"/><circle cx="91.3" cy="407.7" r="0.8" fill="#983060" opacity="0.5"/><circle cx="93.0" cy="407.7" r="0.8" fill="#983060" opacity="0.5"/><circle cx="93.3" cy="407.8" r="0.8" fill="#983060" opacity="0.5"/><circle cx="92.0" cy="407.8" r="0.8" fill="#983060" opacity="0.5"/><circle cx="92.2" cy="409.0" r="0.85" fill="#b0607f" opacity="0.55"/><circle cx="93.1" cy="407.1" r="0.85" fill="#b0607f" opacity="0.55"/><line x1="100.80" x2="100.80" y1="378.09" y2="410.10" stroke="#94c4dc" stroke-width="0.45" opacity="0.4"/><rect x="98.85" y="393.61" width="3.9" height="15.52" fill="#a6d0e4" stroke="#94c4dc" stroke-width="0.4"/><line x1="98.85" x2="102.75" y1="402.34" y2="402.34" stroke="#94c4dc" stroke-width="0.5"/><circle cx="102.2" cy="404.6" r="0.8" fill="#6eaace" opacity="0.5"/><circle cx="101.1" cy="407.8" r="0.8" fill="#6eaace" opacity="0.5"/><circle cx="101.1" cy="405.5" r="0.8" fill="#6eaace" opacity="0.5"/><circle cx="101.6" cy="397.0" r="0.8" fill="#6eaace" opacity="0.5"/><circle cx="99.9" cy="408.2" r="0.8" fill="#6eaace" opacity="0.5"/><circle cx="102.5" cy="399.8" r="0.8" fill="#6eaace" opacity="0.5"/><circle cx="101.2" cy="408.5" r="0.8" fill="#6eaace" opacity="0.5"/><circle cx="101.9" cy="398.4" r="0.8" fill="#6eaace" opacity="0.5"/><circle cx="101.9" cy="403.8" r="0.8" fill="#6eaace" opacity="0.5"/><circle cx="102.3" cy="402.0" r="0.8" fill="#6eaace" opacity="0.5"/><circle cx="102.4" cy="409.0" r="0.8" fill="#6eaace" opacity="0.5"/><circle cx="100.5" cy="402.7" r="0.8" fill="#6eaace" opacity="0.5"/><circle cx="99.9" cy="407.8" r="0.8" fill="#6eaace" opacity="0.5"/><circle cx="101.4" cy="397.7" r="0.8" fill="#6eaace" opacity="0.5"/><circle cx="100.2" cy="406.8" r="0.8" fill="#6eaace" opacity="0.5"/><circle cx="99.7" cy="407.0" r="0.8" fill="#6eaace" opacity="0.5"/><circle cx="100.2" cy="405.7" r="0.8" fill="#6eaace" opacity="0.5"/><circle cx="102.6" cy="394.0" r="0.8" fill="#6eaace" opacity="0.5"/><circle cx="100.7" cy="396.8" r="0.8" fill="#6eaace" opacity="0.5"/><circle cx="101.8" cy="401.4" r="0.8" fill="#6eaace" opacity="0.5"/><circle cx="101.7" cy="395.0" r="0.8" fill="#6eaace" opacity="0.5"/><circle cx="101.3" cy="390.5" r="0.85" fill="#88b8d2" opacity="0.55"/><circle cx="99.3" cy="381.4" r="0.85" fill="#88b8d2" opacity="0.55"/><circle cx="99.6" cy="388.2" r="0.85" fill="#88b8d2" opacity="0.55"/><circle cx="101.7" cy="409.4" r="0.85" fill="#88b8d2" opacity="0.55"/><circle cx="102.4" cy="380.8" r="0.85" fill="#88b8d2" opacity="0.55"/><circle cx="102.0" cy="382.0" r="0.85" fill="#88b8d2" opacity="0.55"/><circle cx="100.6" cy="384.4" r="0.85" fill="#88b8d2" opacity="0.55"/><circle cx="101.7" cy="371.3" r="1.0" fill="#8aa8bc" opacity="0.75"/><line x1="105.80" x2="105.80" y1="405.25" y2="410.10" stroke="#a84070" stroke-width="0.45" opacity="0.4"/><rect x="103.85" y="406.22" width="3.9" height="2.91" fill="#bb5280" stroke="#a84070" stroke-width="0.4"/><line x1="103.85" x2="107.75" y1="407.19" y2="407.19" stroke="#a84070" stroke-width="0.5"/><circle cx="107.1" cy="406.8" r="0.8" fill="#983060" opacity="0.5"/><circle cx="107.5" cy="408.3" r="0.8" fill="#983060" opacity="0.5"/><circle cx="107.4" cy="407.6" r="0.8" fill="#983060" opacity="0.5"/><circle cx="107.5" cy="408.8" r="0.8" fill="#983060" opacity="0.5"/><circle cx="104.9" cy="406.8" r="0.8" fill="#983060" opacity="0.5"/><circle cx="104.8" cy="406.7" r="0.8" fill="#983060" opacity="0.5"/><circle cx="105.6" cy="408.6" r="0.8" fill="#983060" opacity="0.5"/><circle cx="105.8" cy="408.4" r="0.8" fill="#983060" opacity="0.5"/><circle cx="106.6" cy="409.4" r="0.85" fill="#b0607f" opacity="0.55"/><circle cx="106.9" cy="405.5" r="0.85" fill="#b0607f" opacity="0.55"/><text x="52.10" y="350.00" font-size="3.2" fill="#555" text-anchor="middle">p = 0.01</text><text x="64.90" y="350.00" font-size="3.2" fill="#555" text-anchor="middle">p = 0.01</text><text x="77.70" y="350.00" font-size="3.2" fill="#555" text-anchor="middle">p = 0.01</text><text x="90.50" y="350.00" font-size="3.2" fill="#555" text-anchor="middle">p = 0.01</text><text x="103.30" y="350.00" font-size="3.2" fill="#555" text-anchor="middle">p = 0.01</text><line x1="52.10" x2="52.10" y1="412.6" y2="414.0" stroke="#555" stroke-width="0.6"/><text transform="translate(55.40,416.60) rotate(-60)" font-size="6.3" fill="#333" stroke="#333" stroke-width="0.18" text-anchor="end">D28</text><line x1="64.90" x2="64.90" y1="412.6" y2="414.0" stroke="#555" stroke-width="0.6"/><text transform="translate(68.20,416.60) rotate(-60)" font-size="6.3" fill="#333" stroke="#333" stroke-width="0.18" text-anchor="end">D56</text><line x1="77.70" x2="77.70" y1="412.6" y2="414.0" stroke="#555" stroke-width="0.6"/><text transform="translate(81.00,416.60) rotate(-60)" font-size="6.3" fill="#333" stroke="#333" stroke-width="0.18" text-anchor="end">D90</text><line x1="90.50" x2="90.50" y1="412.6" y2="414.0" stroke="#555" stroke-width="0.6"/><text transform="translate(93.80,416.60) rotate(-60)" font-size="6.3" fill="#333" stroke="#333" stroke-width="0.18" text-anchor="end">D180</text><line x1="103.30" x2="103.30" y1="412.6" y2="414.0" stroke="#555" stroke-width="0.6"/><text transform="translate(106.60,416.60) rotate(-60)" font-size="6.3" fill="#333" stroke="#333" stroke-width="0.18" text-anchor="end">D360</text><rect x="122.95" y="336.2" width="66.0" height="7.4" fill="#f09222"/><text x="155.95" y="343.00" font-size="7" font-weight="bold" fill="#000" text-anchor="middle">8</text><rect x="122.95" y="345.3" width="66.0" height="67.30" fill="#fff" stroke="#b8b8b8" stroke-width="0.8"/><line x1="121.35000000000001" x2="122.95" y1="410.00" y2="410.00" stroke="#555" stroke-width="0.6"/><text x="120.65" y="412.20" font-size="6.4" fill="#3a3a3a" text-anchor="end">0</text><line x1="121.35000000000001" x2="122.95" y1="397.54" y2="397.54" stroke="#555" stroke-width="0.6"/><text x="120.65" y="399.74" font-size="6.4" fill="#3a3a3a" text-anchor="end">10</text><line x1="121.35000000000001" x2="122.95" y1="385.08" y2="385.08" stroke="#555" stroke-width="0.6"/><text x="120.65" y="387.28" font-size="6.4" fill="#3a3a3a" text-anchor="end">20</text><line x1="121.35000000000001" x2="122.95" y1="372.62" y2="372.62" stroke="#555" stroke-width="0.6"/><text x="120.65" y="374.82" font-size="6.4" fill="#3a3a3a" text-anchor="end">30</text><line x1="121.35000000000001" x2="122.95" y1="360.16" y2="360.16" stroke="#555" stroke-width="0.6"/><text x="120.65" y="362.36" font-size="6.4" fill="#3a3a3a" text-anchor="end">40</text><line x1="121.35000000000001" x2="122.95" y1="347.70" y2="347.70" stroke="#555" stroke-width="0.6"/><text x="120.65" y="349.90" font-size="6.4" fill="#3a3a3a" text-anchor="end">50</text><line x1="128.05" x2="128.05" y1="360.16" y2="410.00" stroke="#94c4dc" stroke-width="0.45" opacity="0.4"/><rect x="126.10" y="387.57" width="3.9" height="22.43" fill="#a6d0e4" stroke="#94c4dc" stroke-width="0.4"/><line x1="126.10" x2="130.00" y1="402.52" y2="402.52" stroke="#94c4dc" stroke-width="0.5"/><circle cx="129.6" cy="394.7" r="0.8" fill="#6eaace" opacity="0.5"/><circle cx="127.7" cy="391.5" r="0.8" fill="#6eaace" opacity="0.5"/><circle cx="128.6" cy="408.0" r="0.8" fill="#6eaace" opacity="0.5"/><circle cx="127.5" cy="391.2" r="0.8" fill="#6eaace" opacity="0.5"/><circle cx="129.3" cy="396.7" r="0.8" fill="#6eaace" opacity="0.5"/><circle cx="126.3" cy="392.2" r="0.8" fill="#6eaace" opacity="0.5"/><circle cx="126.3" cy="399.0" r="0.8" fill="#6eaace" opacity="0.5"/><circle cx="129.2" cy="407.5" r="0.8" fill="#6eaace" opacity="0.5"/><circle cx="128.4" cy="400.6" r="0.8" fill="#6eaace" opacity="0.5"/><circle cx="127.5" cy="399.7" r="0.8" fill="#6eaace" opacity="0.5"/><circle cx="127.5" cy="405.2" r="0.8" fill="#6eaace" opacity="0.5"/><circle cx="128.5" cy="391.1" r="0.8" fill="#6eaace" opacity="0.5"/><circle cx="126.6" cy="403.4" r="0.8" fill="#6eaace" opacity="0.5"/><circle cx="128.8" cy="403.9" r="0.8" fill="#6eaace" opacity="0.5"/><circle cx="128.6" cy="400.1" r="0.8" fill="#6eaace" opacity="0.5"/><circle cx="126.7" cy="391.9" r="0.8" fill="#6eaace" opacity="0.5"/><circle cx="126.4" cy="394.7" r="0.8" fill="#6eaace" opacity="0.5"/><circle cx="126.9" cy="391.5" r="0.8" fill="#6eaace" opacity="0.5"/><circle cx="129.7" cy="403.9" r="0.8" fill="#6eaace" opacity="0.5"/><circle cx="127.1" cy="401.9" r="0.8" fill="#6eaace" opacity="0.5"/><circle cx="128.4" cy="390.0" r="0.8" fill="#6eaace" opacity="0.5"/><circle cx="127.7" cy="390.0" r="0.8" fill="#6eaace" opacity="0.5"/><circle cx="129.7" cy="398.8" r="0.8" fill="#6eaace" opacity="0.5"/><circle cx="129.8" cy="398.6" r="0.8" fill="#6eaace" opacity="0.5"/><circle cx="129.2" cy="405.8" r="0.8" fill="#6eaace" opacity="0.5"/><circle cx="128.1" cy="406.4" r="0.8" fill="#6eaace" opacity="0.5"/><circle cx="126.9" cy="410.0" r="0.8" fill="#6eaace" opacity="0.5"/><circle cx="127.9" cy="388.8" r="0.8" fill="#6eaace" opacity="0.5"/><circle cx="127.5" cy="380.7" r="0.85" fill="#88b8d2" opacity="0.55"/><circle cx="129.4" cy="372.4" r="0.85" fill="#88b8d2" opacity="0.55"/><circle cx="129.6" cy="377.2" r="0.85" fill="#88b8d2" opacity="0.55"/><circle cx="126.5" cy="369.3" r="0.85" fill="#88b8d2" opacity="0.55"/><circle cx="129.7" cy="375.4" r="0.85" fill="#88b8d2" opacity="0.55"/><circle cx="128.5" cy="369.4" r="0.85" fill="#88b8d2" opacity="0.55"/><circle cx="128.7" cy="373.3" r="0.85" fill="#88b8d2" opacity="0.55"/><circle cx="127.6" cy="373.9" r="0.85" fill="#88b8d2" opacity="0.55"/><circle cx="129.3" cy="386.0" r="0.85" fill="#88b8d2" opacity="0.55"/><circle cx="127.9" cy="372.3" r="0.85" fill="#88b8d2" opacity="0.55"/><circle cx="128.9" cy="363.1" r="0.85" fill="#88b8d2" opacity="0.55"/><circle cx="128.7" cy="350.2" r="1.0" fill="#8aa8bc" opacity="0.75"/><circle cx="126.7" cy="355.2" r="1.0" fill="#8aa8bc" opacity="0.75"/><line x1="133.05" x2="133.05" y1="397.54" y2="410.00" stroke="#a84070" stroke-width="0.45" opacity="0.4"/><rect x="131.10" y="403.77" width="3.9" height="4.98" fill="#bb5280" stroke="#a84070" stroke-width="0.4"/><line x1="131.10" x2="135.00" y1="406.26" y2="406.26" stroke="#a84070" stroke-width="0.5"/><circle cx="131.7" cy="407.1" r="0.8" fill="#983060" opacity="0.5"/><circle cx="134.5" cy="404.0" r="0.8" fill="#983060" opacity="0.5"/><circle cx="133.4" cy="408.0" r="0.8" fill="#983060" opacity="0.5"/><circle cx="131.4" cy="405.9" r="0.8" fill="#983060" opacity="0.5"/><circle cx="133.9" cy="406.8" r="0.8" fill="#983060" opacity="0.5"/><circle cx="132.3" cy="405.6" r="0.8" fill="#983060" opacity="0.5"/><circle cx="132.3" cy="405.0" r="0.8" fill="#983060" opacity="0.5"/><circle cx="132.8" cy="406.0" r="0.8" fill="#983060" opacity="0.5"/><circle cx="133.6" cy="403.9" r="0.8" fill="#983060" opacity="0.5"/><circle cx="133.7" cy="404.7" r="0.8" fill="#983060" opacity="0.5"/><circle cx="133.8" cy="397.8" r="0.85" fill="#b0607f" opacity="0.55"/><circle cx="131.8" cy="402.0" r="0.85" fill="#b0607f" opacity="0.55"/><circle cx="134.1" cy="398.6" r="0.85" fill="#b0607f" opacity="0.55"/><circle cx="133.1" cy="402.9" r="0.85" fill="#b0607f" opacity="0.55"/><circle cx="134.1" cy="401.3" r="1.0" fill="#a06282" opacity="0.75"/><line x1="140.85" x2="140.85" y1="355.18" y2="410.00" stroke="#94c4dc" stroke-width="0.45" opacity="0.4"/><rect x="138.90" y="383.83" width="3.9" height="26.17" fill="#a6d0e4" stroke="#94c4dc" stroke-width="0.4"/><line x1="138.90" x2="142.80" y1="400.03" y2="400.03" stroke="#94c4dc" stroke-width="0.5"/><circle cx="141.7" cy="405.8" r="0.8" fill="#6eaace" opacity="0.5"/><circle cx="140.2" cy="405.5" r="0.8" fill="#6eaace" opacity="0.5"/><circle cx="140.1" cy="408.6" r="0.8" fill="#6eaace" opacity="0.5"/><circle cx="142.5" cy="400.0" r="0.8" fill="#6eaace" opacity="0.5"/><circle cx="139.7" cy="384.8" r="0.8" fill="#6eaace" opacity="0.5"/><circle cx="142.4" cy="401.9" r="0.8" fill="#6eaace" opacity="0.5"/><circle cx="140.2" cy="404.8" r="0.8" fill="#6eaace" opacity="0.5"/><circle cx="139.4" cy="398.5" r="0.8" fill="#6eaace" opacity="0.5"/><circle cx="140.5" cy="403.2" r="0.8" fill="#6eaace" opacity="0.5"/><circle cx="142.5" cy="399.9" r="0.8" fill="#6eaace" opacity="0.5"/><circle cx="139.8" cy="403.0" r="0.8" fill="#6eaace" opacity="0.5"/><circle cx="140.7" cy="386.2" r="0.8" fill="#6eaace" opacity="0.5"/><circle cx="141.3" cy="388.1" r="0.8" fill="#6eaace" opacity="0.5"/><circle cx="140.2" cy="389.6" r="0.8" fill="#6eaace" opacity="0.5"/><circle cx="141.8" cy="406.0" r="0.8" fill="#6eaace" opacity="0.5"/><circle cx="141.1" cy="397.7" r="0.8" fill="#6eaace" opacity="0.5"/><circle cx="141.8" cy="392.5" r="0.8" fill="#6eaace" opacity="0.5"/><circle cx="140.4" cy="402.8" r="0.8" fill="#6eaace" opacity="0.5"/><circle cx="141.0" cy="386.0" r="0.8" fill="#6eaace" opacity="0.5"/><circle cx="141.3" cy="402.5" r="0.8" fill="#6eaace" opacity="0.5"/><circle cx="141.8" cy="403.2" r="0.8" fill="#6eaace" opacity="0.5"/><circle cx="142.0" cy="408.9" r="0.8" fill="#6eaace" opacity="0.5"/><circle cx="140.3" cy="395.2" r="0.8" fill="#6eaace" opacity="0.5"/><circle cx="140.0" cy="385.4" r="0.8" fill="#6eaace" opacity="0.5"/><circle cx="139.3" cy="403.6" r="0.8" fill="#6eaace" opacity="0.5"/><circle cx="141.8" cy="395.6" r="0.8" fill="#6eaace" opacity="0.5"/><circle cx="140.5" cy="392.3" r="0.8" fill="#6eaace" opacity="0.5"/><circle cx="139.5" cy="388.9" r="0.8" fill="#6eaace" opacity="0.5"/><circle cx="141.4" cy="402.0" r="0.8" fill="#6eaace" opacity="0.5"/><circle cx="141.3" cy="384.7" r="0.8" fill="#6eaace" opacity="0.5"/><circle cx="141.8" cy="391.9" r="0.8" fill="#6eaace" opacity="0.5"/><circle cx="141.7" cy="356.9" r="0.85" fill="#88b8d2" opacity="0.55"/><circle cx="142.0" cy="372.6" r="0.85" fill="#88b8d2" opacity="0.55"/><circle cx="142.2" cy="378.5" r="0.85" fill="#88b8d2" opacity="0.55"/><circle cx="141.5" cy="368.9" r="0.85" fill="#88b8d2" opacity="0.55"/><circle cx="140.3" cy="380.0" r="0.85" fill="#88b8d2" opacity="0.55"/><circle cx="140.9" cy="372.0" r="0.85" fill="#88b8d2" opacity="0.55"/><circle cx="141.1" cy="364.7" r="0.85" fill="#88b8d2" opacity="0.55"/><circle cx="140.0" cy="367.4" r="0.85" fill="#88b8d2" opacity="0.55"/><circle cx="142.1" cy="361.2" r="0.85" fill="#88b8d2" opacity="0.55"/><circle cx="141.8" cy="364.6" r="0.85" fill="#88b8d2" opacity="0.55"/><circle cx="142.3" cy="358.1" r="0.85" fill="#88b8d2" opacity="0.55"/><circle cx="141.4" cy="360.3" r="0.85" fill="#88b8d2" opacity="0.55"/><circle cx="141.9" cy="360.2" r="1.0" fill="#8aa8bc" opacity="0.75"/><circle cx="139.8" cy="362.7" r="1.0" fill="#8aa8bc" opacity="0.75"/><line x1="145.85" x2="145.85" y1="376.36" y2="410.00" stroke="#a84070" stroke-width="0.45" opacity="0.4"/><rect x="143.90" y="392.56" width="3.9" height="17.44" fill="#bb5280" stroke="#a84070" stroke-width="0.4"/><line x1="143.90" x2="147.80" y1="402.52" y2="402.52" stroke="#a84070" stroke-width="0.5"/><circle cx="146.6" cy="397.7" r="0.8" fill="#983060" opacity="0.5"/><circle cx="145.0" cy="399.3" r="0.8" fill="#983060" opacity="0.5"/><circle cx="146.2" cy="408.8" r="0.8" fill="#983060" opacity="0.5"/><circle cx="145.0" cy="395.6" r="0.8" fill="#983060" opacity="0.5"/><circle cx="144.9" cy="406.3" r="0.8" fill="#983060" opacity="0.5"/><circle cx="146.5" cy="408.4" r="0.8" fill="#983060" opacity="0.5"/><circle cx="146.9" cy="393.0" r="0.8" fill="#983060" opacity="0.5"/><circle cx="146.6" cy="403.7" r="0.8" fill="#983060" opacity="0.5"/><circle cx="147.1" cy="408.7" r="0.8" fill="#983060" opacity="0.5"/><circle cx="144.1" cy="404.3" r="0.8" fill="#983060" opacity="0.5"/><circle cx="144.5" cy="399.0" r="0.8" fill="#983060" opacity="0.5"/><circle cx="144.3" cy="405.2" r="0.8" fill="#983060" opacity="0.5"/><circle cx="146.0" cy="402.2" r="0.8" fill="#983060" opacity="0.5"/><circle cx="144.2" cy="395.9" r="0.8" fill="#983060" opacity="0.5"/><circle cx="144.4" cy="395.6" r="0.8" fill="#983060" opacity="0.5"/><circle cx="146.3" cy="406.1" r="0.8" fill="#983060" opacity="0.5"/><circle cx="145.2" cy="404.1" r="0.8" fill="#983060" opacity="0.5"/><circle cx="144.8" cy="400.1" r="0.8" fill="#983060" opacity="0.5"/><circle cx="144.8" cy="396.2" r="0.8" fill="#983060" opacity="0.5"/><circle cx="147.0" cy="395.4" r="0.8" fill="#983060" opacity="0.5"/><circle cx="144.2" cy="400.6" r="0.8" fill="#983060" opacity="0.5"/><circle cx="145.9" cy="392.1" r="0.85" fill="#b0607f" opacity="0.55"/><circle cx="146.3" cy="391.5" r="0.85" fill="#b0607f" opacity="0.55"/><circle cx="145.5" cy="383.1" r="0.85" fill="#b0607f" opacity="0.55"/><circle cx="144.9" cy="383.0" r="0.85" fill="#b0607f" opacity="0.55"/><circle cx="146.9" cy="376.4" r="0.85" fill="#b0607f" opacity="0.55"/><circle cx="147.6" cy="387.2" r="0.85" fill="#b0607f" opacity="0.55"/><circle cx="144.5" cy="384.8" r="0.85" fill="#b0607f" opacity="0.55"/><circle cx="145.7" cy="351.4" r="1.0" fill="#a06282" opacity="0.75"/><circle cx="146.4" cy="386.3" r="1.0" fill="#a06282" opacity="0.75"/><line x1="153.65" x2="153.65" y1="368.88" y2="410.00" stroke="#94c4dc" stroke-width="0.45" opacity="0.4"/><rect x="151.70" y="387.57" width="3.9" height="22.43" fill="#a6d0e4" stroke="#94c4dc" stroke-width="0.4"/><line x1="151.70" x2="155.60" y1="400.03" y2="400.03" stroke="#94c4dc" stroke-width="0.5"/><circle cx="153.5" cy="394.1" r="0.8" fill="#6eaace" opacity="0.5"/><circle cx="152.5" cy="402.3" r="0.8" fill="#6eaace" opacity="0.5"/><circle cx="152.9" cy="401.0" r="0.8" fill="#6eaace" opacity="0.5"/><circle cx="154.5" cy="405.6" r="0.8" fill="#6eaace" opacity="0.5"/><circle cx="153.4" cy="398.4" r="0.8" fill="#6eaace" opacity="0.5"/><circle cx="154.4" cy="405.6" r="0.8" fill="#6eaace" opacity="0.5"/><circle cx="152.8" cy="405.6" r="0.8" fill="#6eaace" opacity="0.5"/><circle cx="154.4" cy="397.4" r="0.8" fill="#6eaace" opacity="0.5"/><circle cx="154.5" cy="388.2" r="0.8" fill="#6eaace" opacity="0.5"/><circle cx="155.2" cy="388.7" r="0.8" fill="#6eaace" opacity="0.5"/><circle cx="154.4" cy="393.8" r="0.8" fill="#6eaace" opacity="0.5"/><circle cx="152.6" cy="408.6" r="0.8" fill="#6eaace" opacity="0.5"/><circle cx="155.0" cy="409.7" r="0.8" fill="#6eaace" opacity="0.5"/><circle cx="154.1" cy="393.8" r="0.8" fill="#6eaace" opacity="0.5"/><circle cx="153.1" cy="404.1" r="0.8" fill="#6eaace" opacity="0.5"/><circle cx="154.1" cy="406.3" r="0.8" fill="#6eaace" opacity="0.5"/><circle cx="153.0" cy="387.8" r="0.8" fill="#6eaace" opacity="0.5"/><circle cx="152.5" cy="409.0" r="0.8" fill="#6eaace" opacity="0.5"/><circle cx="155.1" cy="402.0" r="0.8" fill="#6eaace" opacity="0.5"/><circle cx="153.5" cy="392.0" r="0.8" fill="#6eaace" opacity="0.5"/><circle cx="152.2" cy="407.7" r="0.8" fill="#6eaace" opacity="0.5"/><circle cx="154.6" cy="406.5" r="0.8" fill="#6eaace" opacity="0.5"/><circle cx="155.4" cy="399.4" r="0.8" fill="#6eaace" opacity="0.5"/><circle cx="154.7" cy="389.6" r="0.8" fill="#6eaace" opacity="0.5"/><circle cx="154.8" cy="399.3" r="0.8" fill="#6eaace" opacity="0.5"/><circle cx="152.2" cy="407.1" r="0.8" fill="#6eaace" opacity="0.5"/><circle cx="153.7" cy="397.4" r="0.8" fill="#6eaace" opacity="0.5"/><circle cx="152.8" cy="405.3" r="0.8" fill="#6eaace" opacity="0.5"/><circle cx="154.4" cy="370.6" r="0.85" fill="#88b8d2" opacity="0.55"/><circle cx="153.4" cy="369.2" r="0.85" fill="#88b8d2" opacity="0.55"/><circle cx="154.8" cy="380.4" r="0.85" fill="#88b8d2" opacity="0.55"/><circle cx="151.9" cy="385.1" r="0.85" fill="#88b8d2" opacity="0.55"/><circle cx="153.2" cy="376.6" r="0.85" fill="#88b8d2" opacity="0.55"/><circle cx="154.7" cy="372.1" r="0.85" fill="#88b8d2" opacity="0.55"/><circle cx="155.1" cy="386.8" r="0.85" fill="#88b8d2" opacity="0.55"/><circle cx="153.0" cy="386.2" r="0.85" fill="#88b8d2" opacity="0.55"/><circle cx="154.0" cy="355.2" r="1.0" fill="#8aa8bc" opacity="0.75"/><line x1="158.65" x2="158.65" y1="382.59" y2="410.00" stroke="#a84070" stroke-width="0.45" opacity="0.4"/><rect x="156.70" y="397.54" width="3.9" height="11.21" fill="#bb5280" stroke="#a84070" stroke-width="0.4"/><line x1="156.70" x2="160.60" y1="403.77" y2="403.77" stroke="#a84070" stroke-width="0.5"/><circle cx="158.6" cy="398.8" r="0.8" fill="#983060" opacity="0.5"/><circle cx="157.6" cy="401.6" r="0.8" fill="#983060" opacity="0.5"/><circle cx="160.1" cy="406.0" r="0.8" fill="#983060" opacity="0.5"/><circle cx="157.2" cy="404.5" r="0.8" fill="#983060" opacity="0.5"/><circle cx="157.3" cy="402.1" r="0.8" fill="#983060" opacity="0.5"/><circle cx="158.5" cy="406.5" r="0.8" fill="#983060" opacity="0.5"/><circle cx="159.1" cy="402.2" r="0.8" fill="#983060" opacity="0.5"/><circle cx="158.4" cy="400.8" r="0.8" fill="#983060" opacity="0.5"/><circle cx="159.5" cy="408.0" r="0.8" fill="#983060" opacity="0.5"/><circle cx="158.5" cy="408.2" r="0.8" fill="#983060" opacity="0.5"/><circle cx="159.3" cy="404.3" r="0.8" fill="#983060" opacity="0.5"/><circle cx="157.7" cy="400.8" r="0.8" fill="#983060" opacity="0.5"/><circle cx="159.3" cy="401.5" r="0.8" fill="#983060" opacity="0.5"/><circle cx="157.4" cy="403.5" r="0.8" fill="#983060" opacity="0.5"/><circle cx="159.0" cy="398.6" r="0.8" fill="#983060" opacity="0.5"/><circle cx="157.7" cy="408.1" r="0.8" fill="#983060" opacity="0.5"/><circle cx="158.3" cy="409.7" r="0.85" fill="#b0607f" opacity="0.55"/><circle cx="159.1" cy="385.2" r="0.85" fill="#b0607f" opacity="0.55"/><circle cx="157.2" cy="397.0" r="0.85" fill="#b0607f" opacity="0.55"/><circle cx="157.0" cy="409.0" r="0.85" fill="#b0607f" opacity="0.55"/><circle cx="160.2" cy="393.9" r="0.85" fill="#b0607f" opacity="0.55"/><circle cx="160.2" cy="387.5" r="0.85" fill="#b0607f" opacity="0.55"/><circle cx="157.8" cy="383.8" r="0.85" fill="#b0607f" opacity="0.55"/><circle cx="157.7" cy="348.9" r="1.0" fill="#a06282" opacity="0.75"/><circle cx="157.3" cy="371.4" r="1.0" fill="#a06282" opacity="0.75"/><line x1="166.45" x2="166.45" y1="362.65" y2="410.00" stroke="#94c4dc" stroke-width="0.45" opacity="0.4"/><rect x="164.50" y="387.57" width="3.9" height="22.43" fill="#a6d0e4" stroke="#94c4dc" stroke-width="0.4"/><line x1="164.50" x2="168.40" y1="400.03" y2="400.03" stroke="#94c4dc" stroke-width="0.5"/><circle cx="165.0" cy="393.0" r="0.8" fill="#6eaace" opacity="0.5"/><circle cx="167.2" cy="388.2" r="0.8" fill="#6eaace" opacity="0.5"/><circle cx="167.6" cy="405.8" r="0.8" fill="#6eaace" opacity="0.5"/><circle cx="166.5" cy="406.3" r="0.8" fill="#6eaace" opacity="0.5"/><circle cx="167.5" cy="407.6" r="0.8" fill="#6eaace" opacity="0.5"/><circle cx="167.9" cy="390.0" r="0.8" fill="#6eaace" opacity="0.5"/><circle cx="167.7" cy="409.9" r="0.8" fill="#6eaace" opacity="0.5"/><circle cx="167.6" cy="397.5" r="0.8" fill="#6eaace" opacity="0.5"/><circle cx="166.9" cy="398.7" r="0.8" fill="#6eaace" opacity="0.5"/><circle cx="167.5" cy="396.7" r="0.8" fill="#6eaace" opacity="0.5"/><circle cx="164.8" cy="408.3" r="0.8" fill="#6eaace" opacity="0.5"/><circle cx="165.7" cy="397.8" r="0.8" fill="#6eaace" opacity="0.5"/><circle cx="164.7" cy="401.1" r="0.8" fill="#6eaace" opacity="0.5"/><circle cx="164.7" cy="393.3" r="0.8" fill="#6eaace" opacity="0.5"/><circle cx="167.6" cy="391.4" r="0.8" fill="#6eaace" opacity="0.5"/><circle cx="165.1" cy="399.7" r="0.8" fill="#6eaace" opacity="0.5"/><circle cx="165.4" cy="395.4" r="0.8" fill="#6eaace" opacity="0.5"/><circle cx="165.0" cy="400.4" r="0.8" fill="#6eaace" opacity="0.5"/><circle cx="166.6" cy="388.1" r="0.8" fill="#6eaace" opacity="0.5"/><circle cx="165.0" cy="402.1" r="0.8" fill="#6eaace" opacity="0.5"/><circle cx="167.7" cy="393.6" r="0.8" fill="#6eaace" opacity="0.5"/><circle cx="165.0" cy="391.0" r="0.8" fill="#6eaace" opacity="0.5"/><circle cx="165.7" cy="401.8" r="0.8" fill="#6eaace" opacity="0.5"/><circle cx="165.2" cy="392.9" r="0.8" fill="#6eaace" opacity="0.5"/><circle cx="168.2" cy="396.4" r="0.8" fill="#6eaace" opacity="0.5"/><circle cx="164.7" cy="392.8" r="0.8" fill="#6eaace" opacity="0.5"/><circle cx="165.1" cy="408.3" r="0.8" fill="#6eaace" opacity="0.5"/><circle cx="166.8" cy="394.5" r="0.8" fill="#6eaace" opacity="0.5"/><circle cx="166.1" cy="376.2" r="0.85" fill="#88b8d2" opacity="0.55"/><circle cx="167.9" cy="371.4" r="0.85" fill="#88b8d2" opacity="0.55"/><circle cx="167.9" cy="367.7" r="0.85" fill="#88b8d2" opacity="0.55"/><circle cx="164.8" cy="369.7" r="0.85" fill="#88b8d2" opacity="0.55"/><circle cx="166.2" cy="366.4" r="0.85" fill="#88b8d2" opacity="0.55"/><circle cx="168.0" cy="383.1" r="0.85" fill="#88b8d2" opacity="0.55"/><circle cx="165.6" cy="370.0" r="0.85" fill="#88b8d2" opacity="0.55"/><circle cx="165.8" cy="378.9" r="0.85" fill="#88b8d2" opacity="0.55"/><circle cx="168.2" cy="376.5" r="0.85" fill="#88b8d2" opacity="0.55"/><circle cx="167.4" cy="364.3" r="0.85" fill="#88b8d2" opacity="0.55"/><circle cx="167.4" cy="352.7" r="1.0" fill="#8aa8bc" opacity="0.75"/><line x1="171.45" x2="171.45" y1="390.06" y2="410.00" stroke="#a84070" stroke-width="0.45" opacity="0.4"/><rect x="169.50" y="402.52" width="3.9" height="6.23" fill="#bb5280" stroke="#a84070" stroke-width="0.4"/><line x1="169.50" x2="173.40" y1="406.26" y2="406.26" stroke="#a84070" stroke-width="0.5"/><circle cx="172.4" cy="402.6" r="0.8" fill="#983060" opacity="0.5"/><circle cx="170.5" cy="407.0" r="0.8" fill="#983060" opacity="0.5"/><circle cx="169.7" cy="406.2" r="0.8" fill="#983060" opacity="0.5"/><circle cx="172.8" cy="407.3" r="0.8" fill="#983060" opacity="0.5"/><circle cx="170.8" cy="403.0" r="0.8" fill="#983060" opacity="0.5"/><circle cx="172.4" cy="404.0" r="0.8" fill="#983060" opacity="0.5"/><circle cx="172.5" cy="403.2" r="0.8" fill="#983060" opacity="0.5"/><circle cx="170.0" cy="405.4" r="0.8" fill="#983060" opacity="0.5"/><circle cx="170.8" cy="403.6" r="0.8" fill="#983060" opacity="0.5"/><circle cx="171.0" cy="404.8" r="0.8" fill="#983060" opacity="0.5"/><circle cx="173.1" cy="405.4" r="0.8" fill="#983060" opacity="0.5"/><circle cx="172.0" cy="395.9" r="0.85" fill="#b0607f" opacity="0.55"/><circle cx="171.1" cy="390.8" r="0.85" fill="#b0607f" opacity="0.55"/><circle cx="173.1" cy="409.1" r="0.85" fill="#b0607f" opacity="0.55"/><circle cx="170.7" cy="399.9" r="0.85" fill="#b0607f" opacity="0.55"/><circle cx="170.6" cy="402.4" r="0.85" fill="#b0607f" opacity="0.55"/><circle cx="170.3" cy="390.2" r="0.85" fill="#b0607f" opacity="0.55"/><line x1="179.25" x2="179.25" y1="358.91" y2="410.00" stroke="#94c4dc" stroke-width="0.45" opacity="0.4"/><rect x="177.30" y="387.57" width="3.9" height="22.43" fill="#a6d0e4" stroke="#94c4dc" stroke-width="0.4"/><line x1="177.30" x2="181.20" y1="400.03" y2="400.03" stroke="#94c4dc" stroke-width="0.5"/><circle cx="179.9" cy="400.2" r="0.8" fill="#6eaace" opacity="0.5"/><circle cx="180.1" cy="394.5" r="0.8" fill="#6eaace" opacity="0.5"/><circle cx="178.3" cy="393.1" r="0.8" fill="#6eaace" opacity="0.5"/><circle cx="177.5" cy="404.2" r="0.8" fill="#6eaace" opacity="0.5"/><circle cx="178.2" cy="394.5" r="0.8" fill="#6eaace" opacity="0.5"/><circle cx="180.9" cy="404.2" r="0.8" fill="#6eaace" opacity="0.5"/><circle cx="179.6" cy="395.6" r="0.8" fill="#6eaace" opacity="0.5"/><circle cx="179.6" cy="395.3" r="0.8" fill="#6eaace" opacity="0.5"/><circle cx="178.5" cy="394.4" r="0.8" fill="#6eaace" opacity="0.5"/><circle cx="177.7" cy="408.6" r="0.8" fill="#6eaace" opacity="0.5"/><circle cx="178.8" cy="409.7" r="0.8" fill="#6eaace" opacity="0.5"/><circle cx="177.9" cy="406.8" r="0.8" fill="#6eaace" opacity="0.5"/><circle cx="180.9" cy="398.9" r="0.8" fill="#6eaace" opacity="0.5"/><circle cx="178.4" cy="394.6" r="0.8" fill="#6eaace" opacity="0.5"/><circle cx="178.1" cy="392.7" r="0.8" fill="#6eaace" opacity="0.5"/><circle cx="178.5" cy="407.8" r="0.8" fill="#6eaace" opacity="0.5"/><circle cx="179.9" cy="400.8" r="0.8" fill="#6eaace" opacity="0.5"/><circle cx="180.1" cy="400.0" r="0.8" fill="#6eaace" opacity="0.5"/><circle cx="180.8" cy="407.9" r="0.8" fill="#6eaace" opacity="0.5"/><circle cx="180.4" cy="402.3" r="0.8" fill="#6eaace" opacity="0.5"/><circle cx="180.4" cy="409.3" r="0.8" fill="#6eaace" opacity="0.5"/><circle cx="180.5" cy="404.9" r="0.8" fill="#6eaace" opacity="0.5"/><circle cx="179.9" cy="392.0" r="0.8" fill="#6eaace" opacity="0.5"/><circle cx="177.5" cy="403.8" r="0.8" fill="#6eaace" opacity="0.5"/><circle cx="180.7" cy="405.7" r="0.8" fill="#6eaace" opacity="0.5"/><circle cx="179.8" cy="406.5" r="0.8" fill="#6eaace" opacity="0.5"/><circle cx="179.8" cy="396.8" r="0.8" fill="#6eaace" opacity="0.5"/><circle cx="178.0" cy="405.9" r="0.8" fill="#6eaace" opacity="0.5"/><circle cx="178.8" cy="359.4" r="0.85" fill="#88b8d2" opacity="0.55"/><circle cx="178.3" cy="371.2" r="0.85" fill="#88b8d2" opacity="0.55"/><circle cx="180.5" cy="387.1" r="0.85" fill="#88b8d2" opacity="0.55"/><circle cx="178.8" cy="360.0" r="0.85" fill="#88b8d2" opacity="0.55"/><circle cx="180.3" cy="383.6" r="0.85" fill="#88b8d2" opacity="0.55"/><circle cx="179.3" cy="377.1" r="0.85" fill="#88b8d2" opacity="0.55"/><circle cx="180.3" cy="380.5" r="0.85" fill="#88b8d2" opacity="0.55"/><circle cx="180.2" cy="376.7" r="0.85" fill="#88b8d2" opacity="0.55"/><circle cx="178.2" cy="382.0" r="0.85" fill="#88b8d2" opacity="0.55"/><circle cx="179.8" cy="377.1" r="0.85" fill="#88b8d2" opacity="0.55"/><circle cx="177.6" cy="362.6" r="0.85" fill="#88b8d2" opacity="0.55"/><circle cx="178.3" cy="363.6" r="0.85" fill="#88b8d2" opacity="0.55"/><circle cx="177.9" cy="352.7" r="1.0" fill="#8aa8bc" opacity="0.75"/><line x1="184.25" x2="184.25" y1="400.03" y2="410.00" stroke="#a84070" stroke-width="0.45" opacity="0.4"/><rect x="182.30" y="401.28" width="3.9" height="7.48" fill="#bb5280" stroke="#a84070" stroke-width="0.4"/><line x1="182.30" x2="186.20" y1="406.26" y2="406.26" stroke="#a84070" stroke-width="0.5"/><circle cx="182.9" cy="405.5" r="0.8" fill="#983060" opacity="0.5"/><circle cx="185.0" cy="405.3" r="0.8" fill="#983060" opacity="0.5"/><circle cx="182.9" cy="408.1" r="0.8" fill="#983060" opacity="0.5"/><circle cx="183.1" cy="405.2" r="0.8" fill="#983060" opacity="0.5"/><circle cx="184.0" cy="407.0" r="0.8" fill="#983060" opacity="0.5"/><circle cx="182.7" cy="407.9" r="0.8" fill="#983060" opacity="0.5"/><circle cx="184.1" cy="406.1" r="0.8" fill="#983060" opacity="0.5"/><circle cx="184.4" cy="401.8" r="0.8" fill="#983060" opacity="0.5"/><circle cx="183.3" cy="408.2" r="0.8" fill="#983060" opacity="0.5"/><circle cx="184.5" cy="403.2" r="0.8" fill="#983060" opacity="0.5"/><circle cx="185.9" cy="402.2" r="0.8" fill="#983060" opacity="0.5"/><circle cx="182.8" cy="402.3" r="0.8" fill="#983060" opacity="0.5"/><circle cx="183.3" cy="409.3" r="0.85" fill="#b0607f" opacity="0.55"/><circle cx="183.2" cy="400.2" r="0.85" fill="#b0607f" opacity="0.55"/><line x1="130.55" x2="130.55" y1="412.6" y2="414.0" stroke="#555" stroke-width="0.6"/><text transform="translate(133.85,416.60) rotate(-60)" font-size="6.3" fill="#333" stroke="#333" stroke-width="0.18" text-anchor="end">D28</text><line x1="143.35" x2="143.35" y1="412.6" y2="414.0" stroke="#555" stroke-width="0.6"/><text transform="translate(146.65,416.60) rotate(-60)" font-size="6.3" fill="#333" stroke="#333" stroke-width="0.18" text-anchor="end">D56</text><line x1="156.15" x2="156.15" y1="412.6" y2="414.0" stroke="#555" stroke-width="0.6"/><text transform="translate(159.45,416.60) rotate(-60)" font-size="6.3" fill="#333" stroke="#333" stroke-width="0.18" text-anchor="end">D90</text><line x1="168.95" x2="168.95" y1="412.6" y2="414.0" stroke="#555" stroke-width="0.6"/><text transform="translate(172.25,416.60) rotate(-60)" font-size="6.3" fill="#333" stroke="#333" stroke-width="0.18" text-anchor="end">D180</text><line x1="181.75" x2="181.75" y1="412.6" y2="414.0" stroke="#555" stroke-width="0.6"/><text transform="translate(185.05,416.60) rotate(-60)" font-size="6.3" fill="#333" stroke="#333" stroke-width="0.18" text-anchor="end">D360</text><rect x="201.4" y="336.2" width="66.0" height="7.4" fill="#c43e20"/><text x="234.40" y="343.00" font-size="7" font-weight="bold" fill="#fff" text-anchor="middle">9</text><rect x="201.4" y="345.3" width="66.0" height="67.30" fill="#fff" stroke="#b8b8b8" stroke-width="0.8"/><line x1="199.8" x2="201.4" y1="410.10" y2="410.10" stroke="#555" stroke-width="0.6"/><text x="199.10" y="412.30" font-size="6.4" fill="#3a3a3a" text-anchor="end">0</text><line x1="199.8" x2="201.4" y1="394.90" y2="394.90" stroke="#555" stroke-width="0.6"/><text x="199.10" y="397.10" font-size="6.4" fill="#3a3a3a" text-anchor="end">20</text><line x1="199.8" x2="201.4" y1="379.70" y2="379.70" stroke="#555" stroke-width="0.6"/><text x="199.10" y="381.90" font-size="6.4" fill="#3a3a3a" text-anchor="end">40</text><line x1="199.8" x2="201.4" y1="364.50" y2="364.50" stroke="#555" stroke-width="0.6"/><text x="199.10" y="366.70" font-size="6.4" fill="#3a3a3a" text-anchor="end">60</text><line x1="199.8" x2="201.4" y1="349.30" y2="349.30" stroke="#555" stroke-width="0.6"/><text x="199.10" y="351.50" font-size="6.4" fill="#3a3a3a" text-anchor="end">80</text><line x1="206.50" x2="206.50" y1="393.38" y2="410.10" stroke="#94c4dc" stroke-width="0.45" opacity="0.4"/><rect x="204.55" y="400.22" width="3.9" height="9.88" fill="#a6d0e4" stroke="#94c4dc" stroke-width="0.4"/><line x1="204.55" x2="208.45" y1="407.82" y2="407.82" stroke="#94c4dc" stroke-width="0.5"/><circle cx="205.7" cy="409.3" r="0.8" fill="#6eaace" opacity="0.5"/><circle cx="206.4" cy="401.0" r="0.8" fill="#6eaace" opacity="0.5"/><circle cx="205.0" cy="402.9" r="0.8" fill="#6eaace" opacity="0.5"/><circle cx="205.8" cy="405.6" r="0.8" fill="#6eaace" opacity="0.5"/><circle cx="207.1" cy="408.1" r="0.8" fill="#6eaace" opacity="0.5"/><circle cx="205.1" cy="406.5" r="0.8" fill="#6eaace" opacity="0.5"/><circle cx="206.4" cy="400.4" r="0.8" fill="#6eaace" opacity="0.5"/><circle cx="204.7" cy="408.3" r="0.8" fill="#6eaace" opacity="0.5"/><circle cx="206.6" cy="403.6" r="0.8" fill="#6eaace" opacity="0.5"/><circle cx="206.4" cy="409.9" r="0.8" fill="#6eaace" opacity="0.5"/><circle cx="206.6" cy="402.8" r="0.8" fill="#6eaace" opacity="0.5"/><circle cx="206.5" cy="407.8" r="0.8" fill="#6eaace" opacity="0.5"/><circle cx="207.0" cy="404.1" r="0.8" fill="#6eaace" opacity="0.5"/><circle cx="207.6" cy="408.7" r="0.8" fill="#6eaace" opacity="0.5"/><circle cx="207.4" cy="400.8" r="0.8" fill="#6eaace" opacity="0.5"/><circle cx="206.0" cy="401.6" r="0.8" fill="#6eaace" opacity="0.5"/><circle cx="205.5" cy="399.0" r="0.85" fill="#88b8d2" opacity="0.55"/><circle cx="205.0" cy="394.1" r="0.85" fill="#88b8d2" opacity="0.55"/><circle cx="206.3" cy="400.0" r="0.85" fill="#88b8d2" opacity="0.55"/><circle cx="207.4" cy="398.9" r="0.85" fill="#88b8d2" opacity="0.55"/><circle cx="206.7" cy="377.4" r="1.0" fill="#8aa8bc" opacity="0.75"/><circle cx="207.7" cy="381.2" r="1.0" fill="#8aa8bc" opacity="0.75"/><line x1="211.50" x2="211.50" y1="406.30" y2="410.10" stroke="#a84070" stroke-width="0.45" opacity="0.4"/><rect x="209.55" y="408.58" width="3.9" height="1.20" fill="#bb5280" stroke="#a84070" stroke-width="0.4"/><line x1="209.55" x2="213.45" y1="408.96" y2="408.96" stroke="#a84070" stroke-width="0.5"/><circle cx="212.1" cy="409.0" r="0.8" fill="#983060" opacity="0.5"/><circle cx="213.1" cy="409.3" r="0.8" fill="#983060" opacity="0.5"/><circle cx="211.4" cy="409.2" r="0.8" fill="#983060" opacity="0.5"/><circle cx="213.1" cy="409.0" r="0.8" fill="#983060" opacity="0.5"/><circle cx="213.3" cy="409.0" r="0.8" fill="#983060" opacity="0.5"/><circle cx="210.5" cy="408.9" r="0.8" fill="#983060" opacity="0.5"/><circle cx="213.3" cy="409.9" r="0.85" fill="#b0607f" opacity="0.55"/><circle cx="213.2" cy="408.1" r="0.85" fill="#b0607f" opacity="0.55"/><circle cx="210.9" cy="407.7" r="0.85" fill="#b0607f" opacity="0.55"/><line x1="219.30" x2="219.30" y1="368.30" y2="410.10" stroke="#94c4dc" stroke-width="0.45" opacity="0.4"/><rect x="217.35" y="383.50" width="3.9" height="26.60" fill="#a6d0e4" stroke="#94c4dc" stroke-width="0.4"/><line x1="217.35" x2="221.25" y1="400.98" y2="400.98" stroke="#94c4dc" stroke-width="0.5"/><circle cx="217.6" cy="392.3" r="0.8" fill="#6eaace" opacity="0.5"/><circle cx="218.1" cy="400.2" r="0.8" fill="#6eaace" opacity="0.5"/><circle cx="217.5" cy="388.1" r="0.8" fill="#6eaace" opacity="0.5"/><circle cx="218.4" cy="393.9" r="0.8" fill="#6eaace" opacity="0.5"/><circle cx="219.5" cy="398.0" r="0.8" fill="#6eaace" opacity="0.5"/><circle cx="218.0" cy="391.2" r="0.8" fill="#6eaace" opacity="0.5"/><circle cx="217.9" cy="403.7" r="0.8" fill="#6eaace" opacity="0.5"/><circle cx="218.0" cy="384.6" r="0.8" fill="#6eaace" opacity="0.5"/><circle cx="219.4" cy="406.5" r="0.8" fill="#6eaace" opacity="0.5"/><circle cx="220.7" cy="394.6" r="0.8" fill="#6eaace" opacity="0.5"/><circle cx="218.3" cy="408.6" r="0.8" fill="#6eaace" opacity="0.5"/><circle cx="219.6" cy="405.6" r="0.8" fill="#6eaace" opacity="0.5"/><circle cx="219.0" cy="398.1" r="0.8" fill="#6eaace" opacity="0.5"/><circle cx="219.9" cy="386.5" r="0.8" fill="#6eaace" opacity="0.5"/><circle cx="220.9" cy="387.2" r="0.8" fill="#6eaace" opacity="0.5"/><circle cx="220.9" cy="402.9" r="0.8" fill="#6eaace" opacity="0.5"/><circle cx="217.7" cy="399.3" r="0.8" fill="#6eaace" opacity="0.5"/><circle cx="217.9" cy="385.8" r="0.8" fill="#6eaace" opacity="0.5"/><circle cx="218.5" cy="409.6" r="0.8" fill="#6eaace" opacity="0.5"/><circle cx="221.0" cy="402.4" r="0.8" fill="#6eaace" opacity="0.5"/><circle cx="219.0" cy="386.9" r="0.8" fill="#6eaace" opacity="0.5"/><circle cx="220.6" cy="396.0" r="0.8" fill="#6eaace" opacity="0.5"/><circle cx="219.9" cy="388.6" r="0.8" fill="#6eaace" opacity="0.5"/><circle cx="217.9" cy="396.5" r="0.8" fill="#6eaace" opacity="0.5"/><circle cx="219.9" cy="403.6" r="0.8" fill="#6eaace" opacity="0.5"/><circle cx="220.4" cy="394.5" r="0.8" fill="#6eaace" opacity="0.5"/><circle cx="221.0" cy="386.2" r="0.8" fill="#6eaace" opacity="0.5"/><circle cx="217.8" cy="405.0" r="0.8" fill="#6eaace" opacity="0.5"/><circle cx="219.6" cy="386.2" r="0.8" fill="#6eaace" opacity="0.5"/><circle cx="220.0" cy="405.3" r="0.8" fill="#6eaace" opacity="0.5"/><circle cx="218.4" cy="403.3" r="0.8" fill="#6eaace" opacity="0.5"/><circle cx="219.9" cy="375.5" r="0.85" fill="#88b8d2" opacity="0.55"/><circle cx="219.7" cy="372.2" r="0.85" fill="#88b8d2" opacity="0.55"/><circle cx="220.4" cy="373.3" r="0.85" fill="#88b8d2" opacity="0.55"/><circle cx="219.9" cy="376.3" r="0.85" fill="#88b8d2" opacity="0.55"/><circle cx="218.1" cy="373.7" r="0.85" fill="#88b8d2" opacity="0.55"/><circle cx="218.3" cy="371.6" r="0.85" fill="#88b8d2" opacity="0.55"/><circle cx="218.2" cy="368.9" r="0.85" fill="#88b8d2" opacity="0.55"/><circle cx="219.0" cy="364.5" r="1.0" fill="#8aa8bc" opacity="0.75"/><line x1="224.30" x2="224.30" y1="406.30" y2="410.10" stroke="#a84070" stroke-width="0.45" opacity="0.4"/><rect x="222.35" y="408.58" width="3.9" height="1.20" fill="#bb5280" stroke="#a84070" stroke-width="0.4"/><line x1="222.35" x2="226.25" y1="408.96" y2="408.96" stroke="#a84070" stroke-width="0.5"/><circle cx="225.7" cy="408.6" r="0.8" fill="#983060" opacity="0.5"/><circle cx="225.1" cy="409.2" r="0.8" fill="#983060" opacity="0.5"/><circle cx="224.9" cy="409.1" r="0.8" fill="#983060" opacity="0.5"/><circle cx="223.0" cy="408.8" r="0.8" fill="#983060" opacity="0.5"/><circle cx="223.3" cy="409.2" r="0.8" fill="#983060" opacity="0.5"/><circle cx="222.6" cy="409.1" r="0.8" fill="#983060" opacity="0.5"/><circle cx="224.0" cy="407.7" r="0.85" fill="#b0607f" opacity="0.55"/><circle cx="225.9" cy="407.3" r="0.85" fill="#b0607f" opacity="0.55"/><circle cx="225.0" cy="407.8" r="0.85" fill="#b0607f" opacity="0.55"/><circle cx="224.1" cy="402.5" r="1.0" fill="#a06282" opacity="0.75"/><line x1="232.10" x2="232.10" y1="364.50" y2="410.10" stroke="#94c4dc" stroke-width="0.45" opacity="0.4"/><rect x="230.15" y="379.70" width="3.9" height="30.40" fill="#a6d0e4" stroke="#94c4dc" stroke-width="0.4"/><line x1="230.15" x2="234.05" y1="397.18" y2="397.18" stroke="#94c4dc" stroke-width="0.5"/><circle cx="232.0" cy="404.8" r="0.8" fill="#6eaace" opacity="0.5"/><circle cx="232.7" cy="409.6" r="0.8" fill="#6eaace" opacity="0.5"/><circle cx="231.6" cy="405.2" r="0.8" fill="#6eaace" opacity="0.5"/><circle cx="233.1" cy="380.8" r="0.8" fill="#6eaace" opacity="0.5"/><circle cx="232.6" cy="384.7" r="0.8" fill="#6eaace" opacity="0.5"/><circle cx="232.8" cy="390.8" r="0.8" fill="#6eaace" opacity="0.5"/><circle cx="231.0" cy="380.7" r="0.8" fill="#6eaace" opacity="0.5"/><circle cx="231.4" cy="386.8" r="0.8" fill="#6eaace" opacity="0.5"/><circle cx="233.3" cy="402.3" r="0.8" fill="#6eaace" opacity="0.5"/><circle cx="233.4" cy="391.8" r="0.8" fill="#6eaace" opacity="0.5"/><circle cx="232.4" cy="383.5" r="0.8" fill="#6eaace" opacity="0.5"/><circle cx="230.4" cy="404.1" r="0.8" fill="#6eaace" opacity="0.5"/><circle cx="232.9" cy="393.8" r="0.8" fill="#6eaace" opacity="0.5"/><circle cx="230.6" cy="401.8" r="0.8" fill="#6eaace" opacity="0.5"/><circle cx="230.9" cy="410.0" r="0.8" fill="#6eaace" opacity="0.5"/><circle cx="230.3" cy="388.9" r="0.8" fill="#6eaace" opacity="0.5"/><circle cx="231.3" cy="403.1" r="0.8" fill="#6eaace" opacity="0.5"/><circle cx="233.9" cy="388.5" r="0.8" fill="#6eaace" opacity="0.5"/><circle cx="230.7" cy="409.5" r="0.8" fill="#6eaace" opacity="0.5"/><circle cx="233.8" cy="381.7" r="0.8" fill="#6eaace" opacity="0.5"/><circle cx="231.5" cy="405.6" r="0.8" fill="#6eaace" opacity="0.5"/><circle cx="231.5" cy="394.2" r="0.8" fill="#6eaace" opacity="0.5"/><circle cx="232.0" cy="397.4" r="0.8" fill="#6eaace" opacity="0.5"/><circle cx="230.5" cy="402.2" r="0.8" fill="#6eaace" opacity="0.5"/><circle cx="230.9" cy="407.5" r="0.8" fill="#6eaace" opacity="0.5"/><circle cx="232.5" cy="407.3" r="0.8" fill="#6eaace" opacity="0.5"/><circle cx="231.2" cy="388.9" r="0.8" fill="#6eaace" opacity="0.5"/><circle cx="232.9" cy="386.0" r="0.8" fill="#6eaace" opacity="0.5"/><circle cx="232.1" cy="399.7" r="0.8" fill="#6eaace" opacity="0.5"/><circle cx="233.6" cy="404.4" r="0.8" fill="#6eaace" opacity="0.5"/><circle cx="230.5" cy="393.1" r="0.8" fill="#6eaace" opacity="0.5"/><circle cx="232.8" cy="405.4" r="0.8" fill="#6eaace" opacity="0.5"/><circle cx="232.9" cy="398.4" r="0.8" fill="#6eaace" opacity="0.5"/><circle cx="233.2" cy="403.1" r="0.8" fill="#6eaace" opacity="0.5"/><circle cx="230.6" cy="385.7" r="0.8" fill="#6eaace" opacity="0.5"/><circle cx="232.8" cy="376.8" r="0.85" fill="#88b8d2" opacity="0.55"/><circle cx="231.1" cy="367.7" r="0.85" fill="#88b8d2" opacity="0.55"/><circle cx="232.3" cy="369.6" r="0.85" fill="#88b8d2" opacity="0.55"/><circle cx="232.4" cy="376.8" r="0.85" fill="#88b8d2" opacity="0.55"/><circle cx="231.2" cy="370.1" r="0.85" fill="#88b8d2" opacity="0.55"/><circle cx="232.2" cy="373.3" r="0.85" fill="#88b8d2" opacity="0.55"/><circle cx="232.9" cy="379.2" r="0.85" fill="#88b8d2" opacity="0.55"/><circle cx="231.3" cy="360.7" r="1.0" fill="#8aa8bc" opacity="0.75"/><line x1="237.10" x2="237.10" y1="405.54" y2="410.10" stroke="#a84070" stroke-width="0.45" opacity="0.4"/><rect x="235.15" y="407.82" width="3.9" height="1.52" fill="#bb5280" stroke="#a84070" stroke-width="0.4"/><line x1="235.15" x2="239.05" y1="408.58" y2="408.58" stroke="#a84070" stroke-width="0.5"/><circle cx="237.6" cy="408.9" r="0.8" fill="#983060" opacity="0.5"/><circle cx="237.5" cy="408.3" r="0.8" fill="#983060" opacity="0.5"/><circle cx="236.0" cy="408.0" r="0.8" fill="#983060" opacity="0.5"/><circle cx="237.7" cy="408.9" r="0.8" fill="#983060" opacity="0.5"/><circle cx="235.9" cy="408.9" r="0.8" fill="#983060" opacity="0.5"/><circle cx="238.1" cy="409.0" r="0.8" fill="#983060" opacity="0.5"/><circle cx="237.9" cy="408.1" r="0.8" fill="#983060" opacity="0.5"/><circle cx="236.4" cy="409.5" r="0.85" fill="#b0607f" opacity="0.55"/><circle cx="235.5" cy="406.2" r="0.85" fill="#b0607f" opacity="0.55"/><circle cx="235.5" cy="407.6" r="0.85" fill="#b0607f" opacity="0.55"/><circle cx="237.1" cy="394.9" r="1.0" fill="#a06282" opacity="0.75"/><line x1="244.90" x2="244.90" y1="353.10" y2="408.58" stroke="#94c4dc" stroke-width="0.45" opacity="0.4"/><rect x="242.95" y="368.30" width="3.9" height="36.48" fill="#a6d0e4" stroke="#94c4dc" stroke-width="0.4"/><line x1="242.95" x2="246.85" y1="385.02" y2="385.02" stroke="#94c4dc" stroke-width="0.5"/><circle cx="246.5" cy="399.3" r="0.8" fill="#6eaace" opacity="0.5"/><circle cx="244.8" cy="372.8" r="0.8" fill="#6eaace" opacity="0.5"/><circle cx="243.5" cy="397.6" r="0.8" fill="#6eaace" opacity="0.5"/><circle cx="245.0" cy="386.3" r="0.8" fill="#6eaace" opacity="0.5"/><circle cx="245.7" cy="391.5" r="0.8" fill="#6eaace" opacity="0.5"/><circle cx="245.9" cy="385.5" r="0.8" fill="#6eaace" opacity="0.5"/><circle cx="243.4" cy="400.9" r="0.8" fill="#6eaace" opacity="0.5"/><circle cx="244.8" cy="390.7" r="0.8" fill="#6eaace" opacity="0.5"/><circle cx="245.5" cy="395.6" r="0.8" fill="#6eaace" opacity="0.5"/><circle cx="244.2" cy="396.7" r="0.8" fill="#6eaace" opacity="0.5"/><circle cx="245.7" cy="387.4" r="0.8" fill="#6eaace" opacity="0.5"/><circle cx="244.4" cy="376.7" r="0.8" fill="#6eaace" opacity="0.5"/><circle cx="246.4" cy="388.5" r="0.8" fill="#6eaace" opacity="0.5"/><circle cx="245.3" cy="370.7" r="0.8" fill="#6eaace" opacity="0.5"/><circle cx="244.7" cy="401.0" r="0.8" fill="#6eaace" opacity="0.5"/><circle cx="244.1" cy="381.5" r="0.8" fill="#6eaace" opacity="0.5"/><circle cx="246.6" cy="403.4" r="0.8" fill="#6eaace" opacity="0.5"/><circle cx="243.6" cy="371.6" r="0.8" fill="#6eaace" opacity="0.5"/><circle cx="245.3" cy="387.8" r="0.8" fill="#6eaace" opacity="0.5"/><circle cx="243.3" cy="393.8" r="0.8" fill="#6eaace" opacity="0.5"/><circle cx="245.9" cy="377.4" r="0.8" fill="#6eaace" opacity="0.5"/><circle cx="243.4" cy="388.8" r="0.8" fill="#6eaace" opacity="0.5"/><circle cx="243.4" cy="390.4" r="0.8" fill="#6eaace" opacity="0.5"/><circle cx="243.3" cy="369.6" r="0.8" fill="#6eaace" opacity="0.5"/><circle cx="245.9" cy="394.3" r="0.8" fill="#6eaace" opacity="0.5"/><circle cx="243.5" cy="399.9" r="0.8" fill="#6eaace" opacity="0.5"/><circle cx="243.7" cy="402.2" r="0.8" fill="#6eaace" opacity="0.5"/><circle cx="246.1" cy="385.4" r="0.8" fill="#6eaace" opacity="0.5"/><circle cx="243.7" cy="398.6" r="0.8" fill="#6eaace" opacity="0.5"/><circle cx="244.6" cy="376.9" r="0.8" fill="#6eaace" opacity="0.5"/><circle cx="243.5" cy="392.4" r="0.8" fill="#6eaace" opacity="0.5"/><circle cx="246.6" cy="395.9" r="0.8" fill="#6eaace" opacity="0.5"/><circle cx="244.0" cy="400.5" r="0.8" fill="#6eaace" opacity="0.5"/><circle cx="246.3" cy="377.8" r="0.8" fill="#6eaace" opacity="0.5"/><circle cx="244.8" cy="371.8" r="0.8" fill="#6eaace" opacity="0.5"/><circle cx="245.3" cy="369.9" r="0.8" fill="#6eaace" opacity="0.5"/><circle cx="244.8" cy="394.2" r="0.8" fill="#6eaace" opacity="0.5"/><circle cx="245.7" cy="378.7" r="0.8" fill="#6eaace" opacity="0.5"/><circle cx="243.8" cy="400.1" r="0.8" fill="#6eaace" opacity="0.5"/><circle cx="243.5" cy="369.8" r="0.8" fill="#6eaace" opacity="0.5"/><circle cx="244.0" cy="407.3" r="0.85" fill="#88b8d2" opacity="0.55"/><circle cx="246.7" cy="361.2" r="0.85" fill="#88b8d2" opacity="0.55"/><circle cx="244.3" cy="355.3" r="0.85" fill="#88b8d2" opacity="0.55"/><circle cx="244.3" cy="357.0" r="0.85" fill="#88b8d2" opacity="0.55"/><circle cx="246.1" cy="361.9" r="0.85" fill="#88b8d2" opacity="0.55"/><circle cx="243.1" cy="406.4" r="0.85" fill="#88b8d2" opacity="0.55"/><circle cx="246.3" cy="359.1" r="0.85" fill="#88b8d2" opacity="0.55"/><circle cx="246.2" cy="407.3" r="0.85" fill="#88b8d2" opacity="0.55"/><line x1="249.90" x2="249.90" y1="406.30" y2="410.10" stroke="#a84070" stroke-width="0.45" opacity="0.4"/><rect x="247.95" y="407.82" width="3.9" height="1.52" fill="#bb5280" stroke="#a84070" stroke-width="0.4"/><line x1="247.95" x2="251.85" y1="408.58" y2="408.58" stroke="#a84070" stroke-width="0.5"/><circle cx="249.1" cy="408.1" r="0.8" fill="#983060" opacity="0.5"/><circle cx="249.4" cy="408.8" r="0.8" fill="#983060" opacity="0.5"/><circle cx="249.5" cy="408.8" r="0.8" fill="#983060" opacity="0.5"/><circle cx="248.9" cy="409.2" r="0.8" fill="#983060" opacity="0.5"/><circle cx="249.6" cy="408.0" r="0.8" fill="#983060" opacity="0.5"/><circle cx="251.3" cy="408.4" r="0.8" fill="#983060" opacity="0.5"/><circle cx="249.0" cy="408.2" r="0.8" fill="#983060" opacity="0.5"/><circle cx="251.7" cy="409.5" r="0.85" fill="#b0607f" opacity="0.55"/><circle cx="251.0" cy="409.5" r="0.85" fill="#b0607f" opacity="0.55"/><line x1="257.70" x2="257.70" y1="364.50" y2="410.10" stroke="#94c4dc" stroke-width="0.45" opacity="0.4"/><rect x="255.75" y="377.42" width="3.9" height="31.16" fill="#a6d0e4" stroke="#94c4dc" stroke-width="0.4"/><line x1="255.75" x2="259.65" y1="394.90" y2="394.90" stroke="#94c4dc" stroke-width="0.5"/><circle cx="258.3" cy="400.7" r="0.8" fill="#6eaace" opacity="0.5"/><circle cx="258.9" cy="396.7" r="0.8" fill="#6eaace" opacity="0.5"/><circle cx="257.8" cy="404.4" r="0.8" fill="#6eaace" opacity="0.5"/><circle cx="258.9" cy="398.1" r="0.8" fill="#6eaace" opacity="0.5"/><circle cx="258.9" cy="397.8" r="0.8" fill="#6eaace" opacity="0.5"/><circle cx="259.1" cy="382.2" r="0.8" fill="#6eaace" opacity="0.5"/><circle cx="259.3" cy="404.2" r="0.8" fill="#6eaace" opacity="0.5"/><circle cx="258.3" cy="385.4" r="0.8" fill="#6eaace" opacity="0.5"/><circle cx="256.1" cy="388.2" r="0.8" fill="#6eaace" opacity="0.5"/><circle cx="257.9" cy="381.5" r="0.8" fill="#6eaace" opacity="0.5"/><circle cx="257.1" cy="394.4" r="0.8" fill="#6eaace" opacity="0.5"/><circle cx="258.7" cy="384.2" r="0.8" fill="#6eaace" opacity="0.5"/><circle cx="256.7" cy="381.5" r="0.8" fill="#6eaace" opacity="0.5"/><circle cx="256.8" cy="398.0" r="0.8" fill="#6eaace" opacity="0.5"/><circle cx="257.1" cy="405.5" r="0.8" fill="#6eaace" opacity="0.5"/><circle cx="258.8" cy="407.8" r="0.8" fill="#6eaace" opacity="0.5"/><circle cx="256.2" cy="401.5" r="0.8" fill="#6eaace" opacity="0.5"/><circle cx="258.6" cy="406.5" r="0.8" fill="#6eaace" opacity="0.5"/><circle cx="257.6" cy="402.4" r="0.8" fill="#6eaace" opacity="0.5"/><circle cx="258.8" cy="396.1" r="0.8" fill="#6eaace" opacity="0.5"/><circle cx="257.0" cy="378.9" r="0.8" fill="#6eaace" opacity="0.5"/><circle cx="259.1" cy="388.9" r="0.8" fill="#6eaace" opacity="0.5"/><circle cx="259.1" cy="393.9" r="0.8" fill="#6eaace" opacity="0.5"/><circle cx="257.0" cy="385.7" r="0.8" fill="#6eaace" opacity="0.5"/><circle cx="258.0" cy="381.3" r="0.8" fill="#6eaace" opacity="0.5"/><circle cx="258.0" cy="405.3" r="0.8" fill="#6eaace" opacity="0.5"/><circle cx="257.8" cy="382.7" r="0.8" fill="#6eaace" opacity="0.5"/><circle cx="257.4" cy="393.5" r="0.8" fill="#6eaace" opacity="0.5"/><circle cx="258.3" cy="381.1" r="0.8" fill="#6eaace" opacity="0.5"/><circle cx="257.2" cy="402.1" r="0.8" fill="#6eaace" opacity="0.5"/><circle cx="259.4" cy="397.3" r="0.8" fill="#6eaace" opacity="0.5"/><circle cx="256.3" cy="386.9" r="0.8" fill="#6eaace" opacity="0.5"/><circle cx="256.0" cy="380.1" r="0.8" fill="#6eaace" opacity="0.5"/><circle cx="257.5" cy="390.2" r="0.8" fill="#6eaace" opacity="0.5"/><circle cx="257.4" cy="386.2" r="0.8" fill="#6eaace" opacity="0.5"/><circle cx="257.8" cy="405.7" r="0.8" fill="#6eaace" opacity="0.5"/><circle cx="257.2" cy="367.2" r="0.85" fill="#88b8d2" opacity="0.55"/><circle cx="258.8" cy="367.8" r="0.85" fill="#88b8d2" opacity="0.55"/><circle cx="259.5" cy="366.0" r="0.85" fill="#88b8d2" opacity="0.55"/><circle cx="258.5" cy="372.5" r="0.85" fill="#88b8d2" opacity="0.55"/><circle cx="257.0" cy="409.8" r="0.85" fill="#88b8d2" opacity="0.55"/><circle cx="256.6" cy="368.0" r="0.85" fill="#88b8d2" opacity="0.55"/><circle cx="258.3" cy="371.0" r="0.85" fill="#88b8d2" opacity="0.55"/><circle cx="256.7" cy="358.4" r="1.0" fill="#8aa8bc" opacity="0.75"/><line x1="262.70" x2="262.70" y1="407.06" y2="410.10" stroke="#a84070" stroke-width="0.45" opacity="0.4"/><rect x="260.75" y="407.82" width="3.9" height="1.52" fill="#bb5280" stroke="#a84070" stroke-width="0.4"/><line x1="260.75" x2="264.65" y1="408.58" y2="408.58" stroke="#a84070" stroke-width="0.5"/><circle cx="264.5" cy="407.9" r="0.8" fill="#983060" opacity="0.5"/><circle cx="263.8" cy="408.5" r="0.8" fill="#983060" opacity="0.5"/><circle cx="264.2" cy="409.1" r="0.8" fill="#983060" opacity="0.5"/><circle cx="263.6" cy="408.5" r="0.8" fill="#983060" opacity="0.5"/><circle cx="262.2" cy="408.0" r="0.8" fill="#983060" opacity="0.5"/><circle cx="261.6" cy="407.9" r="0.8" fill="#983060" opacity="0.5"/><circle cx="262.7" cy="409.3" r="0.8" fill="#983060" opacity="0.5"/><circle cx="264.3" cy="409.4" r="0.85" fill="#b0607f" opacity="0.55"/><circle cx="262.9" cy="409.4" r="0.85" fill="#b0607f" opacity="0.55"/><circle cx="261.7" cy="381.2" r="1.0" fill="#a06282" opacity="0.75"/><text x="221.80" y="350.00" font-size="3.2" fill="#555" text-anchor="middle">p = 0.01</text><text x="234.60" y="350.00" font-size="3.2" fill="#555" text-anchor="middle">p = 0.01</text><text x="247.40" y="350.00" font-size="3.2" fill="#555" text-anchor="middle">p = 0.01</text><line x1="209.00" x2="209.00" y1="412.6" y2="414.0" stroke="#555" stroke-width="0.6"/><text transform="translate(212.30,416.60) rotate(-60)" font-size="6.3" fill="#333" stroke="#333" stroke-width="0.18" text-anchor="end">D28</text><line x1="221.80" x2="221.80" y1="412.6" y2="414.0" stroke="#555" stroke-width="0.6"/><text transform="translate(225.10,416.60) rotate(-60)" font-size="6.3" fill="#333" stroke="#333" stroke-width="0.18" text-anchor="end">D56</text><line x1="234.60" x2="234.60" y1="412.6" y2="414.0" stroke="#555" stroke-width="0.6"/><text transform="translate(237.90,416.60) rotate(-60)" font-size="6.3" fill="#333" stroke="#333" stroke-width="0.18" text-anchor="end">D90</text><line x1="247.40" x2="247.40" y1="412.6" y2="414.0" stroke="#555" stroke-width="0.6"/><text transform="translate(250.70,416.60) rotate(-60)" font-size="6.3" fill="#333" stroke="#333" stroke-width="0.18" text-anchor="end">D180</text><line x1="260.20" x2="260.20" y1="412.6" y2="414.0" stroke="#555" stroke-width="0.6"/><text transform="translate(263.50,416.60) rotate(-60)" font-size="6.3" fill="#333" stroke="#333" stroke-width="0.18" text-anchor="end">D360</text><rect x="279.85" y="336.2" width="66.0" height="7.4" fill="#6e1c1e"/><text x="312.85" y="343.00" font-size="7" font-weight="bold" fill="#fff" text-anchor="middle">10</text><rect x="279.85" y="345.3" width="66.0" height="67.30" fill="#fff" stroke="#b8b8b8" stroke-width="0.8"/><line x1="278.25" x2="279.85" y1="410.10" y2="410.10" stroke="#555" stroke-width="0.6"/><text x="277.55" y="412.30" font-size="6.4" fill="#3a3a3a" text-anchor="end">0</text><line x1="278.25" x2="279.85" y1="391.40" y2="391.40" stroke="#555" stroke-width="0.6"/><text x="277.55" y="393.60" font-size="6.4" fill="#3a3a3a" text-anchor="end">20</text><line x1="278.25" x2="279.85" y1="372.70" y2="372.70" stroke="#555" stroke-width="0.6"/><text x="277.55" y="374.90" font-size="6.4" fill="#3a3a3a" text-anchor="end">40</text><line x1="278.25" x2="279.85" y1="354.00" y2="354.00" stroke="#555" stroke-width="0.6"/><text x="277.55" y="356.20" font-size="6.4" fill="#3a3a3a" text-anchor="end">60</text><line x1="284.95" x2="284.95" y1="403.56" y2="410.10" stroke="#94c4dc" stroke-width="0.45" opacity="0.4"/><rect x="283.00" y="407.30" width="3.9" height="2.81" fill="#a6d0e4" stroke="#94c4dc" stroke-width="0.4"/><line x1="283.00" x2="286.90" y1="409.17" y2="409.17" stroke="#94c4dc" stroke-width="0.5"/><circle cx="286.0" cy="408.3" r="0.8" fill="#6eaace" opacity="0.5"/><circle cx="285.3" cy="408.9" r="0.8" fill="#6eaace" opacity="0.5"/><circle cx="284.1" cy="409.4" r="0.8" fill="#6eaace" opacity="0.5"/><circle cx="285.0" cy="408.9" r="0.8" fill="#6eaace" opacity="0.5"/><circle cx="283.5" cy="408.8" r="0.8" fill="#6eaace" opacity="0.5"/><circle cx="284.4" cy="410.1" r="0.8" fill="#6eaace" opacity="0.5"/><circle cx="285.8" cy="408.1" r="0.8" fill="#6eaace" opacity="0.5"/><circle cx="284.1" cy="409.4" r="0.8" fill="#6eaace" opacity="0.5"/><circle cx="283.8" cy="408.7" r="0.8" fill="#6eaace" opacity="0.5"/><circle cx="286.4" cy="408.4" r="0.8" fill="#6eaace" opacity="0.5"/><circle cx="285.7" cy="405.1" r="0.85" fill="#88b8d2" opacity="0.55"/><circle cx="285.7" cy="404.6" r="0.85" fill="#88b8d2" opacity="0.55"/><circle cx="286.5" cy="404.2" r="0.85" fill="#88b8d2" opacity="0.55"/><circle cx="283.7" cy="395.1" r="1.0" fill="#8aa8bc" opacity="0.75"/><line x1="289.95" x2="289.95" y1="386.73" y2="408.23" stroke="#a84070" stroke-width="0.45" opacity="0.4"/><rect x="288.00" y="393.27" width="3.9" height="10.28" fill="#bb5280" stroke="#a84070" stroke-width="0.4"/><line x1="288.00" x2="291.90" y1="398.88" y2="398.88" stroke="#a84070" stroke-width="0.5"/><circle cx="289.7" cy="393.8" r="0.8" fill="#983060" opacity="0.5"/><circle cx="288.4" cy="402.7" r="0.8" fill="#983060" opacity="0.5"/><circle cx="290.6" cy="395.4" r="0.8" fill="#983060" opacity="0.5"/><circle cx="289.8" cy="402.1" r="0.8" fill="#983060" opacity="0.5"/><circle cx="291.7" cy="397.0" r="0.8" fill="#983060" opacity="0.5"/><circle cx="290.9" cy="400.1" r="0.8" fill="#983060" opacity="0.5"/><circle cx="288.9" cy="401.0" r="0.8" fill="#983060" opacity="0.5"/><circle cx="289.6" cy="401.9" r="0.8" fill="#983060" opacity="0.5"/><circle cx="289.2" cy="397.2" r="0.8" fill="#983060" opacity="0.5"/><circle cx="288.9" cy="401.9" r="0.8" fill="#983060" opacity="0.5"/><circle cx="288.8" cy="402.7" r="0.8" fill="#983060" opacity="0.5"/><circle cx="290.0" cy="400.3" r="0.8" fill="#983060" opacity="0.5"/><circle cx="289.9" cy="401.7" r="0.8" fill="#983060" opacity="0.5"/><circle cx="291.7" cy="399.0" r="0.8" fill="#983060" opacity="0.5"/><circle cx="291.6" cy="398.6" r="0.8" fill="#983060" opacity="0.5"/><circle cx="290.3" cy="392.0" r="0.85" fill="#b0607f" opacity="0.55"/><circle cx="288.4" cy="392.2" r="0.85" fill="#b0607f" opacity="0.55"/><circle cx="289.6" cy="403.7" r="0.85" fill="#b0607f" opacity="0.55"/><circle cx="289.4" cy="390.5" r="0.85" fill="#b0607f" opacity="0.55"/><circle cx="288.7" cy="406.4" r="0.85" fill="#b0607f" opacity="0.55"/><circle cx="291.0" cy="382.1" r="1.0" fill="#a06282" opacity="0.75"/><circle cx="290.2" cy="407.3" r="1.0" fill="#a06282" opacity="0.75"/><line x1="297.75" x2="297.75" y1="401.69" y2="410.10" stroke="#94c4dc" stroke-width="0.45" opacity="0.4"/><rect x="295.80" y="406.36" width="3.9" height="3.74" fill="#a6d0e4" stroke="#94c4dc" stroke-width="0.4"/><line x1="295.80" x2="299.70" y1="408.23" y2="408.23" stroke="#94c4dc" stroke-width="0.5"/><circle cx="299.0" cy="410.1" r="0.8" fill="#6eaace" opacity="0.5"/><circle cx="297.2" cy="407.4" r="0.8" fill="#6eaace" opacity="0.5"/><circle cx="299.3" cy="407.7" r="0.8" fill="#6eaace" opacity="0.5"/><circle cx="297.5" cy="408.6" r="0.8" fill="#6eaace" opacity="0.5"/><circle cx="297.9" cy="409.0" r="0.8" fill="#6eaace" opacity="0.5"/><circle cx="298.6" cy="407.6" r="0.8" fill="#6eaace" opacity="0.5"/><circle cx="296.5" cy="406.5" r="0.8" fill="#6eaace" opacity="0.5"/><circle cx="299.0" cy="408.7" r="0.8" fill="#6eaace" opacity="0.5"/><circle cx="298.1" cy="407.1" r="0.8" fill="#6eaace" opacity="0.5"/><circle cx="297.2" cy="407.6" r="0.8" fill="#6eaace" opacity="0.5"/><circle cx="297.9" cy="406.6" r="0.8" fill="#6eaace" opacity="0.5"/><circle cx="296.4" cy="405.5" r="0.85" fill="#88b8d2" opacity="0.55"/><circle cx="296.0" cy="402.6" r="0.85" fill="#88b8d2" opacity="0.55"/><circle cx="297.7" cy="404.1" r="0.85" fill="#88b8d2" opacity="0.55"/><circle cx="297.4" cy="385.8" r="1.0" fill="#8aa8bc" opacity="0.75"/><circle cx="298.9" cy="397.0" r="1.0" fill="#8aa8bc" opacity="0.75"/><line x1="302.75" x2="302.75" y1="385.79" y2="408.23" stroke="#a84070" stroke-width="0.45" opacity="0.4"/><rect x="300.80" y="392.34" width="3.9" height="10.28" fill="#bb5280" stroke="#a84070" stroke-width="0.4"/><line x1="300.80" x2="304.70" y1="397.95" y2="397.95" stroke="#a84070" stroke-width="0.5"/><circle cx="302.9" cy="399.0" r="0.8" fill="#983060" opacity="0.5"/><circle cx="303.3" cy="393.1" r="0.8" fill="#983060" opacity="0.5"/><circle cx="302.1" cy="397.7" r="0.8" fill="#983060" opacity="0.5"/><circle cx="303.1" cy="398.6" r="0.8" fill="#983060" opacity="0.5"/><circle cx="301.9" cy="394.5" r="0.8" fill="#983060" opacity="0.5"/><circle cx="302.3" cy="398.8" r="0.8" fill="#983060" opacity="0.5"/><circle cx="304.2" cy="398.9" r="0.8" fill="#983060" opacity="0.5"/><circle cx="301.9" cy="397.1" r="0.8" fill="#983060" opacity="0.5"/><circle cx="303.9" cy="399.2" r="0.8" fill="#983060" opacity="0.5"/><circle cx="303.4" cy="401.0" r="0.8" fill="#983060" opacity="0.5"/><circle cx="301.6" cy="402.4" r="0.8" fill="#983060" opacity="0.5"/><circle cx="303.9" cy="402.0" r="0.8" fill="#983060" opacity="0.5"/><circle cx="301.8" cy="401.1" r="0.8" fill="#983060" opacity="0.5"/><circle cx="301.9" cy="402.0" r="0.8" fill="#983060" opacity="0.5"/><circle cx="303.5" cy="395.1" r="0.8" fill="#983060" opacity="0.5"/><circle cx="302.9" cy="402.9" r="0.85" fill="#b0607f" opacity="0.55"/><circle cx="304.3" cy="407.7" r="0.85" fill="#b0607f" opacity="0.55"/><circle cx="303.6" cy="391.1" r="0.85" fill="#b0607f" opacity="0.55"/><circle cx="301.3" cy="406.1" r="0.85" fill="#b0607f" opacity="0.55"/><circle cx="303.1" cy="404.0" r="0.85" fill="#b0607f" opacity="0.55"/><circle cx="301.2" cy="408.0" r="0.85" fill="#b0607f" opacity="0.55"/><circle cx="301.7" cy="383.0" r="1.0" fill="#a06282" opacity="0.75"/><circle cx="301.4" cy="407.3" r="1.0" fill="#a06282" opacity="0.75"/><line x1="310.55" x2="310.55" y1="393.27" y2="410.10" stroke="#94c4dc" stroke-width="0.45" opacity="0.4"/><rect x="308.60" y="400.75" width="3.9" height="9.35" fill="#a6d0e4" stroke="#94c4dc" stroke-width="0.4"/><line x1="308.60" x2="312.50" y1="407.30" y2="407.30" stroke="#94c4dc" stroke-width="0.5"/><circle cx="311.0" cy="403.5" r="0.8" fill="#6eaace" opacity="0.5"/><circle cx="309.3" cy="409.0" r="0.8" fill="#6eaace" opacity="0.5"/><circle cx="310.9" cy="408.4" r="0.8" fill="#6eaace" opacity="0.5"/><circle cx="312.2" cy="403.8" r="0.8" fill="#6eaace" opacity="0.5"/><circle cx="312.3" cy="406.7" r="0.8" fill="#6eaace" opacity="0.5"/><circle cx="310.2" cy="406.0" r="0.8" fill="#6eaace" opacity="0.5"/><circle cx="309.6" cy="407.7" r="0.8" fill="#6eaace" opacity="0.5"/><circle cx="312.3" cy="401.0" r="0.8" fill="#6eaace" opacity="0.5"/><circle cx="309.4" cy="403.5" r="0.8" fill="#6eaace" opacity="0.5"/><circle cx="309.3" cy="408.4" r="0.8" fill="#6eaace" opacity="0.5"/><circle cx="311.4" cy="406.8" r="0.8" fill="#6eaace" opacity="0.5"/><circle cx="310.7" cy="409.5" r="0.8" fill="#6eaace" opacity="0.5"/><circle cx="308.9" cy="403.7" r="0.8" fill="#6eaace" opacity="0.5"/><circle cx="311.6" cy="406.0" r="0.8" fill="#6eaace" opacity="0.5"/><circle cx="310.4" cy="404.7" r="0.8" fill="#6eaace" opacity="0.5"/><circle cx="310.9" cy="401.9" r="0.8" fill="#6eaace" opacity="0.5"/><circle cx="312.1" cy="397.8" r="0.85" fill="#88b8d2" opacity="0.55"/><circle cx="310.8" cy="393.9" r="0.85" fill="#88b8d2" opacity="0.55"/><circle cx="310.1" cy="399.4" r="0.85" fill="#88b8d2" opacity="0.55"/><circle cx="311.6" cy="400.7" r="0.85" fill="#88b8d2" opacity="0.55"/><circle cx="311.4" cy="380.2" r="1.0" fill="#8aa8bc" opacity="0.75"/><circle cx="310.6" cy="383.9" r="1.0" fill="#8aa8bc" opacity="0.75"/><line x1="315.55" x2="315.55" y1="381.12" y2="407.30" stroke="#a84070" stroke-width="0.45" opacity="0.4"/><rect x="313.60" y="389.53" width="3.9" height="11.22" fill="#bb5280" stroke="#a84070" stroke-width="0.4"/><line x1="313.60" x2="317.50" y1="396.08" y2="396.08" stroke="#a84070" stroke-width="0.5"/><circle cx="316.6" cy="400.7" r="0.8" fill="#983060" opacity="0.5"/><circle cx="316.2" cy="396.1" r="0.8" fill="#983060" opacity="0.5"/><circle cx="316.4" cy="394.4" r="0.8" fill="#983060" opacity="0.5"/><circle cx="317.2" cy="396.2" r="0.8" fill="#983060" opacity="0.5"/><circle cx="317.1" cy="390.0" r="0.8" fill="#983060" opacity="0.5"/><circle cx="314.9" cy="393.8" r="0.8" fill="#983060" opacity="0.5"/><circle cx="314.7" cy="396.5" r="0.8" fill="#983060" opacity="0.5"/><circle cx="316.6" cy="390.6" r="0.8" fill="#983060" opacity="0.5"/><circle cx="316.7" cy="391.9" r="0.8" fill="#983060" opacity="0.5"/><circle cx="316.2" cy="389.6" r="0.8" fill="#983060" opacity="0.5"/><circle cx="316.5" cy="397.2" r="0.8" fill="#983060" opacity="0.5"/><circle cx="315.9" cy="397.8" r="0.8" fill="#983060" opacity="0.5"/><circle cx="316.8" cy="399.0" r="0.8" fill="#983060" opacity="0.5"/><circle cx="314.7" cy="395.3" r="0.8" fill="#983060" opacity="0.5"/><circle cx="314.0" cy="390.4" r="0.8" fill="#983060" opacity="0.5"/><circle cx="316.5" cy="390.3" r="0.8" fill="#983060" opacity="0.5"/><circle cx="315.8" cy="383.1" r="0.85" fill="#b0607f" opacity="0.55"/><circle cx="315.3" cy="403.5" r="0.85" fill="#b0607f" opacity="0.55"/><circle cx="316.5" cy="406.7" r="0.85" fill="#b0607f" opacity="0.55"/><circle cx="314.2" cy="387.2" r="0.85" fill="#b0607f" opacity="0.55"/><circle cx="316.4" cy="404.4" r="0.85" fill="#b0607f" opacity="0.55"/><circle cx="316.1" cy="383.4" r="0.85" fill="#b0607f" opacity="0.55"/><circle cx="316.3" cy="385.4" r="0.85" fill="#b0607f" opacity="0.55"/><circle cx="314.8" cy="406.4" r="1.0" fill="#a06282" opacity="0.75"/><line x1="323.35" x2="323.35" y1="375.50" y2="410.10" stroke="#94c4dc" stroke-width="0.45" opacity="0.4"/><rect x="321.40" y="391.40" width="3.9" height="17.76" fill="#a6d0e4" stroke="#94c4dc" stroke-width="0.4"/><line x1="321.40" x2="325.30" y1="402.62" y2="402.62" stroke="#94c4dc" stroke-width="0.5"/><circle cx="322.6" cy="397.5" r="0.8" fill="#6eaace" opacity="0.5"/><circle cx="324.9" cy="402.6" r="0.8" fill="#6eaace" opacity="0.5"/><circle cx="325.1" cy="392.4" r="0.8" fill="#6eaace" opacity="0.5"/><circle cx="323.6" cy="401.6" r="0.8" fill="#6eaace" opacity="0.5"/><circle cx="324.3" cy="394.8" r="0.8" fill="#6eaace" opacity="0.5"/><circle cx="324.7" cy="401.1" r="0.8" fill="#6eaace" opacity="0.5"/><circle cx="325.0" cy="402.0" r="0.8" fill="#6eaace" opacity="0.5"/><circle cx="322.0" cy="400.8" r="0.8" fill="#6eaace" opacity="0.5"/><circle cx="322.1" cy="395.9" r="0.8" fill="#6eaace" opacity="0.5"/><circle cx="321.7" cy="397.1" r="0.8" fill="#6eaace" opacity="0.5"/><circle cx="323.5" cy="391.6" r="0.8" fill="#6eaace" opacity="0.5"/><circle cx="322.0" cy="396.0" r="0.8" fill="#6eaace" opacity="0.5"/><circle cx="322.9" cy="397.9" r="0.8" fill="#6eaace" opacity="0.5"/><circle cx="324.5" cy="404.7" r="0.8" fill="#6eaace" opacity="0.5"/><circle cx="323.3" cy="408.6" r="0.8" fill="#6eaace" opacity="0.5"/><circle cx="324.6" cy="407.6" r="0.8" fill="#6eaace" opacity="0.5"/><circle cx="321.7" cy="393.3" r="0.8" fill="#6eaace" opacity="0.5"/><circle cx="323.2" cy="400.9" r="0.8" fill="#6eaace" opacity="0.5"/><circle cx="324.2" cy="396.4" r="0.8" fill="#6eaace" opacity="0.5"/><circle cx="324.9" cy="403.1" r="0.8" fill="#6eaace" opacity="0.5"/><circle cx="322.0" cy="405.9" r="0.8" fill="#6eaace" opacity="0.5"/><circle cx="322.0" cy="394.7" r="0.8" fill="#6eaace" opacity="0.5"/><circle cx="323.4" cy="405.9" r="0.8" fill="#6eaace" opacity="0.5"/><circle cx="324.9" cy="388.8" r="0.85" fill="#88b8d2" opacity="0.55"/><circle cx="322.5" cy="378.9" r="0.85" fill="#88b8d2" opacity="0.55"/><circle cx="324.8" cy="387.9" r="0.85" fill="#88b8d2" opacity="0.55"/><circle cx="324.3" cy="376.0" r="0.85" fill="#88b8d2" opacity="0.55"/><circle cx="324.6" cy="382.9" r="0.85" fill="#88b8d2" opacity="0.55"/><circle cx="324.8" cy="389.8" r="0.85" fill="#88b8d2" opacity="0.55"/><circle cx="324.2" cy="380.6" r="0.85" fill="#88b8d2" opacity="0.55"/><circle cx="322.6" cy="355.9" r="1.0" fill="#8aa8bc" opacity="0.75"/><circle cx="323.2" cy="380.2" r="1.0" fill="#8aa8bc" opacity="0.75"/><line x1="328.35" x2="328.35" y1="372.70" y2="400.75" stroke="#a84070" stroke-width="0.45" opacity="0.4"/><rect x="326.40" y="379.25" width="3.9" height="14.96" fill="#bb5280" stroke="#a84070" stroke-width="0.4"/><line x1="326.40" x2="330.30" y1="387.66" y2="387.66" stroke="#a84070" stroke-width="0.5"/><circle cx="330.0" cy="381.9" r="0.8" fill="#983060" opacity="0.5"/><circle cx="327.1" cy="380.4" r="0.8" fill="#983060" opacity="0.5"/><circle cx="328.5" cy="384.0" r="0.8" fill="#983060" opacity="0.5"/><circle cx="327.2" cy="388.1" r="0.8" fill="#983060" opacity="0.5"/><circle cx="328.2" cy="392.2" r="0.8" fill="#983060" opacity="0.5"/><circle cx="327.5" cy="386.8" r="0.8" fill="#983060" opacity="0.5"/><circle cx="328.5" cy="388.7" r="0.8" fill="#983060" opacity="0.5"/><circle cx="328.7" cy="382.8" r="0.8" fill="#983060" opacity="0.5"/><circle cx="329.7" cy="391.8" r="0.8" fill="#983060" opacity="0.5"/><circle cx="330.0" cy="388.7" r="0.8" fill="#983060" opacity="0.5"/><circle cx="327.1" cy="379.5" r="0.8" fill="#983060" opacity="0.5"/><circle cx="330.0" cy="385.5" r="0.8" fill="#983060" opacity="0.5"/><circle cx="328.5" cy="388.4" r="0.8" fill="#983060" opacity="0.5"/><circle cx="326.7" cy="389.5" r="0.8" fill="#983060" opacity="0.5"/><circle cx="327.0" cy="391.1" r="0.8" fill="#983060" opacity="0.5"/><circle cx="328.8" cy="390.0" r="0.8" fill="#983060" opacity="0.5"/><circle cx="330.0" cy="385.8" r="0.8" fill="#983060" opacity="0.5"/><circle cx="327.9" cy="384.0" r="0.8" fill="#983060" opacity="0.5"/><circle cx="328.8" cy="380.0" r="0.8" fill="#983060" opacity="0.5"/><circle cx="329.0" cy="395.1" r="0.85" fill="#b0607f" opacity="0.55"/><circle cx="327.6" cy="375.3" r="0.85" fill="#b0607f" opacity="0.55"/><circle cx="330.1" cy="399.2" r="0.85" fill="#b0607f" opacity="0.55"/><circle cx="328.5" cy="379.2" r="0.85" fill="#b0607f" opacity="0.55"/><circle cx="327.0" cy="375.9" r="0.85" fill="#b0607f" opacity="0.55"/><circle cx="329.0" cy="396.4" r="0.85" fill="#b0607f" opacity="0.55"/><circle cx="329.5" cy="399.8" r="1.0" fill="#a06282" opacity="0.75"/><line x1="336.15" x2="336.15" y1="382.05" y2="410.10" stroke="#94c4dc" stroke-width="0.45" opacity="0.4"/><rect x="334.20" y="393.27" width="3.9" height="14.96" fill="#a6d0e4" stroke="#94c4dc" stroke-width="0.4"/><line x1="334.20" x2="338.10" y1="400.75" y2="400.75" stroke="#94c4dc" stroke-width="0.5"/><circle cx="336.8" cy="393.4" r="0.8" fill="#6eaace" opacity="0.5"/><circle cx="334.4" cy="397.6" r="0.8" fill="#6eaace" opacity="0.5"/><circle cx="335.9" cy="407.5" r="0.8" fill="#6eaace" opacity="0.5"/><circle cx="335.5" cy="393.7" r="0.8" fill="#6eaace" opacity="0.5"/><circle cx="334.4" cy="399.7" r="0.8" fill="#6eaace" opacity="0.5"/><circle cx="337.6" cy="402.0" r="0.8" fill="#6eaace" opacity="0.5"/><circle cx="337.3" cy="399.4" r="0.8" fill="#6eaace" opacity="0.5"/><circle cx="335.1" cy="408.0" r="0.8" fill="#6eaace" opacity="0.5"/><circle cx="337.3" cy="405.5" r="0.8" fill="#6eaace" opacity="0.5"/><circle cx="337.7" cy="406.7" r="0.8" fill="#6eaace" opacity="0.5"/><circle cx="337.5" cy="404.2" r="0.8" fill="#6eaace" opacity="0.5"/><circle cx="335.5" cy="400.5" r="0.8" fill="#6eaace" opacity="0.5"/><circle cx="335.8" cy="393.8" r="0.8" fill="#6eaace" opacity="0.5"/><circle cx="334.6" cy="397.8" r="0.8" fill="#6eaace" opacity="0.5"/><circle cx="337.9" cy="395.8" r="0.8" fill="#6eaace" opacity="0.5"/><circle cx="337.0" cy="406.6" r="0.8" fill="#6eaace" opacity="0.5"/><circle cx="334.9" cy="404.2" r="0.8" fill="#6eaace" opacity="0.5"/><circle cx="336.7" cy="402.8" r="0.8" fill="#6eaace" opacity="0.5"/><circle cx="337.9" cy="394.0" r="0.8" fill="#6eaace" opacity="0.5"/><circle cx="336.6" cy="393.4" r="0.8" fill="#6eaace" opacity="0.5"/><circle cx="334.9" cy="398.5" r="0.8" fill="#6eaace" opacity="0.5"/><circle cx="335.6" cy="387.1" r="0.85" fill="#88b8d2" opacity="0.55"/><circle cx="334.9" cy="409.6" r="0.85" fill="#88b8d2" opacity="0.55"/><circle cx="336.5" cy="391.6" r="0.85" fill="#88b8d2" opacity="0.55"/><circle cx="336.2" cy="391.5" r="0.85" fill="#88b8d2" opacity="0.55"/><circle cx="335.8" cy="387.0" r="0.85" fill="#88b8d2" opacity="0.55"/><circle cx="334.6" cy="393.1" r="0.85" fill="#88b8d2" opacity="0.55"/><circle cx="335.9" cy="364.3" r="1.0" fill="#8aa8bc" opacity="0.75"/><circle cx="335.4" cy="375.5" r="1.0" fill="#8aa8bc" opacity="0.75"/><line x1="341.15" x2="341.15" y1="359.61" y2="402.62" stroke="#a84070" stroke-width="0.45" opacity="0.4"/><rect x="339.20" y="372.70" width="3.9" height="25.25" fill="#bb5280" stroke="#a84070" stroke-width="0.4"/><line x1="339.20" x2="343.10" y1="382.05" y2="382.05" stroke="#a84070" stroke-width="0.5"/><circle cx="340.2" cy="378.8" r="0.8" fill="#983060" opacity="0.5"/><circle cx="340.2" cy="377.1" r="0.8" fill="#983060" opacity="0.5"/><circle cx="341.1" cy="395.6" r="0.8" fill="#983060" opacity="0.5"/><circle cx="340.6" cy="388.2" r="0.8" fill="#983060" opacity="0.5"/><circle cx="340.2" cy="378.6" r="0.8" fill="#983060" opacity="0.5"/><circle cx="342.4" cy="381.0" r="0.8" fill="#983060" opacity="0.5"/><circle cx="341.2" cy="386.5" r="0.8" fill="#983060" opacity="0.5"/><circle cx="341.5" cy="374.6" r="0.8" fill="#983060" opacity="0.5"/><circle cx="339.6" cy="393.4" r="0.8" fill="#983060" opacity="0.5"/><circle cx="340.5" cy="395.9" r="0.8" fill="#983060" opacity="0.5"/><circle cx="341.7" cy="395.7" r="0.8" fill="#983060" opacity="0.5"/><circle cx="340.5" cy="387.3" r="0.8" fill="#983060" opacity="0.5"/><circle cx="342.7" cy="385.0" r="0.8" fill="#983060" opacity="0.5"/><circle cx="339.9" cy="391.8" r="0.8" fill="#983060" opacity="0.5"/><circle cx="340.5" cy="390.2" r="0.8" fill="#983060" opacity="0.5"/><circle cx="341.9" cy="375.0" r="0.8" fill="#983060" opacity="0.5"/><circle cx="339.9" cy="387.1" r="0.8" fill="#983060" opacity="0.5"/><circle cx="339.8" cy="396.8" r="0.8" fill="#983060" opacity="0.5"/><circle cx="341.7" cy="376.5" r="0.8" fill="#983060" opacity="0.5"/><circle cx="341.6" cy="394.0" r="0.8" fill="#983060" opacity="0.5"/><circle cx="341.2" cy="396.5" r="0.8" fill="#983060" opacity="0.5"/><circle cx="339.7" cy="389.5" r="0.8" fill="#983060" opacity="0.5"/><circle cx="341.9" cy="379.2" r="0.8" fill="#983060" opacity="0.5"/><circle cx="340.0" cy="385.1" r="0.8" fill="#983060" opacity="0.5"/><circle cx="340.9" cy="381.0" r="0.8" fill="#983060" opacity="0.5"/><circle cx="339.7" cy="381.3" r="0.8" fill="#983060" opacity="0.5"/><circle cx="339.4" cy="375.2" r="0.8" fill="#983060" opacity="0.5"/><circle cx="340.8" cy="392.3" r="0.8" fill="#983060" opacity="0.5"/><circle cx="341.8" cy="371.6" r="0.85" fill="#b0607f" opacity="0.55"/><circle cx="340.3" cy="401.1" r="0.85" fill="#b0607f" opacity="0.55"/><circle cx="340.8" cy="369.8" r="0.85" fill="#b0607f" opacity="0.55"/><circle cx="339.9" cy="367.1" r="0.85" fill="#b0607f" opacity="0.55"/><circle cx="342.9" cy="365.6" r="0.85" fill="#b0607f" opacity="0.55"/><circle cx="341.2" cy="402.2" r="0.85" fill="#b0607f" opacity="0.55"/><circle cx="341.8" cy="370.2" r="0.85" fill="#b0607f" opacity="0.55"/><circle cx="340.4" cy="362.1" r="0.85" fill="#b0607f" opacity="0.55"/><circle cx="342.4" cy="365.2" r="1.0" fill="#a06282" opacity="0.75"/><circle cx="342.0" cy="400.8" r="1.0" fill="#a06282" opacity="0.75"/><text x="287.45" y="350.00" font-size="3.2" fill="#555" text-anchor="middle">p = 0.01</text><text x="300.25" y="350.00" font-size="3.2" fill="#555" text-anchor="middle">p = 0.01</text><text x="313.05" y="350.00" font-size="3.2" fill="#555" text-anchor="middle">p = 0.01</text><text x="325.85" y="350.00" font-size="3.2" fill="#555" text-anchor="middle">p = 0.01</text><text x="338.65" y="350.00" font-size="3.2" fill="#555" text-anchor="middle">p = 0.01</text><line x1="287.45" x2="287.45" y1="412.6" y2="414.0" stroke="#555" stroke-width="0.6"/><text transform="translate(290.75,416.60) rotate(-60)" font-size="6.3" fill="#333" stroke="#333" stroke-width="0.18" text-anchor="end">D28</text><line x1="300.25" x2="300.25" y1="412.6" y2="414.0" stroke="#555" stroke-width="0.6"/><text transform="translate(303.55,416.60) rotate(-60)" font-size="6.3" fill="#333" stroke="#333" stroke-width="0.18" text-anchor="end">D56</text><line x1="313.05" x2="313.05" y1="412.6" y2="414.0" stroke="#555" stroke-width="0.6"/><text transform="translate(316.35,416.60) rotate(-60)" font-size="6.3" fill="#333" stroke="#333" stroke-width="0.18" text-anchor="end">D90</text><line x1="325.85" x2="325.85" y1="412.6" y2="414.0" stroke="#555" stroke-width="0.6"/><text transform="translate(329.15,416.60) rotate(-60)" font-size="6.3" fill="#333" stroke="#333" stroke-width="0.18" text-anchor="end">D180</text><line x1="338.65" x2="338.65" y1="412.6" y2="414.0" stroke="#555" stroke-width="0.6"/><text transform="translate(341.95,416.60) rotate(-60)" font-size="6.3" fill="#333" stroke="#333" stroke-width="0.18" text-anchor="end">D360</text><rect x="358.3" y="336.2" width="66.0" height="7.4" fill="#1c1c1c"/><text x="391.30" y="343.00" font-size="7" font-weight="bold" fill="#fff" text-anchor="middle">11</text><rect x="358.3" y="345.3" width="66.0" height="67.30" fill="#fff" stroke="#b8b8b8" stroke-width="0.8"/><line x1="356.7" x2="358.3" y1="409.60" y2="409.60" stroke="#555" stroke-width="0.6"/><text x="356.00" y="411.80" font-size="6.4" fill="#3a3a3a" text-anchor="end">0</text><line x1="356.7" x2="358.3" y1="388.60" y2="388.60" stroke="#555" stroke-width="0.6"/><text x="356.00" y="390.80" font-size="6.4" fill="#3a3a3a" text-anchor="end">20</text><line x1="356.7" x2="358.3" y1="367.60" y2="367.60" stroke="#555" stroke-width="0.6"/><text x="356.00" y="369.80" font-size="6.4" fill="#3a3a3a" text-anchor="end">40</text><line x1="356.7" x2="358.3" y1="346.60" y2="346.60" stroke="#555" stroke-width="0.6"/><text x="356.00" y="348.80" font-size="6.4" fill="#3a3a3a" text-anchor="end">60</text><line x1="363.40" x2="363.40" y1="400.15" y2="409.60" stroke="#94c4dc" stroke-width="0.45" opacity="0.4"/><rect x="361.45" y="404.35" width="3.9" height="5.25" fill="#a6d0e4" stroke="#94c4dc" stroke-width="0.4"/><line x1="361.45" x2="365.35" y1="408.55" y2="408.55" stroke="#94c4dc" stroke-width="0.5"/><circle cx="362.1" cy="407.1" r="0.8" fill="#6eaace" opacity="0.5"/><circle cx="362.1" cy="407.1" r="0.8" fill="#6eaace" opacity="0.5"/><circle cx="364.1" cy="406.0" r="0.8" fill="#6eaace" opacity="0.5"/><circle cx="365.1" cy="406.6" r="0.8" fill="#6eaace" opacity="0.5"/><circle cx="364.2" cy="409.4" r="0.8" fill="#6eaace" opacity="0.5"/><circle cx="362.0" cy="405.4" r="0.8" fill="#6eaace" opacity="0.5"/><circle cx="361.8" cy="407.9" r="0.8" fill="#6eaace" opacity="0.5"/><circle cx="364.2" cy="406.5" r="0.8" fill="#6eaace" opacity="0.5"/><circle cx="364.1" cy="407.8" r="0.8" fill="#6eaace" opacity="0.5"/><circle cx="364.2" cy="407.7" r="0.8" fill="#6eaace" opacity="0.5"/><circle cx="365.1" cy="408.1" r="0.8" fill="#6eaace" opacity="0.5"/><circle cx="361.6" cy="407.3" r="0.8" fill="#6eaace" opacity="0.5"/><circle cx="364.7" cy="401.3" r="0.85" fill="#88b8d2" opacity="0.55"/><circle cx="364.7" cy="403.7" r="0.85" fill="#88b8d2" opacity="0.55"/><circle cx="363.0" cy="403.9" r="0.85" fill="#88b8d2" opacity="0.55"/><circle cx="363.9" cy="352.9" r="1.0" fill="#8aa8bc" opacity="0.75"/><circle cx="362.0" cy="392.8" r="1.0" fill="#8aa8bc" opacity="0.75"/><line x1="368.40" x2="368.40" y1="390.70" y2="408.55" stroke="#a84070" stroke-width="0.45" opacity="0.4"/><rect x="366.45" y="394.90" width="3.9" height="9.45" fill="#bb5280" stroke="#a84070" stroke-width="0.4"/><line x1="366.45" x2="370.35" y1="400.15" y2="400.15" stroke="#a84070" stroke-width="0.5"/><circle cx="367.9" cy="404.0" r="0.8" fill="#983060" opacity="0.5"/><circle cx="370.2" cy="396.1" r="0.8" fill="#983060" opacity="0.5"/><circle cx="369.9" cy="401.3" r="0.8" fill="#983060" opacity="0.5"/><circle cx="369.7" cy="396.9" r="0.8" fill="#983060" opacity="0.5"/><circle cx="370.1" cy="398.8" r="0.8" fill="#983060" opacity="0.5"/><circle cx="370.0" cy="398.3" r="0.8" fill="#983060" opacity="0.5"/><circle cx="367.3" cy="399.0" r="0.8" fill="#983060" opacity="0.5"/><circle cx="368.3" cy="399.4" r="0.8" fill="#983060" opacity="0.5"/><circle cx="367.9" cy="401.2" r="0.8" fill="#983060" opacity="0.5"/><circle cx="368.7" cy="399.5" r="0.8" fill="#983060" opacity="0.5"/><circle cx="367.6" cy="402.2" r="0.8" fill="#983060" opacity="0.5"/><circle cx="368.4" cy="399.6" r="0.8" fill="#983060" opacity="0.5"/><circle cx="369.0" cy="400.4" r="0.8" fill="#983060" opacity="0.5"/><circle cx="368.5" cy="402.6" r="0.8" fill="#983060" opacity="0.5"/><circle cx="369.1" cy="391.7" r="0.85" fill="#b0607f" opacity="0.55"/><circle cx="367.5" cy="406.4" r="0.85" fill="#b0607f" opacity="0.55"/><circle cx="368.0" cy="406.4" r="0.85" fill="#b0607f" opacity="0.55"/><circle cx="369.2" cy="393.2" r="0.85" fill="#b0607f" opacity="0.55"/><circle cx="369.3" cy="372.9" r="1.0" fill="#a06282" opacity="0.75"/><line x1="376.20" x2="376.20" y1="399.10" y2="409.60" stroke="#94c4dc" stroke-width="0.45" opacity="0.4"/><rect x="374.25" y="405.40" width="3.9" height="4.20" fill="#a6d0e4" stroke="#94c4dc" stroke-width="0.4"/><line x1="374.25" x2="378.15" y1="408.55" y2="408.55" stroke="#94c4dc" stroke-width="0.5"/><circle cx="377.0" cy="407.6" r="0.8" fill="#6eaace" opacity="0.5"/><circle cx="376.0" cy="408.7" r="0.8" fill="#6eaace" opacity="0.5"/><circle cx="375.5" cy="408.1" r="0.8" fill="#6eaace" opacity="0.5"/><circle cx="377.1" cy="408.1" r="0.8" fill="#6eaace" opacity="0.5"/><circle cx="375.1" cy="406.5" r="0.8" fill="#6eaace" opacity="0.5"/><circle cx="377.2" cy="408.6" r="0.8" fill="#6eaace" opacity="0.5"/><circle cx="376.8" cy="406.9" r="0.8" fill="#6eaace" opacity="0.5"/><circle cx="376.9" cy="406.9" r="0.8" fill="#6eaace" opacity="0.5"/><circle cx="374.6" cy="408.5" r="0.8" fill="#6eaace" opacity="0.5"/><circle cx="374.5" cy="408.1" r="0.8" fill="#6eaace" opacity="0.5"/><circle cx="376.3" cy="405.6" r="0.8" fill="#6eaace" opacity="0.5"/><circle cx="377.3" cy="399.3" r="0.85" fill="#88b8d2" opacity="0.55"/><circle cx="374.8" cy="403.3" r="0.85" fill="#88b8d2" opacity="0.55"/><circle cx="376.2" cy="400.8" r="0.85" fill="#88b8d2" opacity="0.55"/><circle cx="376.2" cy="403.7" r="0.85" fill="#88b8d2" opacity="0.55"/><circle cx="376.8" cy="386.5" r="1.0" fill="#8aa8bc" opacity="0.75"/><line x1="381.20" x2="381.20" y1="391.75" y2="408.55" stroke="#a84070" stroke-width="0.45" opacity="0.4"/><rect x="379.25" y="395.95" width="3.9" height="10.50" fill="#bb5280" stroke="#a84070" stroke-width="0.4"/><line x1="379.25" x2="383.15" y1="401.20" y2="401.20" stroke="#a84070" stroke-width="0.5"/><circle cx="382.5" cy="397.0" r="0.8" fill="#983060" opacity="0.5"/><circle cx="381.0" cy="397.3" r="0.8" fill="#983060" opacity="0.5"/><circle cx="380.5" cy="402.0" r="0.8" fill="#983060" opacity="0.5"/><circle cx="380.1" cy="396.2" r="0.8" fill="#983060" opacity="0.5"/><circle cx="380.4" cy="404.8" r="0.8" fill="#983060" opacity="0.5"/><circle cx="382.5" cy="396.8" r="0.8" fill="#983060" opacity="0.5"/><circle cx="382.5" cy="403.0" r="0.8" fill="#983060" opacity="0.5"/><circle cx="380.9" cy="397.1" r="0.8" fill="#983060" opacity="0.5"/><circle cx="382.2" cy="404.4" r="0.8" fill="#983060" opacity="0.5"/><circle cx="379.8" cy="402.5" r="0.8" fill="#983060" opacity="0.5"/><circle cx="381.0" cy="397.0" r="0.8" fill="#983060" opacity="0.5"/><circle cx="381.5" cy="402.3" r="0.8" fill="#983060" opacity="0.5"/><circle cx="379.5" cy="403.8" r="0.8" fill="#983060" opacity="0.5"/><circle cx="380.8" cy="402.4" r="0.8" fill="#983060" opacity="0.5"/><circle cx="380.7" cy="406.3" r="0.8" fill="#983060" opacity="0.5"/><circle cx="381.8" cy="407.9" r="0.85" fill="#b0607f" opacity="0.55"/><circle cx="379.5" cy="395.2" r="0.85" fill="#b0607f" opacity="0.55"/><circle cx="380.5" cy="407.3" r="0.85" fill="#b0607f" opacity="0.55"/><circle cx="382.7" cy="392.4" r="0.85" fill="#b0607f" opacity="0.55"/><line x1="389.00" x2="389.00" y1="397.00" y2="409.60" stroke="#94c4dc" stroke-width="0.45" opacity="0.4"/><rect x="387.05" y="402.25" width="3.9" height="7.35" fill="#a6d0e4" stroke="#94c4dc" stroke-width="0.4"/><line x1="387.05" x2="390.95" y1="407.50" y2="407.50" stroke="#94c4dc" stroke-width="0.5"/><circle cx="389.3" cy="407.9" r="0.8" fill="#6eaace" opacity="0.5"/><circle cx="388.4" cy="405.4" r="0.8" fill="#6eaace" opacity="0.5"/><circle cx="388.4" cy="409.3" r="0.8" fill="#6eaace" opacity="0.5"/><circle cx="389.4" cy="404.9" r="0.8" fill="#6eaace" opacity="0.5"/><circle cx="387.6" cy="405.9" r="0.8" fill="#6eaace" opacity="0.5"/><circle cx="388.3" cy="408.0" r="0.8" fill="#6eaace" opacity="0.5"/><circle cx="388.5" cy="406.5" r="0.8" fill="#6eaace" opacity="0.5"/><circle cx="387.6" cy="403.0" r="0.8" fill="#6eaace" opacity="0.5"/><circle cx="388.1" cy="402.4" r="0.8" fill="#6eaace" opacity="0.5"/><circle cx="388.1" cy="403.3" r="0.8" fill="#6eaace" opacity="0.5"/><circle cx="388.6" cy="405.3" r="0.8" fill="#6eaace" opacity="0.5"/><circle cx="390.1" cy="409.3" r="0.8" fill="#6eaace" opacity="0.5"/><circle cx="388.2" cy="403.6" r="0.8" fill="#6eaace" opacity="0.5"/><circle cx="388.9" cy="403.9" r="0.8" fill="#6eaace" opacity="0.5"/><circle cx="388.6" cy="402.0" r="0.85" fill="#88b8d2" opacity="0.55"/><circle cx="390.0" cy="399.0" r="0.85" fill="#88b8d2" opacity="0.55"/><circle cx="388.6" cy="399.4" r="0.85" fill="#88b8d2" opacity="0.55"/><circle cx="389.8" cy="354.0" r="1.0" fill="#8aa8bc" opacity="0.75"/><circle cx="387.9" cy="384.4" r="1.0" fill="#8aa8bc" opacity="0.75"/><line x1="394.00" x2="394.00" y1="391.75" y2="409.60" stroke="#a84070" stroke-width="0.45" opacity="0.4"/><rect x="392.05" y="397.00" width="3.9" height="10.50" fill="#bb5280" stroke="#a84070" stroke-width="0.4"/><line x1="392.05" x2="395.95" y1="402.25" y2="402.25" stroke="#a84070" stroke-width="0.5"/><circle cx="394.9" cy="404.8" r="0.8" fill="#983060" opacity="0.5"/><circle cx="395.8" cy="402.9" r="0.8" fill="#983060" opacity="0.5"/><circle cx="393.9" cy="406.5" r="0.8" fill="#983060" opacity="0.5"/><circle cx="392.2" cy="405.3" r="0.8" fill="#983060" opacity="0.5"/><circle cx="392.5" cy="406.5" r="0.8" fill="#983060" opacity="0.5"/><circle cx="393.8" cy="403.6" r="0.8" fill="#983060" opacity="0.5"/><circle cx="393.2" cy="402.2" r="0.8" fill="#983060" opacity="0.5"/><circle cx="394.1" cy="400.1" r="0.8" fill="#983060" opacity="0.5"/><circle cx="392.8" cy="397.2" r="0.8" fill="#983060" opacity="0.5"/><circle cx="394.0" cy="402.1" r="0.8" fill="#983060" opacity="0.5"/><circle cx="395.3" cy="403.6" r="0.8" fill="#983060" opacity="0.5"/><circle cx="395.4" cy="405.3" r="0.8" fill="#983060" opacity="0.5"/><circle cx="393.4" cy="403.7" r="0.8" fill="#983060" opacity="0.5"/><circle cx="394.2" cy="401.0" r="0.8" fill="#983060" opacity="0.5"/><circle cx="392.5" cy="404.5" r="0.8" fill="#983060" opacity="0.5"/><circle cx="392.6" cy="408.8" r="0.85" fill="#b0607f" opacity="0.55"/><circle cx="393.4" cy="394.2" r="0.85" fill="#b0607f" opacity="0.55"/><circle cx="393.4" cy="392.6" r="0.85" fill="#b0607f" opacity="0.55"/><circle cx="393.5" cy="392.0" r="0.85" fill="#b0607f" opacity="0.55"/><line x1="401.80" x2="401.80" y1="401.20" y2="409.60" stroke="#94c4dc" stroke-width="0.45" opacity="0.4"/><rect x="399.85" y="403.30" width="3.9" height="6.30" fill="#a6d0e4" stroke="#94c4dc" stroke-width="0.4"/><line x1="399.85" x2="403.75" y1="407.50" y2="407.50" stroke="#94c4dc" stroke-width="0.5"/><circle cx="400.6" cy="407.1" r="0.8" fill="#6eaace" opacity="0.5"/><circle cx="402.4" cy="405.4" r="0.8" fill="#6eaace" opacity="0.5"/><circle cx="401.5" cy="406.8" r="0.8" fill="#6eaace" opacity="0.5"/><circle cx="402.8" cy="408.1" r="0.8" fill="#6eaace" opacity="0.5"/><circle cx="403.0" cy="406.7" r="0.8" fill="#6eaace" opacity="0.5"/><circle cx="402.6" cy="407.2" r="0.8" fill="#6eaace" opacity="0.5"/><circle cx="400.8" cy="409.4" r="0.8" fill="#6eaace" opacity="0.5"/><circle cx="402.5" cy="403.5" r="0.8" fill="#6eaace" opacity="0.5"/><circle cx="401.8" cy="405.3" r="0.8" fill="#6eaace" opacity="0.5"/><circle cx="400.7" cy="406.6" r="0.8" fill="#6eaace" opacity="0.5"/><circle cx="402.3" cy="408.5" r="0.8" fill="#6eaace" opacity="0.5"/><circle cx="400.9" cy="405.2" r="0.8" fill="#6eaace" opacity="0.5"/><circle cx="400.5" cy="405.5" r="0.8" fill="#6eaace" opacity="0.5"/><circle cx="401.8" cy="402.9" r="0.85" fill="#88b8d2" opacity="0.55"/><circle cx="400.5" cy="402.1" r="0.85" fill="#88b8d2" opacity="0.55"/><circle cx="401.8" cy="376.0" r="1.0" fill="#8aa8bc" opacity="0.75"/><circle cx="402.1" cy="384.4" r="1.0" fill="#8aa8bc" opacity="0.75"/><line x1="406.80" x2="406.80" y1="399.10" y2="401.20" stroke="#a84070" stroke-width="0.45" opacity="0.4"/><rect x="404.85" y="400.15" width="3.9" height="1.20" fill="#bb5280" stroke="#a84070" stroke-width="0.4"/><line x1="404.85" x2="408.75" y1="400.15" y2="400.15" stroke="#a84070" stroke-width="0.5"/><circle cx="406.1" cy="401.1" r="0.8" fill="#983060" opacity="0.5"/><circle cx="407.0" cy="400.5" r="0.8" fill="#983060" opacity="0.5"/><circle cx="407.8" cy="400.6" r="0.8" fill="#983060" opacity="0.5"/><circle cx="405.8" cy="400.6" r="0.8" fill="#983060" opacity="0.5"/><circle cx="408.0" cy="400.7" r="0.8" fill="#983060" opacity="0.5"/><circle cx="407.7" cy="400.6" r="0.8" fill="#983060" opacity="0.5"/><circle cx="408.5" cy="399.7" r="0.85" fill="#b0607f" opacity="0.55"/><circle cx="405.4" cy="399.5" r="0.85" fill="#b0607f" opacity="0.55"/><line x1="414.60" x2="414.60" y1="399.10" y2="409.60" stroke="#94c4dc" stroke-width="0.45" opacity="0.4"/><rect x="412.65" y="404.35" width="3.9" height="5.25" fill="#a6d0e4" stroke="#94c4dc" stroke-width="0.4"/><line x1="412.65" x2="416.55" y1="408.55" y2="408.55" stroke="#94c4dc" stroke-width="0.5"/><circle cx="412.9" cy="406.4" r="0.8" fill="#6eaace" opacity="0.5"/><circle cx="416.3" cy="404.7" r="0.8" fill="#6eaace" opacity="0.5"/><circle cx="413.8" cy="405.8" r="0.8" fill="#6eaace" opacity="0.5"/><circle cx="413.4" cy="405.2" r="0.8" fill="#6eaace" opacity="0.5"/><circle cx="414.7" cy="405.3" r="0.8" fill="#6eaace" opacity="0.5"/><circle cx="416.0" cy="409.5" r="0.8" fill="#6eaace" opacity="0.5"/><circle cx="415.8" cy="407.3" r="0.8" fill="#6eaace" opacity="0.5"/><circle cx="414.7" cy="406.0" r="0.8" fill="#6eaace" opacity="0.5"/><circle cx="413.5" cy="405.1" r="0.8" fill="#6eaace" opacity="0.5"/><circle cx="414.0" cy="404.9" r="0.8" fill="#6eaace" opacity="0.5"/><circle cx="414.0" cy="409.5" r="0.8" fill="#6eaace" opacity="0.5"/><circle cx="413.1" cy="409.3" r="0.8" fill="#6eaace" opacity="0.5"/><circle cx="413.4" cy="403.7" r="0.85" fill="#88b8d2" opacity="0.55"/><circle cx="416.1" cy="402.9" r="0.85" fill="#88b8d2" opacity="0.55"/><circle cx="416.4" cy="399.8" r="0.85" fill="#88b8d2" opacity="0.55"/><circle cx="414.4" cy="379.2" r="1.0" fill="#8aa8bc" opacity="0.75"/><circle cx="415.4" cy="394.9" r="1.0" fill="#8aa8bc" opacity="0.75"/><line x1="419.60" x2="419.60" y1="395.95" y2="408.55" stroke="#a84070" stroke-width="0.45" opacity="0.4"/><rect x="417.65" y="399.10" width="3.9" height="8.40" fill="#bb5280" stroke="#a84070" stroke-width="0.4"/><line x1="417.65" x2="421.55" y1="403.30" y2="403.30" stroke="#a84070" stroke-width="0.5"/><circle cx="421.1" cy="405.1" r="0.8" fill="#983060" opacity="0.5"/><circle cx="420.4" cy="400.7" r="0.8" fill="#983060" opacity="0.5"/><circle cx="418.1" cy="405.6" r="0.8" fill="#983060" opacity="0.5"/><circle cx="419.8" cy="399.7" r="0.8" fill="#983060" opacity="0.5"/><circle cx="420.9" cy="402.4" r="0.8" fill="#983060" opacity="0.5"/><circle cx="420.3" cy="406.3" r="0.8" fill="#983060" opacity="0.5"/><circle cx="420.6" cy="403.6" r="0.8" fill="#983060" opacity="0.5"/><circle cx="418.5" cy="403.7" r="0.8" fill="#983060" opacity="0.5"/><circle cx="418.8" cy="399.5" r="0.8" fill="#983060" opacity="0.5"/><circle cx="420.8" cy="401.2" r="0.8" fill="#983060" opacity="0.5"/><circle cx="420.3" cy="405.4" r="0.8" fill="#983060" opacity="0.5"/><circle cx="418.6" cy="404.2" r="0.8" fill="#983060" opacity="0.5"/><circle cx="421.2" cy="405.7" r="0.8" fill="#983060" opacity="0.5"/><circle cx="419.6" cy="397.5" r="0.85" fill="#b0607f" opacity="0.55"/><circle cx="420.5" cy="396.7" r="0.85" fill="#b0607f" opacity="0.55"/><circle cx="418.6" cy="408.2" r="0.85" fill="#b0607f" opacity="0.55"/><text x="365.90" y="350.00" font-size="3.2" fill="#555" text-anchor="middle">p = 0.01</text><text x="378.70" y="350.00" font-size="3.2" fill="#555" text-anchor="middle">p = 0.01</text><text x="391.50" y="350.00" font-size="3.2" fill="#555" text-anchor="middle">p = 0.01</text><text x="404.30" y="350.00" font-size="3.2" fill="#555" text-anchor="middle">p = 0.01</text><text x="417.10" y="350.00" font-size="3.2" fill="#555" text-anchor="middle">p = 0.01</text><line x1="365.90" x2="365.90" y1="412.6" y2="414.0" stroke="#555" stroke-width="0.6"/><text transform="translate(369.20,416.60) rotate(-60)" font-size="6.3" fill="#333" stroke="#333" stroke-width="0.18" text-anchor="end">D28</text><line x1="378.70" x2="378.70" y1="412.6" y2="414.0" stroke="#555" stroke-width="0.6"/><text transform="translate(382.00,416.60) rotate(-60)" font-size="6.3" fill="#333" stroke="#333" stroke-width="0.18" text-anchor="end">D56</text><line x1="391.50" x2="391.50" y1="412.6" y2="414.0" stroke="#555" stroke-width="0.6"/><text transform="translate(394.80,416.60) rotate(-60)" font-size="6.3" fill="#333" stroke="#333" stroke-width="0.18" text-anchor="end">D90</text><line x1="404.30" x2="404.30" y1="412.6" y2="414.0" stroke="#555" stroke-width="0.6"/><text transform="translate(407.60,416.60) rotate(-60)" font-size="6.3" fill="#333" stroke="#333" stroke-width="0.18" text-anchor="end">D180</text><line x1="417.10" x2="417.10" y1="412.6" y2="414.0" stroke="#555" stroke-width="0.6"/><text transform="translate(420.40,416.60) rotate(-60)" font-size="6.3" fill="#333" stroke="#333" stroke-width="0.18" text-anchor="end">D360</text><path d="M40.8 239.2 L40.8 235.2 L347.3 235.2 L347.3 239.2 M194 235.2 L194 231.4" fill="none" stroke="#6e6e6e" stroke-width="1"/><line x1="194.00" y1="223.70" x2="194.00" y2="229.30" stroke="#a8456f" stroke-width="1.3"/><line x1="191.58" y1="225.10" x2="196.42" y2="227.90" stroke="#a8456f" stroke-width="1.3"/><line x1="191.58" y1="227.90" x2="196.42" y2="225.10" stroke="#a8456f" stroke-width="1.3"/><path d="M356.4 238.4 L356.4 234.8 L501.6 234.8 L501.6 238.4 M428.8 234.8 L428.8 231.0" fill="none" stroke="#6e6e6e" stroke-width="1"/><line x1="428.80" y1="222.80" x2="428.80" y2="228.40" stroke="#2aaacc" stroke-width="1.3"/><line x1="426.38" y1="224.20" x2="431.22" y2="227.00" stroke="#2aaacc" stroke-width="1.3"/><line x1="426.38" y1="227.00" x2="431.22" y2="224.20" stroke="#2aaacc" stroke-width="1.3"/><path d="M277.8 336.6 L277.8 333.2 L424.6 333.2 L424.6 336.6 M351.6 333.2 L351.6 328.4" fill="none" stroke="#6e6e6e" stroke-width="1"/><line x1="351.50" y1="320.50" x2="351.50" y2="326.10" stroke="#a8456f" stroke-width="1.3"/><line x1="349.08" y1="321.90" x2="353.92" y2="324.70" stroke="#a8456f" stroke-width="1.3"/><line x1="349.08" y1="324.70" x2="353.92" y2="321.90" stroke="#a8456f" stroke-width="1.3"/><line x1="77.40" y1="325.60" x2="77.40" y2="331.20" stroke="#2aaacc" stroke-width="1.3"/><line x1="74.98" y1="327.00" x2="79.82" y2="329.80" stroke="#2aaacc" stroke-width="1.3"/><line x1="74.98" y1="329.80" x2="79.82" y2="327.00" stroke="#2aaacc" stroke-width="1.3"/><rect x="432.2" y="353.2" width="18.2" height="5.5" fill="#aed0e2" stroke="#8fb6cc" stroke-width="0.6"/><rect x="432.2" y="370.3" width="18.2" height="5.5" fill="#c8749a" stroke="#a8547a" stroke-width="0.6"/><text x="453.6" y="360.1" font-size="8.8" fill="#111" stroke="#111" stroke-width="0.15">TND</text><text x="453.6" y="377.1" font-size="8.8" fill="#111" stroke="#111" stroke-width="0.15">TR</text><text transform="translate(28.3,323.3) rotate(-90)" font-size="8.7" fill="#111" stroke="#111" stroke-width="0.15" text-anchor="middle">Cluster frequency (%)</text><text x="236" y="447.6" font-size="8.2" fill="#111" stroke="#111" stroke-width="0.15" text-anchor="middle">Days post-HCT</text></svg>
<div class="cap"><div class="l"><b>Figure 1</b>. <b>Activated memory CD8<sup>+</sup> T cells are</b></div><div class="l"><b>increased and CD45RA-expressing T cells</b></div><div class="l"><b>decreased after T<sub>N</sub>D compared to TR HCT.</b> A,</div><div class="l">Bubble plot showing (left to right) percentage of total</div><div class="l">CD8<sup>+</sup> T cells in each cluster, proportion of cells per</div><div class="l">cluster in each annotation (based on similarity of</div><div class="l">patterns of marker expression &nbsp;to subsets defined by</div><div class="l">conventional gating) quantitatively represented by gray</div><div class="l">bubbles, and relative staining for each surface marker</div><div class="l">per cluster represented by color (intensity of staining)</div><div class="l">and bubble size (proportion positive). B, Box and</div><div class="l">whisker plots comparing proportions of each CD8<sup>+</sup></div><div class="l">cluster longitudinally after T<sub>N</sub>D (blue) and TR (pink)</div><div class="l">HCT. Blue asterisks indicate significant increase in</div><div class="l">cluster frequency in T<sub>N</sub>D versus TR at &ge;1 timepoint,</div><div class="l">while pink indicates significant decrease in T<sub>N</sub>D versus</div><div class="l">TR. Significance = p&lt;0.01 by Bonferroni corrected</div><div class="l">comparisons of means, corrected for days-post-HCT</div><div class="l last">comparison).</div></div>
</body></html>
